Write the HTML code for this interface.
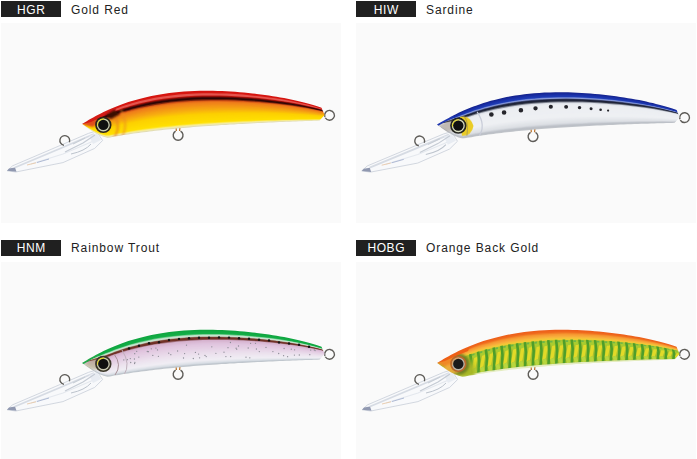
<!DOCTYPE html>
<html><head><meta charset="utf-8">
<style>
html,body{margin:0;padding:0;background:#fff;width:697px;height:459px;overflow:hidden;position:relative;font-family:"Liberation Sans",sans-serif;}
.lab{position:absolute;width:60px;height:16px;background:#202020;color:#fff;font-size:12px;line-height:16px;text-align:center;letter-spacing:0.6px;text-indent:0.6px;}
.nm{position:absolute;height:16px;color:#222;font-size:12px;line-height:16px;letter-spacing:0.9px;white-space:nowrap;}
.lab span,.nm span{position:relative;}
.img{position:absolute;display:block;}
</style></head><body>
<svg width="0" height="0" style="position:absolute">
<defs>
<filter id="blur05" filterUnits="userSpaceOnUse" x="0" y="0" width="340" height="200"><feGaussianBlur stdDeviation="0.4"/></filter>
<filter id="blur1" filterUnits="userSpaceOnUse" x="0" y="0" width="340" height="200"><feGaussianBlur stdDeviation="0.8"/></filter>
<filter id="blur2" filterUnits="userSpaceOnUse" x="0" y="0" width="340" height="200"><feGaussianBlur stdDeviation="2"/></filter>

</defs></svg>

<div class="lab" style="left:1px;top:1px"><span style="top:1px">HGR</span></div>
<div class="nm" style="left:71px;top:1px"><span style="top:1px">Gold Red</span></div>
<svg class="img" style="left:1px;top:23px" width="340" height="200" viewBox="0 0 340 200">
  <rect width="340" height="200" fill="#fafafa"/>
  <g transform="translate(0,0) rotate(0,81,101)">
  <path d="M95.3,108 L87.4,110.4 L54.2,124.6 L11.6,142.8 L6.1,147.8 L14.8,149 L62,139.6 L93.7,125.4 L101.6,117.5 Z" fill="#f8f9fb" stroke="#c8ced8" stroke-width="0.8"/>
  <path d="M14,144.5 L58,126 L93,111" stroke="#d6dbe3" stroke-width="1.8" fill="none"/>
  <path d="M30,141 L62,131 L95,117" stroke="#e4e8ee" stroke-width="1.2" fill="none"/>
  <path d="M36,139.5 L48,136" stroke="#a8b4d0" stroke-width="0.9" fill="none"/>
  <path d="M26,142 L35,139.8" stroke="#e8c8a8" stroke-width="0.9" fill="none"/>
  <path d="M6.1,147.8 L8,145.6 L14,144.6 L15.5,148.8 Z" fill="#9098b0"/>
  <path d="M88,113 L96,110 L100,117 L92,121 Z" fill="#e8ecf2"/>
  <path d="M64,129 L82,120 L94,112" stroke="#c4cad3" stroke-width="1.1" fill="none"/>
  <path d="M70,131 Q84,128 90,121" stroke="#bcc3cc" stroke-width="1" fill="none"/>
  <path d="M72,121 L84,115" stroke="#c8ced6" stroke-width="1.2" fill="none"/>
  <path d="M62.95,122.33 A4.9,4.9 0 1 1 68.40,119.18" fill="none" stroke="#5e5c58" stroke-width="1.4"/>
  <path d="M175,104 L175.4,108 M179,104 L178.6,108" stroke="#b87028" stroke-width="1.2"/>
  <path d="M179.55,108.06 A4.9,4.9 0 1 1 174.65,108.06" fill="none" stroke="#5e5c58" stroke-width="1.4"/>
  <path d="M323.90,93.98 A4.9,4.9 0 1 1 324.26,94.75" fill="none" stroke="#5e5c58" stroke-width="1.4"/>
  <clipPath id="c1"><path d="M81,101 L83.1,99.7 L85.3,98.4 L87.5,97.1 L89.8,95.8 L92.2,94.5 L94.7,93.1 L97.2,91.8 L99.8,90.5 L102.5,89.1 L105.3,87.8 L108.1,86.5 L111.1,85.2 L114.1,83.9 L117.3,82.7 L120.5,81.5 L123.9,80.3 L127.3,79.1 L130.9,78 L134.6,76.9 L138.3,75.9 L142.2,74.9 L146.2,73.9 L150.4,73 L154.7,72.2 L159,71.4 L163.6,70.7 L168.2,70.1 L173,69.5 L177.9,69 L183,68.6 L188.2,68.2 L193.6,68 L199.1,67.8 L203,67.8 L207.5,67.8 L212,67.8 L216.5,67.9 L221,68.1 L225.5,68.3 L229.9,68.5 L234.3,68.8 L238.7,69.2 L243,69.5 L247.3,70 L251.5,70.4 L255.7,70.9 L259.8,71.4 L263.9,72 L267.9,72.6 L271.8,73.2 L275.6,73.8 L279.3,74.5 L283,75.1 L286.6,75.8 L290,76.5 L293.4,77.3 L296.7,78 L299.8,78.8 L302.9,79.5 L305.8,80.3 L308.6,81 L311.2,81.8 L313.8,82.6 L316.2,83.3 L318.4,84.1 L320.5,84.8 L323.6,92 L323.4,88 L323.6,92 L323.6,92 L318.6,97.6 L315.9,97.7 L313,97.8 L310.2,97.9 L307.2,98 L304.3,98.1 L301.2,98.2 L298.1,98.3 L295,98.4 L291.8,98.6 L288.5,98.7 L285.2,98.8 L281.8,98.9 L278.4,99.1 L274.9,99.2 L271.4,99.4 L267.8,99.6 L264.2,99.7 L260.5,99.9 L256.7,100.1 L252.9,100.3 L249.1,100.5 L245.1,100.7 L241.2,100.9 L237.1,101.1 L233.1,101.4 L228.9,101.6 L224.8,101.9 L220.5,102.1 L216.2,102.4 L211.9,102.7 L207.5,103 L203,103.3 L199.4,103.5 L195.8,103.8 L192.3,104.1 L188.8,104.4 L185.4,104.7 L182,105 L178.7,105.3 L175.4,105.6 L172.2,105.9 L169.1,106.2 L165.9,106.5 L162.9,106.8 L159.9,107.2 L156.9,107.5 L154,107.8 L151.1,108.2 L148.3,108.5 L145.5,108.9 L142.8,109.2 L140.1,109.6 L137.5,109.9 L134.9,110.3 L132.3,110.6 L129.8,111 L127.3,111.4 L124.9,111.8 L122.5,112.1 L120.2,112.5 L117.9,112.9 L115.6,113.3 L113.4,113.6 L111.2,114 L109.1,114.4 L107,114.8 L106.2,114.7 L105.4,114.5 L104.5,114.2 L103.6,114 L102.7,113.7 L101.8,113.4 L101,113.1 L100.1,112.7 L99.2,112.4 L98.4,112 L97.6,111.6 L96.7,111.2 L95.9,110.8 L95.1,110.4 L94.3,109.9 L93.5,109.5 L92.7,109 L91.9,108.5 L91.1,108 L90.3,107.5 L89.6,107 L88.8,106.5 L88.1,106 L87.4,105.5 L86.6,105 L85.9,104.5 L85.2,104 L84.5,103.5 L83.8,103 L83.2,102.6 L82.5,102.1 L81.9,101.6 L81.2,101.2 L81,101 Z"/></clipPath>
  <g clip-path="url(#c1)"><g opacity="0.995">
<path d="M81,98 L84,96.2 L87,94.4 L90,92.7 L93,91 L96,89.4 L99,87.9 L102,86.4 L105,84.9 L108,83.6 L111,82.3 L114,81 L117,79.8 L120,78.7 L123,77.6 L126,76.6 L129,75.6 L130,75.3 L138,73 L146,71 L154,69.3 L162,68 L170,66.9 L178,66 L186,65.4 L194,65 L202,64.8 L210,64.8 L218,65 L226,65.3 L234,65.8 L242,66.4 L250,67.2 L258,68.2 L266,69.3 L274,70.5 L282,72 L290,73.5 L298,75.3 L306,77.3 L314,79.6 L318,80.9 L321.5,82.2 L322.8,83.2 L323.4,85 L323.6,89 L323.6,95 L323.4,98 L322.8,99.8 L321.5,100.2 L318,100.7 L314,100.8 L306,101 L298,101.3 L290,101.6 L282,101.9 L274,102.3 L266,102.6 L258,103 L250,103.4 L242,103.9 L234,104.3 L226,104.8 L218,105.3 L210,105.8 L202,106.4 L194,107 L186,107.6 L178,108.3 L170,109.1 L162,109.9 L154,110.8 L146,111.8 L138,112.8 L130,114 L129,114.1 L126,114.6 L123,115 L120,115.5 L117,116 L114,116.5 L111,117.1 L108,117.6 L105,117.4 L102,116.5 L99,115.3 L96,113.8 L93,112.2 L90,110.3 L87,108.3 L84,106.2 L81,104 Z" fill="#d51610"/>
<path d="M81,101 L84,99.3 L87,97.6 L90,96 L93,94.4 L96,92.9 L99,91.4 L102,89.9 L105,88.6 L108,87.2 L111,85.9 L114,84.7 L117,83.5 L120,82.4 L123,81.3 L126,80.3 L129,79.3 L130,79 L138,76.8 L146,74.8 L154,73.2 L162,71.8 L170,70.7 L178,69.8 L186,69.2 L194,68.8 L202,68.6 L210,68.6 L218,68.8 L226,69.1 L234,69.6 L242,70.2 L250,71 L258,71.9 L266,72.9 L274,74.1 L282,75.5 L290,77.1 L298,78.8 L306,80.7 L314,83 L318,84.3 L321.5,85.5 L322.8,86.4 L323.4,88.2 L323.6,92 L323.6,95 L323.4,98 L322.8,99.8 L321.5,100.2 L318,100.7 L314,100.8 L306,101 L298,101.3 L290,101.6 L282,101.9 L274,102.3 L266,102.6 L258,103 L250,103.4 L242,103.9 L234,104.3 L226,104.8 L218,105.3 L210,105.8 L202,106.4 L194,107 L186,107.6 L178,108.3 L170,109.1 L162,109.9 L154,110.8 L146,111.8 L138,112.8 L130,114 L129,114.1 L126,114.6 L123,115 L120,115.5 L117,116 L114,116.5 L111,117.1 L108,117.6 L105,117.4 L102,116.5 L99,115.3 L96,113.8 L93,112.2 L90,110.3 L87,108.3 L84,106.2 L81,104 Z" fill="#d61611"/>
<path d="M81,101 L84,99.4 L87,97.8 L90,96.2 L93,94.7 L96,93.3 L99,91.9 L102,90.5 L105,89.2 L108,87.9 L111,86.6 L114,85.4 L117,84.2 L120,83.1 L123,82.1 L126,81.1 L129,80.1 L130,79.8 L138,77.5 L146,75.6 L154,74 L162,72.6 L170,71.5 L178,70.7 L186,70.1 L194,69.7 L202,69.4 L210,69.4 L218,69.6 L226,69.9 L234,70.3 L242,70.9 L250,71.7 L258,72.5 L266,73.6 L274,74.7 L282,76.1 L290,77.6 L298,79.2 L306,81.1 L314,83.3 L318,84.6 L321.5,85.8 L322.8,86.7 L323.4,88.3 L323.6,92 L323.6,95 L323.4,98 L322.8,99.8 L321.5,100.2 L318,100.7 L314,100.8 L306,101 L298,101.3 L290,101.6 L282,101.9 L274,102.3 L266,102.6 L258,103 L250,103.4 L242,103.9 L234,104.3 L226,104.8 L218,105.3 L210,105.8 L202,106.4 L194,107 L186,107.6 L178,108.3 L170,109.1 L162,109.9 L154,110.8 L146,111.8 L138,112.8 L130,114 L129,114.1 L126,114.6 L123,115 L120,115.5 L117,116 L114,116.5 L111,117.1 L108,117.6 L105,117.4 L102,116.5 L99,115.3 L96,113.8 L93,112.2 L90,110.3 L87,108.3 L84,106.2 L81,104 Z" fill="#d71812"/>
<path d="M81,101 L84,99.5 L87,98 L90,96.5 L93,95.1 L96,93.7 L99,92.4 L102,91.1 L105,89.8 L108,88.5 L111,87.3 L114,86.1 L117,84.9 L120,83.8 L123,82.8 L126,81.8 L129,80.9 L130,80.6 L138,78.3 L146,76.4 L154,74.8 L162,73.5 L170,72.4 L178,71.5 L186,70.9 L194,70.5 L202,70.3 L210,70.2 L218,70.4 L226,70.6 L234,71.1 L242,71.6 L250,72.4 L258,73.2 L266,74.2 L274,75.3 L282,76.6 L290,78.1 L298,79.7 L306,81.6 L314,83.7 L318,84.9 L321.5,86 L322.8,86.9 L323.4,88.5 L323.6,92 L323.6,95 L323.4,98 L322.8,99.8 L321.5,100.2 L318,100.7 L314,100.8 L306,101 L298,101.3 L290,101.6 L282,101.9 L274,102.3 L266,102.6 L258,103 L250,103.4 L242,103.9 L234,104.3 L226,104.8 L218,105.3 L210,105.8 L202,106.4 L194,107 L186,107.6 L178,108.3 L170,109.1 L162,109.9 L154,110.8 L146,111.8 L138,112.8 L130,114 L129,114.1 L126,114.6 L123,115 L120,115.5 L117,116 L114,116.5 L111,117.1 L108,117.6 L105,117.4 L102,116.5 L99,115.3 L96,113.8 L93,112.2 L90,110.3 L87,108.3 L84,106.2 L81,104 Z" fill="#e4544d"/>
<path d="M81,101 L84,99.6 L87,98.2 L90,96.9 L93,95.6 L96,94.4 L99,93.1 L102,91.9 L105,90.7 L108,89.5 L111,88.3 L114,87.1 L117,86 L120,84.9 L123,83.9 L126,82.9 L129,82 L130,81.7 L138,79.5 L146,77.6 L154,76.1 L162,74.7 L170,73.7 L178,72.8 L186,72.2 L194,71.8 L202,71.5 L210,71.5 L218,71.6 L226,71.8 L234,72.2 L242,72.7 L250,73.4 L258,74.2 L266,75.2 L274,76.2 L282,77.5 L290,78.9 L298,80.4 L306,82.2 L314,84.2 L318,85.4 L321.5,86.5 L322.8,87.3 L323.4,88.7 L323.6,92 L323.6,95 L323.4,98 L322.8,99.8 L321.5,100.2 L318,100.7 L314,100.8 L306,101 L298,101.3 L290,101.6 L282,101.9 L274,102.3 L266,102.6 L258,103 L250,103.4 L242,103.9 L234,104.3 L226,104.8 L218,105.3 L210,105.8 L202,106.4 L194,107 L186,107.6 L178,108.3 L170,109.1 L162,109.9 L154,110.8 L146,111.8 L138,112.8 L130,114 L129,114.1 L126,114.6 L123,115 L120,115.5 L117,116 L114,116.5 L111,117.1 L108,117.6 L105,117.4 L102,116.5 L99,115.3 L96,113.8 L93,112.2 L90,110.3 L87,108.3 L84,106.2 L81,104 Z" fill="#e4554e"/>
<path d="M81,101 L84,99.7 L87,98.5 L90,97.3 L93,96.1 L96,94.9 L99,93.8 L102,92.6 L105,91.5 L108,90.4 L111,89.1 L114,88 L117,86.9 L120,85.8 L123,84.8 L126,83.9 L129,83 L130,82.7 L138,80.5 L146,78.7 L154,77.1 L162,75.8 L170,74.7 L178,73.9 L186,73.3 L194,72.8 L202,72.6 L210,72.5 L218,72.6 L226,72.8 L234,73.2 L242,73.7 L250,74.3 L258,75.1 L266,76 L274,77 L282,78.2 L290,79.5 L298,81 L306,82.7 L314,84.7 L318,85.8 L321.5,86.8 L322.8,87.6 L323.4,88.9 L323.6,92 L323.6,95 L323.4,98 L322.8,99.8 L321.5,100.2 L318,100.7 L314,100.8 L306,101 L298,101.3 L290,101.6 L282,101.9 L274,102.3 L266,102.6 L258,103 L250,103.4 L242,103.9 L234,104.3 L226,104.8 L218,105.3 L210,105.8 L202,106.4 L194,107 L186,107.6 L178,108.3 L170,109.1 L162,109.9 L154,110.8 L146,111.8 L138,112.8 L130,114 L129,114.1 L126,114.6 L123,115 L120,115.5 L117,116 L114,116.5 L111,117.1 L108,117.6 L105,117.4 L102,116.5 L99,115.3 L96,113.8 L93,112.2 L90,110.3 L87,108.3 L84,106.2 L81,104 Z" fill="#bc150e"/>
<path d="M81,101 L84,99.8 L87,98.7 L90,97.6 L93,96.5 L96,95.4 L99,94.3 L102,93.2 L105,92.2 L108,91.1 L111,89.9 L114,88.7 L117,87.6 L120,86.6 L123,85.6 L126,84.7 L129,83.8 L130,83.5 L138,81.4 L146,79.6 L154,78 L162,76.7 L170,75.7 L178,74.8 L186,74.2 L194,73.7 L202,73.5 L210,73.4 L218,73.5 L226,73.7 L234,74 L242,74.5 L250,75.1 L258,75.8 L266,76.7 L274,77.7 L282,78.8 L290,80.1 L298,81.5 L306,83.2 L314,85.1 L318,86.1 L321.5,87.1 L322.8,87.9 L323.4,89.1 L323.6,92 L323.6,95 L323.4,98 L322.8,99.8 L321.5,100.2 L318,100.7 L314,100.8 L306,101 L298,101.3 L290,101.6 L282,101.9 L274,102.3 L266,102.6 L258,103 L250,103.4 L242,103.9 L234,104.3 L226,104.8 L218,105.3 L210,105.8 L202,106.4 L194,107 L186,107.6 L178,108.3 L170,109.1 L162,109.9 L154,110.8 L146,111.8 L138,112.8 L130,114 L129,114.1 L126,114.6 L123,115 L120,115.5 L117,116 L114,116.5 L111,117.1 L108,117.6 L105,117.4 L102,116.5 L99,115.3 L96,113.8 L93,112.2 L90,110.3 L87,108.3 L84,106.2 L81,104 Z" fill="#680b07"/>
<path d="M81,101 L84,99.9 L87,98.9 L90,97.9 L93,96.9 L96,95.9 L99,94.9 L102,94 L105,93 L108,91.9 L111,90.7 L114,89.6 L117,88.5 L120,87.5 L123,86.6 L126,85.6 L129,84.8 L130,84.5 L138,82.4 L146,80.6 L154,79.1 L162,77.8 L170,76.7 L178,75.9 L186,75.3 L194,74.8 L202,74.5 L210,74.4 L218,74.5 L226,74.7 L234,75 L242,75.4 L250,76 L258,76.7 L266,77.5 L274,78.4 L282,79.5 L290,80.7 L298,82.1 L306,83.7 L314,85.5 L318,86.5 L321.5,87.5 L322.8,88.2 L323.4,89.3 L323.6,92 L323.6,95 L323.4,98 L322.8,99.8 L321.5,100.2 L318,100.7 L314,100.8 L306,101 L298,101.3 L290,101.6 L282,101.9 L274,102.3 L266,102.6 L258,103 L250,103.4 L242,103.9 L234,104.3 L226,104.8 L218,105.3 L210,105.8 L202,106.4 L194,107 L186,107.6 L178,108.3 L170,109.1 L162,109.9 L154,110.8 L146,111.8 L138,112.8 L130,114 L129,114.1 L126,114.6 L123,115 L120,115.5 L117,116 L114,116.5 L111,117.1 L108,117.6 L105,117.4 L102,116.5 L99,115.3 L96,113.8 L93,112.2 L90,110.3 L87,108.3 L84,106.2 L81,104 Z" fill="#2e0606"/>
<path d="M81,101 L84,100 L87,99.1 L90,98.2 L93,97.3 L96,96.4 L99,95.5 L102,94.6 L105,93.6 L108,92.6 L111,91.5 L114,90.4 L117,89.3 L120,88.3 L123,87.4 L126,86.4 L129,85.6 L130,85.3 L138,83.2 L146,81.5 L154,80 L162,78.7 L170,77.6 L178,76.8 L186,76.2 L194,75.7 L202,75.4 L210,75.3 L218,75.3 L226,75.5 L234,75.8 L242,76.2 L250,76.7 L258,77.4 L266,78.2 L274,79.1 L282,80.1 L290,81.3 L298,82.6 L306,84.1 L314,85.9 L318,86.9 L321.5,87.8 L322.8,88.5 L323.4,89.5 L323.6,92 L323.6,95 L323.4,98 L322.8,99.8 L321.5,100.2 L318,100.7 L314,100.8 L306,101 L298,101.3 L290,101.6 L282,101.9 L274,102.3 L266,102.6 L258,103 L250,103.4 L242,103.9 L234,104.3 L226,104.8 L218,105.3 L210,105.8 L202,106.4 L194,107 L186,107.6 L178,108.3 L170,109.1 L162,109.9 L154,110.8 L146,111.8 L138,112.8 L130,114 L129,114.1 L126,114.6 L123,115 L120,115.5 L117,116 L114,116.5 L111,117.1 L108,117.6 L105,117.4 L102,116.5 L99,115.3 L96,113.8 L93,112.2 L90,110.3 L87,108.3 L84,106.2 L81,104 Z" fill="#2c0606"/>
<path d="M81,101 L84,100.1 L87,99.3 L90,98.5 L93,97.7 L96,96.8 L99,96 L102,95.2 L105,94.3 L108,93.3 L111,92.2 L114,91.1 L117,90.1 L120,89.1 L123,88.1 L126,87.2 L129,86.4 L130,86.1 L138,84.1 L146,82.3 L154,80.8 L162,79.6 L170,78.6 L178,77.7 L186,77.1 L194,76.6 L202,76.3 L210,76.2 L218,76.2 L226,76.3 L234,76.6 L242,77 L250,77.5 L258,78.1 L266,78.9 L274,79.7 L282,80.7 L290,81.8 L298,83.1 L306,84.6 L314,86.3 L318,87.2 L321.5,88.1 L322.8,88.7 L323.4,89.7 L323.6,92 L323.6,95 L323.4,98 L322.8,99.8 L321.5,100.2 L318,100.7 L314,100.8 L306,101 L298,101.3 L290,101.6 L282,101.9 L274,102.3 L266,102.6 L258,103 L250,103.4 L242,103.9 L234,104.3 L226,104.8 L218,105.3 L210,105.8 L202,106.4 L194,107 L186,107.6 L178,108.3 L170,109.1 L162,109.9 L154,110.8 L146,111.8 L138,112.8 L130,114 L129,114.1 L126,114.6 L123,115 L120,115.5 L117,116 L114,116.5 L111,117.1 L108,117.6 L105,117.4 L102,116.5 L99,115.3 L96,113.8 L93,112.2 L90,110.3 L87,108.3 L84,106.2 L81,104 Z" fill="#79250d"/>
<path d="M81,101 L84,100.3 L87,99.5 L90,98.8 L93,98.1 L96,97.4 L99,96.7 L102,95.9 L105,95.1 L108,94.1 L111,93 L114,92 L117,91 L120,90 L123,89.1 L126,88.2 L129,87.4 L130,87.1 L138,85.1 L146,83.4 L154,81.9 L162,80.7 L170,79.6 L178,78.8 L186,78.2 L194,77.7 L202,77.4 L210,77.2 L218,77.2 L226,77.3 L234,77.6 L242,77.9 L250,78.4 L258,79 L266,79.7 L274,80.5 L282,81.4 L290,82.5 L298,83.7 L306,85.1 L314,86.7 L318,87.6 L321.5,88.4 L322.8,89.1 L323.4,89.9 L323.6,92 L323.6,95 L323.4,98 L322.8,99.8 L321.5,100.2 L318,100.7 L314,100.8 L306,101 L298,101.3 L290,101.6 L282,101.9 L274,102.3 L266,102.6 L258,103 L250,103.4 L242,103.9 L234,104.3 L226,104.8 L218,105.3 L210,105.8 L202,106.4 L194,107 L186,107.6 L178,108.3 L170,109.1 L162,109.9 L154,110.8 L146,111.8 L138,112.8 L130,114 L129,114.1 L126,114.6 L123,115 L120,115.5 L117,116 L114,116.5 L111,117.1 L108,117.6 L105,117.4 L102,116.5 L99,115.3 L96,113.8 L93,112.2 L90,110.3 L87,108.3 L84,106.2 L81,104 Z" fill="#d25216"/>
<path d="M81,101 L84,100.4 L87,99.7 L90,99.1 L93,98.5 L96,97.9 L99,97.2 L102,96.5 L105,95.7 L108,94.8 L111,93.8 L114,92.7 L117,91.7 L120,90.8 L123,89.9 L126,89 L129,88.2 L130,87.9 L138,86 L146,84.3 L154,82.8 L162,81.6 L170,80.5 L178,79.7 L186,79.1 L194,78.6 L202,78.3 L210,78.1 L218,78.1 L226,78.2 L234,78.4 L242,78.7 L250,79.2 L258,79.7 L266,80.4 L274,81.1 L282,82 L290,83.1 L298,84.2 L306,85.6 L314,87.1 L318,88 L321.5,88.7 L322.8,89.3 L323.4,90.1 L323.6,92 L323.6,95 L323.4,98 L322.8,99.8 L321.5,100.2 L318,100.7 L314,100.8 L306,101 L298,101.3 L290,101.6 L282,101.9 L274,102.3 L266,102.6 L258,103 L250,103.4 L242,103.9 L234,104.3 L226,104.8 L218,105.3 L210,105.8 L202,106.4 L194,107 L186,107.6 L178,108.3 L170,109.1 L162,109.9 L154,110.8 L146,111.8 L138,112.8 L130,114 L129,114.1 L126,114.6 L123,115 L120,115.5 L117,116 L114,116.5 L111,117.1 L108,117.6 L105,117.4 L102,116.5 L99,115.3 L96,113.8 L93,112.2 L90,110.3 L87,108.3 L84,106.2 L81,104 Z" fill="#e46c1a"/>
<path d="M81,101 L84,100.5 L87,99.9 L90,99.4 L93,98.9 L96,98.3 L99,97.7 L102,97.1 L105,96.4 L108,95.5 L111,94.5 L114,93.5 L117,92.5 L120,91.5 L123,90.7 L126,89.8 L129,89 L130,88.7 L138,86.8 L146,85.1 L154,83.7 L162,82.5 L170,81.5 L178,80.6 L186,80 L194,79.5 L202,79.2 L210,79 L218,78.9 L226,79 L234,79.2 L242,79.5 L250,79.9 L258,80.4 L266,81 L274,81.8 L282,82.6 L290,83.6 L298,84.7 L306,86 L314,87.5 L318,88.3 L321.5,89 L322.8,89.6 L323.4,90.2 L323.6,92 L323.6,95 L323.4,98 L322.8,99.8 L321.5,100.2 L318,100.7 L314,100.8 L306,101 L298,101.3 L290,101.6 L282,101.9 L274,102.3 L266,102.6 L258,103 L250,103.4 L242,103.9 L234,104.3 L226,104.8 L218,105.3 L210,105.8 L202,106.4 L194,107 L186,107.6 L178,108.3 L170,109.1 L162,109.9 L154,110.8 L146,111.8 L138,112.8 L130,114 L129,114.1 L126,114.6 L123,115 L120,115.5 L117,116 L114,116.5 L111,117.1 L108,117.6 L105,117.4 L102,116.5 L99,115.3 L96,113.8 L93,112.2 L90,110.3 L87,108.3 L84,106.2 L81,104 Z" fill="#ef7d1b"/>
<path d="M81,101 L84,100.6 L87,100.1 L90,99.7 L93,99.3 L96,98.8 L99,98.3 L102,97.7 L105,97.1 L108,96.3 L111,95.2 L114,94.2 L117,93.3 L120,92.3 L123,91.5 L126,90.6 L129,89.8 L130,89.6 L138,87.7 L146,86 L154,84.6 L162,83.4 L170,82.4 L178,81.6 L186,80.9 L194,80.4 L202,80.1 L210,79.9 L218,79.8 L226,79.9 L234,80 L242,80.3 L250,80.7 L258,81.2 L266,81.7 L274,82.4 L282,83.2 L290,84.2 L298,85.2 L306,86.4 L314,87.9 L318,88.7 L321.5,89.3 L322.8,89.9 L323.4,90.4 L323.6,92 L323.6,95 L323.4,98 L322.8,99.8 L321.5,100.2 L318,100.7 L314,100.8 L306,101 L298,101.3 L290,101.6 L282,101.9 L274,102.3 L266,102.6 L258,103 L250,103.4 L242,103.9 L234,104.3 L226,104.8 L218,105.3 L210,105.8 L202,106.4 L194,107 L186,107.6 L178,108.3 L170,109.1 L162,109.9 L154,110.8 L146,111.8 L138,112.8 L130,114 L129,114.1 L126,114.6 L123,115 L120,115.5 L117,116 L114,116.5 L111,117.1 L108,117.6 L105,117.4 L102,116.5 L99,115.3 L96,113.8 L93,112.2 L90,110.3 L87,108.3 L84,106.2 L81,104 Z" fill="#f0831a"/>
<path d="M81,101 L84,100.7 L87,100.3 L90,100 L93,99.7 L96,99.3 L99,98.8 L102,98.3 L105,97.7 L108,97 L111,95.9 L114,95 L117,94 L120,93.1 L123,92.3 L126,91.4 L129,90.7 L130,90.4 L138,88.5 L146,86.9 L154,85.5 L162,84.3 L170,83.3 L178,82.5 L186,81.8 L194,81.3 L202,81 L210,80.8 L218,80.7 L226,80.7 L234,80.9 L242,81.1 L250,81.5 L258,81.9 L266,82.4 L274,83.1 L282,83.9 L290,84.7 L298,85.7 L306,86.9 L314,88.3 L318,89 L321.5,89.6 L322.8,90.1 L323.4,90.6 L323.6,92 L323.6,95 L323.4,98 L322.8,99.8 L321.5,100.2 L318,100.7 L314,100.8 L306,101 L298,101.3 L290,101.6 L282,101.9 L274,102.3 L266,102.6 L258,103 L250,103.4 L242,103.9 L234,104.3 L226,104.8 L218,105.3 L210,105.8 L202,106.4 L194,107 L186,107.6 L178,108.3 L170,109.1 L162,109.9 L154,110.8 L146,111.8 L138,112.8 L130,114 L129,114.1 L126,114.6 L123,115 L120,115.5 L117,116 L114,116.5 L111,117.1 L108,117.6 L105,117.4 L102,116.5 L99,115.3 L96,113.8 L93,112.2 L90,110.3 L87,108.3 L84,106.2 L81,104 Z" fill="#f18919"/>
<path d="M81,101 L84,100.8 L87,100.5 L90,100.3 L93,100 L96,99.7 L99,99.4 L102,98.9 L105,98.4 L108,97.7 L111,96.7 L114,95.7 L117,94.8 L120,93.9 L123,93.1 L126,92.3 L129,91.5 L130,91.2 L138,89.4 L146,87.8 L154,86.4 L162,85.2 L170,84.2 L178,83.4 L186,82.8 L194,82.2 L202,81.9 L210,81.7 L218,81.6 L226,81.6 L234,81.7 L242,81.9 L250,82.2 L258,82.6 L266,83.1 L274,83.8 L282,84.5 L290,85.3 L298,86.3 L306,87.4 L314,88.6 L318,89.4 L321.5,89.9 L322.8,90.4 L323.4,90.8 L323.6,92 L323.6,95 L323.4,98 L322.8,99.8 L321.5,100.2 L318,100.7 L314,100.8 L306,101 L298,101.3 L290,101.6 L282,101.9 L274,102.3 L266,102.6 L258,103 L250,103.4 L242,103.9 L234,104.3 L226,104.8 L218,105.3 L210,105.8 L202,106.4 L194,107 L186,107.6 L178,108.3 L170,109.1 L162,109.9 L154,110.8 L146,111.8 L138,112.8 L130,114 L129,114.1 L126,114.6 L123,115 L120,115.5 L117,116 L114,116.5 L111,117.1 L108,117.6 L105,117.4 L102,116.5 L99,115.3 L96,113.8 L93,112.2 L90,110.3 L87,108.3 L84,106.2 L81,104 Z" fill="#f28f17"/>
<path d="M81,101 L84,100.9 L87,100.7 L90,100.6 L93,100.4 L96,100.2 L99,99.9 L102,99.5 L105,99.1 L108,98.4 L111,97.4 L114,96.5 L117,95.6 L120,94.7 L123,93.9 L126,93.1 L129,92.3 L130,92.1 L138,90.3 L146,88.7 L154,87.3 L162,86.1 L170,85.2 L178,84.3 L186,83.7 L194,83.2 L202,82.8 L210,82.6 L218,82.5 L226,82.4 L234,82.5 L242,82.7 L250,83 L258,83.4 L266,83.8 L274,84.4 L282,85.1 L290,85.9 L298,86.8 L306,87.8 L314,89 L318,89.7 L321.5,90.3 L322.8,90.7 L323.4,91 L323.6,92 L323.6,95 L323.4,98 L322.8,99.8 L321.5,100.2 L318,100.7 L314,100.8 L306,101 L298,101.3 L290,101.6 L282,101.9 L274,102.3 L266,102.6 L258,103 L250,103.4 L242,103.9 L234,104.3 L226,104.8 L218,105.3 L210,105.8 L202,106.4 L194,107 L186,107.6 L178,108.3 L170,109.1 L162,109.9 L154,110.8 L146,111.8 L138,112.8 L130,114 L129,114.1 L126,114.6 L123,115 L120,115.5 L117,116 L114,116.5 L111,117.1 L108,117.6 L105,117.4 L102,116.5 L99,115.3 L96,113.8 L93,112.2 L90,110.3 L87,108.3 L84,106.2 L81,104 Z" fill="#f39516"/>
<path d="M81,101 L84,101 L87,100.9 L90,100.9 L93,100.8 L96,100.7 L99,100.5 L102,100.2 L105,99.8 L108,99.1 L111,98.2 L114,97.2 L117,96.3 L120,95.5 L123,94.7 L126,93.9 L129,93.2 L130,92.9 L138,91.1 L146,89.6 L154,88.2 L162,87.1 L170,86.1 L178,85.3 L186,84.6 L194,84.1 L202,83.7 L210,83.5 L218,83.3 L226,83.3 L234,83.4 L242,83.5 L250,83.8 L258,84.1 L266,84.5 L274,85.1 L282,85.7 L290,86.4 L298,87.3 L306,88.3 L314,89.4 L318,90.1 L321.5,90.6 L322.8,90.9 L323.4,91.1 L323.6,92 L323.6,95 L323.4,98 L322.8,99.8 L321.5,100.2 L318,100.7 L314,100.8 L306,101 L298,101.3 L290,101.6 L282,101.9 L274,102.3 L266,102.6 L258,103 L250,103.4 L242,103.9 L234,104.3 L226,104.8 L218,105.3 L210,105.8 L202,106.4 L194,107 L186,107.6 L178,108.3 L170,109.1 L162,109.9 L154,110.8 L146,111.8 L138,112.8 L130,114 L129,114.1 L126,114.6 L123,115 L120,115.5 L117,116 L114,116.5 L111,117.1 L108,117.6 L105,117.4 L102,116.5 L99,115.3 L96,113.8 L93,112.2 L90,110.3 L87,108.3 L84,106.2 L81,104 Z" fill="#f49b15"/>
<path d="M81,101 L84,101.1 L87,101.1 L90,101.2 L93,101.2 L96,101.1 L99,101 L102,100.8 L105,100.5 L108,99.8 L111,98.9 L114,98 L117,97.1 L120,96.3 L123,95.5 L126,94.7 L129,94 L130,93.8 L138,92 L146,90.5 L154,89.1 L162,88 L170,87 L178,86.2 L186,85.5 L194,85 L202,84.6 L210,84.4 L218,84.2 L226,84.2 L234,84.2 L242,84.3 L250,84.5 L258,84.8 L266,85.2 L274,85.7 L282,86.3 L290,87 L298,87.8 L306,88.7 L314,89.8 L318,90.4 L321.5,90.9 L322.8,91.2 L323.4,91.3 L323.6,92 L323.6,95 L323.4,98 L322.8,99.8 L321.5,100.2 L318,100.7 L314,100.8 L306,101 L298,101.3 L290,101.6 L282,101.9 L274,102.3 L266,102.6 L258,103 L250,103.4 L242,103.9 L234,104.3 L226,104.8 L218,105.3 L210,105.8 L202,106.4 L194,107 L186,107.6 L178,108.3 L170,109.1 L162,109.9 L154,110.8 L146,111.8 L138,112.8 L130,114 L129,114.1 L126,114.6 L123,115 L120,115.5 L117,116 L114,116.5 L111,117.1 L108,117.6 L105,117.4 L102,116.5 L99,115.3 L96,113.8 L93,112.2 L90,110.3 L87,108.3 L84,106.2 L81,104 Z" fill="#f5a113"/>
<path d="M81,101 L84,101.2 L87,101.3 L90,101.5 L93,101.6 L96,101.6 L99,101.6 L102,101.4 L105,101.1 L108,100.6 L111,99.6 L114,98.7 L117,97.9 L120,97.1 L123,96.3 L126,95.5 L129,94.8 L130,94.6 L138,92.9 L146,91.4 L154,90 L162,88.9 L170,87.9 L178,87.1 L186,86.5 L194,85.9 L202,85.5 L210,85.3 L218,85.1 L226,85 L234,85 L242,85.1 L250,85.3 L258,85.6 L266,85.9 L274,86.4 L282,86.9 L290,87.6 L298,88.3 L306,89.2 L314,90.2 L318,90.8 L321.5,91.2 L322.8,91.5 L323.4,91.5 L323.6,92 L323.6,95 L323.4,98 L322.8,99.8 L321.5,100.2 L318,100.7 L314,100.8 L306,101 L298,101.3 L290,101.6 L282,101.9 L274,102.3 L266,102.6 L258,103 L250,103.4 L242,103.9 L234,104.3 L226,104.8 L218,105.3 L210,105.8 L202,106.4 L194,107 L186,107.6 L178,108.3 L170,109.1 L162,109.9 L154,110.8 L146,111.8 L138,112.8 L130,114 L129,114.1 L126,114.6 L123,115 L120,115.5 L117,116 L114,116.5 L111,117.1 L108,117.6 L105,117.4 L102,116.5 L99,115.3 L96,113.8 L93,112.2 L90,110.3 L87,108.3 L84,106.2 L81,104 Z" fill="#f6a712"/>
<path d="M81,101 L84,101.3 L87,101.5 L90,101.8 L93,102 L96,102.1 L99,102.1 L102,102 L105,101.8 L108,101.3 L111,100.4 L114,99.5 L117,98.7 L120,97.9 L123,97.1 L126,96.4 L129,95.7 L130,95.4 L138,93.7 L146,92.2 L154,90.9 L162,89.8 L170,88.9 L178,88.1 L186,87.4 L194,86.8 L202,86.4 L210,86.2 L218,86 L226,85.9 L234,85.9 L242,85.9 L250,86.1 L258,86.3 L266,86.6 L274,87 L282,87.5 L290,88.1 L298,88.8 L306,89.6 L314,90.6 L318,91.1 L321.5,91.5 L322.8,91.8 L323.4,91.7 L323.6,92 L323.6,95 L323.4,98 L322.8,99.8 L321.5,100.2 L318,100.7 L314,100.8 L306,101 L298,101.3 L290,101.6 L282,101.9 L274,102.3 L266,102.6 L258,103 L250,103.4 L242,103.9 L234,104.3 L226,104.8 L218,105.3 L210,105.8 L202,106.4 L194,107 L186,107.6 L178,108.3 L170,109.1 L162,109.9 L154,110.8 L146,111.8 L138,112.8 L130,114 L129,114.1 L126,114.6 L123,115 L120,115.5 L117,116 L114,116.5 L111,117.1 L108,117.6 L105,117.4 L102,116.5 L99,115.3 L96,113.8 L93,112.2 L90,110.3 L87,108.3 L84,106.2 L81,104 Z" fill="#f7ad11"/>
<path d="M81,101 L84,101.4 L87,101.7 L90,102.1 L93,102.4 L96,102.6 L99,102.6 L102,102.6 L105,102.5 L108,102 L111,101.1 L114,100.2 L117,99.4 L120,98.6 L123,97.9 L126,97.2 L129,96.5 L130,96.3 L138,94.6 L146,93.1 L154,91.9 L162,90.7 L170,89.8 L178,89 L186,88.3 L194,87.8 L202,87.3 L210,87.1 L218,86.8 L226,86.7 L234,86.7 L242,86.7 L250,86.9 L258,87.1 L266,87.3 L274,87.7 L282,88.1 L290,88.7 L298,89.3 L306,90.1 L314,91 L318,91.5 L321.5,91.8 L322.8,92 L323.4,91.8 L323.6,92 L323.6,95 L323.4,98 L322.8,99.8 L321.5,100.2 L318,100.7 L314,100.8 L306,101 L298,101.3 L290,101.6 L282,101.9 L274,102.3 L266,102.6 L258,103 L250,103.4 L242,103.9 L234,104.3 L226,104.8 L218,105.3 L210,105.8 L202,106.4 L194,107 L186,107.6 L178,108.3 L170,109.1 L162,109.9 L154,110.8 L146,111.8 L138,112.8 L130,114 L129,114.1 L126,114.6 L123,115 L120,115.5 L117,116 L114,116.5 L111,117.1 L108,117.6 L105,117.4 L102,116.5 L99,115.3 L96,113.8 L93,112.2 L90,110.3 L87,108.3 L84,106.2 L81,104 Z" fill="#f8b40e"/>
<path d="M81,101 L84,101.5 L87,102 L90,102.4 L93,102.8 L96,103.1 L99,103.2 L102,103.3 L105,103.2 L108,102.8 L111,101.9 L114,101.1 L117,100.3 L120,99.5 L123,98.8 L126,98.1 L129,97.4 L130,97.2 L138,95.5 L146,94.1 L154,92.8 L162,91.7 L170,90.8 L178,90 L186,89.3 L194,88.8 L202,88.3 L210,88 L218,87.8 L226,87.6 L234,87.6 L242,87.6 L250,87.7 L258,87.8 L266,88.1 L274,88.4 L282,88.8 L290,89.3 L298,89.9 L306,90.6 L314,91.4 L318,91.9 L321.5,92.1 L322.8,92.3 L323.4,92 L323.6,92 L323.6,95 L323.4,98 L322.8,99.8 L321.5,100.2 L318,100.7 L314,100.8 L306,101 L298,101.3 L290,101.6 L282,101.9 L274,102.3 L266,102.6 L258,103 L250,103.4 L242,103.9 L234,104.3 L226,104.8 L218,105.3 L210,105.8 L202,106.4 L194,107 L186,107.6 L178,108.3 L170,109.1 L162,109.9 L154,110.8 L146,111.8 L138,112.8 L130,114 L129,114.1 L126,114.6 L123,115 L120,115.5 L117,116 L114,116.5 L111,117.1 L108,117.6 L105,117.4 L102,116.5 L99,115.3 L96,113.8 L93,112.2 L90,110.3 L87,108.3 L84,106.2 L81,104 Z" fill="#fabc0a"/>
<path d="M81,101 L84,101.6 L87,102.2 L90,102.7 L93,103.2 L96,103.6 L99,103.8 L102,104 L105,103.9 L108,103.5 L111,102.7 L114,101.9 L117,101.1 L120,100.3 L123,99.6 L126,98.9 L129,98.3 L130,98.1 L138,96.5 L146,95.1 L154,93.8 L162,92.7 L170,91.8 L178,91 L186,90.3 L194,89.7 L202,89.3 L210,89 L218,88.7 L226,88.6 L234,88.5 L242,88.5 L250,88.5 L258,88.6 L266,88.8 L274,89.1 L282,89.5 L290,89.9 L298,90.4 L306,91 L314,91.8 L318,92.2 L321.5,92.4 L322.8,92.6 L323.4,92.2 L323.6,92 L323.6,95 L323.4,98 L322.8,99.8 L321.5,100.2 L318,100.7 L314,100.8 L306,101 L298,101.3 L290,101.6 L282,101.9 L274,102.3 L266,102.6 L258,103 L250,103.4 L242,103.9 L234,104.3 L226,104.8 L218,105.3 L210,105.8 L202,106.4 L194,107 L186,107.6 L178,108.3 L170,109.1 L162,109.9 L154,110.8 L146,111.8 L138,112.8 L130,114 L129,114.1 L126,114.6 L123,115 L120,115.5 L117,116 L114,116.5 L111,117.1 L108,117.6 L105,117.4 L102,116.5 L99,115.3 L96,113.8 L93,112.2 L90,110.3 L87,108.3 L84,106.2 L81,104 Z" fill="#fac406"/>
<path d="M81,101 L84,101.7 L87,102.4 L90,103 L93,103.6 L96,104.1 L99,104.4 L102,104.6 L105,104.7 L108,104.3 L111,103.5 L114,102.7 L117,101.9 L120,101.2 L123,100.5 L126,99.8 L129,99.2 L130,99 L138,97.4 L146,96 L154,94.8 L162,93.7 L170,92.8 L178,92 L186,91.3 L194,90.7 L202,90.3 L210,89.9 L218,89.7 L226,89.5 L234,89.4 L242,89.3 L250,89.3 L258,89.4 L266,89.6 L274,89.8 L282,90.1 L290,90.5 L298,91 L306,91.5 L314,92.2 L318,92.6 L321.5,92.8 L322.8,92.9 L323.4,92.4 L323.6,92 L323.6,95 L323.4,98 L322.8,99.8 L321.5,100.2 L318,100.7 L314,100.8 L306,101 L298,101.3 L290,101.6 L282,101.9 L274,102.3 L266,102.6 L258,103 L250,103.4 L242,103.9 L234,104.3 L226,104.8 L218,105.3 L210,105.8 L202,106.4 L194,107 L186,107.6 L178,108.3 L170,109.1 L162,109.9 L154,110.8 L146,111.8 L138,112.8 L130,114 L129,114.1 L126,114.6 L123,115 L120,115.5 L117,116 L114,116.5 L111,117.1 L108,117.6 L105,117.4 L102,116.5 L99,115.3 L96,113.8 L93,112.2 L90,110.3 L87,108.3 L84,106.2 L81,104 Z" fill="#fccc02"/>
<path d="M81,101 L84,101.8 L87,102.6 L90,103.4 L93,104 L96,104.6 L99,105 L102,105.3 L105,105.4 L108,105.1 L111,104.3 L114,103.5 L117,102.8 L120,102 L123,101.4 L126,100.7 L129,100.1 L130,99.9 L138,98.3 L146,97 L154,95.8 L162,94.7 L170,93.8 L178,93 L186,92.3 L194,91.7 L202,91.3 L210,90.9 L218,90.6 L226,90.4 L234,90.3 L242,90.2 L250,90.2 L258,90.2 L266,90.3 L274,90.5 L282,90.8 L290,91.1 L298,91.5 L306,92 L314,92.6 L318,93 L321.5,93.1 L322.8,93.2 L323.4,92.6 L323.6,92 L323.6,95 L323.4,98 L322.8,99.8 L321.5,100.2 L318,100.7 L314,100.8 L306,101 L298,101.3 L290,101.6 L282,101.9 L274,102.3 L266,102.6 L258,103 L250,103.4 L242,103.9 L234,104.3 L226,104.8 L218,105.3 L210,105.8 L202,106.4 L194,107 L186,107.6 L178,108.3 L170,109.1 L162,109.9 L154,110.8 L146,111.8 L138,112.8 L130,114 L129,114.1 L126,114.6 L123,115 L120,115.5 L117,116 L114,116.5 L111,117.1 L108,117.6 L105,117.4 L102,116.5 L99,115.3 L96,113.8 L93,112.2 L90,110.3 L87,108.3 L84,106.2 L81,104 Z" fill="#fcd100"/>
<path d="M81,101 L84,101.9 L87,102.8 L90,103.6 L93,104.4 L96,105 L99,105.5 L102,105.9 L105,106 L108,105.8 L111,105 L114,104.2 L117,103.5 L120,102.8 L123,102.1 L126,101.5 L129,100.8 L130,100.6 L138,99.1 L146,97.8 L154,96.6 L162,95.6 L170,94.7 L178,93.9 L186,93.2 L194,92.6 L202,92.1 L210,91.7 L218,91.4 L226,91.2 L234,91 L242,90.9 L250,90.9 L258,90.9 L266,91 L274,91.1 L282,91.4 L290,91.6 L298,92 L306,92.4 L314,93 L318,93.3 L321.5,93.4 L322.8,93.5 L323.4,92.8 L323.6,92 L323.6,95 L323.4,98 L322.8,99.8 L321.5,100.2 L318,100.7 L314,100.8 L306,101 L298,101.3 L290,101.6 L282,101.9 L274,102.3 L266,102.6 L258,103 L250,103.4 L242,103.9 L234,104.3 L226,104.8 L218,105.3 L210,105.8 L202,106.4 L194,107 L186,107.6 L178,108.3 L170,109.1 L162,109.9 L154,110.8 L146,111.8 L138,112.8 L130,114 L129,114.1 L126,114.6 L123,115 L120,115.5 L117,116 L114,116.5 L111,117.1 L108,117.6 L105,117.4 L102,116.5 L99,115.3 L96,113.8 L93,112.2 L90,110.3 L87,108.3 L84,106.2 L81,104 Z" fill="#fcd200"/>
<path d="M81,101 L84,102 L87,103 L90,103.9 L93,104.8 L96,105.5 L99,106 L102,106.4 L105,106.7 L108,106.4 L111,105.7 L114,104.9 L117,104.2 L120,103.5 L123,102.9 L126,102.2 L129,101.6 L130,101.4 L138,100 L146,98.6 L154,97.5 L162,96.4 L170,95.5 L178,94.7 L186,94 L194,93.5 L202,93 L210,92.6 L218,92.3 L226,92 L234,91.8 L242,91.7 L250,91.6 L258,91.6 L266,91.7 L274,91.8 L282,91.9 L290,92.2 L298,92.5 L306,92.9 L314,93.4 L318,93.7 L321.5,93.7 L322.8,93.7 L323.4,93 L323.6,92 L323.6,95 L323.4,98 L322.8,99.8 L321.5,100.2 L318,100.7 L314,100.8 L306,101 L298,101.3 L290,101.6 L282,101.9 L274,102.3 L266,102.6 L258,103 L250,103.4 L242,103.9 L234,104.3 L226,104.8 L218,105.3 L210,105.8 L202,106.4 L194,107 L186,107.6 L178,108.3 L170,109.1 L162,109.9 L154,110.8 L146,111.8 L138,112.8 L130,114 L129,114.1 L126,114.6 L123,115 L120,115.5 L117,116 L114,116.5 L111,117.1 L108,117.6 L105,117.4 L102,116.5 L99,115.3 L96,113.8 L93,112.2 L90,110.3 L87,108.3 L84,106.2 L81,104 Z" fill="#fdd400"/>
<path d="M81,101 L84,102.1 L87,103.2 L90,104.2 L93,105.1 L96,105.9 L99,106.5 L102,107 L105,107.3 L108,107.1 L111,106.3 L114,105.6 L117,104.9 L120,104.3 L123,103.6 L126,103 L129,102.4 L130,102.2 L138,100.8 L146,99.5 L154,98.3 L162,97.3 L170,96.4 L178,95.6 L186,94.9 L194,94.3 L202,93.8 L210,93.4 L218,93.1 L226,92.8 L234,92.6 L242,92.4 L250,92.3 L258,92.3 L266,92.3 L274,92.4 L282,92.5 L290,92.7 L298,93 L306,93.3 L314,93.7 L318,94 L321.5,94 L322.8,94 L323.4,93.1 L323.6,92 L323.6,95 L323.4,98 L322.8,99.8 L321.5,100.2 L318,100.7 L314,100.8 L306,101 L298,101.3 L290,101.6 L282,101.9 L274,102.3 L266,102.6 L258,103 L250,103.4 L242,103.9 L234,104.3 L226,104.8 L218,105.3 L210,105.8 L202,106.4 L194,107 L186,107.6 L178,108.3 L170,109.1 L162,109.9 L154,110.8 L146,111.8 L138,112.8 L130,114 L129,114.1 L126,114.6 L123,115 L120,115.5 L117,116 L114,116.5 L111,117.1 L108,117.6 L105,117.4 L102,116.5 L99,115.3 L96,113.8 L93,112.2 L90,110.3 L87,108.3 L84,106.2 L81,104 Z" fill="#fdd600"/>
<path d="M81,101 L84,102.2 L87,103.4 L90,104.5 L93,105.5 L96,106.3 L99,107.1 L102,107.6 L105,107.9 L108,107.8 L111,107 L114,106.3 L117,105.7 L120,105 L123,104.4 L126,103.8 L129,103.2 L130,103 L138,101.6 L146,100.3 L154,99.2 L162,98.2 L170,97.3 L178,96.5 L186,95.8 L194,95.2 L202,94.7 L210,94.3 L218,93.9 L226,93.6 L234,93.4 L242,93.2 L250,93.1 L258,93 L266,93 L274,93 L282,93.1 L290,93.2 L298,93.4 L306,93.7 L314,94.1 L318,94.3 L321.5,94.3 L322.8,94.2 L323.4,93.3 L323.6,92 L323.6,95 L323.4,98 L322.8,99.8 L321.5,100.2 L318,100.7 L314,100.8 L306,101 L298,101.3 L290,101.6 L282,101.9 L274,102.3 L266,102.6 L258,103 L250,103.4 L242,103.9 L234,104.3 L226,104.8 L218,105.3 L210,105.8 L202,106.4 L194,107 L186,107.6 L178,108.3 L170,109.1 L162,109.9 L154,110.8 L146,111.8 L138,112.8 L130,114 L129,114.1 L126,114.6 L123,115 L120,115.5 L117,116 L114,116.5 L111,117.1 L108,117.6 L105,117.4 L102,116.5 L99,115.3 L96,113.8 L93,112.2 L90,110.3 L87,108.3 L84,106.2 L81,104 Z" fill="#fdd700"/>
<path d="M81,101 L84,102.3 L87,103.6 L90,104.8 L93,105.8 L96,106.8 L99,107.6 L102,108.2 L105,108.6 L108,108.4 L111,107.7 L114,107 L117,106.4 L120,105.7 L123,105.1 L126,104.5 L129,104 L130,103.8 L138,102.4 L146,101.1 L154,100 L162,99 L170,98.1 L178,97.3 L186,96.7 L194,96 L202,95.5 L210,95.1 L218,94.7 L226,94.4 L234,94.2 L242,94 L250,93.8 L258,93.7 L266,93.6 L274,93.6 L282,93.7 L290,93.8 L298,93.9 L306,94.1 L314,94.5 L318,94.6 L321.5,94.5 L322.8,94.5 L323.4,93.5 L323.6,92 L323.6,95 L323.4,98 L322.8,99.8 L321.5,100.2 L318,100.7 L314,100.8 L306,101 L298,101.3 L290,101.6 L282,101.9 L274,102.3 L266,102.6 L258,103 L250,103.4 L242,103.9 L234,104.3 L226,104.8 L218,105.3 L210,105.8 L202,106.4 L194,107 L186,107.6 L178,108.3 L170,109.1 L162,109.9 L154,110.8 L146,111.8 L138,112.8 L130,114 L129,114.1 L126,114.6 L123,115 L120,115.5 L117,116 L114,116.5 L111,117.1 L108,117.6 L105,117.4 L102,116.5 L99,115.3 L96,113.8 L93,112.2 L90,110.3 L87,108.3 L84,106.2 L81,104 Z" fill="#fed900"/>
<path d="M81,101 L84,102.4 L87,103.7 L90,105 L93,106.2 L96,107.2 L99,108.1 L102,108.7 L105,109.2 L108,109.1 L111,108.4 L114,107.8 L117,107.1 L120,106.5 L123,105.9 L126,105.3 L129,104.8 L130,104.6 L138,103.2 L146,102 L154,100.9 L162,99.9 L170,99 L178,98.2 L186,97.5 L194,96.9 L202,96.4 L210,96 L218,95.6 L226,95.2 L234,94.9 L242,94.7 L250,94.5 L258,94.4 L266,94.3 L274,94.2 L282,94.2 L290,94.3 L298,94.4 L306,94.6 L314,94.8 L318,95 L321.5,94.8 L322.8,94.7 L323.4,93.6 L323.6,92 L323.6,95 L323.4,98 L322.8,99.8 L321.5,100.2 L318,100.7 L314,100.8 L306,101 L298,101.3 L290,101.6 L282,101.9 L274,102.3 L266,102.6 L258,103 L250,103.4 L242,103.9 L234,104.3 L226,104.8 L218,105.3 L210,105.8 L202,106.4 L194,107 L186,107.6 L178,108.3 L170,109.1 L162,109.9 L154,110.8 L146,111.8 L138,112.8 L130,114 L129,114.1 L126,114.6 L123,115 L120,115.5 L117,116 L114,116.5 L111,117.1 L108,117.6 L105,117.4 L102,116.5 L99,115.3 L96,113.8 L93,112.2 L90,110.3 L87,108.3 L84,106.2 L81,104 Z" fill="#feda00"/>
<path d="M81,101 L84,102.5 L87,103.9 L90,105.3 L93,106.6 L96,107.7 L99,108.6 L102,109.3 L105,109.8 L108,109.8 L111,109.1 L114,108.5 L117,107.8 L120,107.2 L123,106.6 L126,106.1 L129,105.5 L130,105.4 L138,104 L146,102.8 L154,101.7 L162,100.7 L170,99.9 L178,99.1 L186,98.4 L194,97.8 L202,97.2 L210,96.8 L218,96.4 L226,96 L234,95.7 L242,95.5 L250,95.2 L258,95.1 L266,94.9 L274,94.9 L282,94.8 L290,94.8 L298,94.9 L306,95 L314,95.2 L318,95.3 L321.5,95.1 L322.8,95 L323.4,93.8 L323.6,92 L323.6,95 L323.4,98 L322.8,99.8 L321.5,100.2 L318,100.7 L314,100.8 L306,101 L298,101.3 L290,101.6 L282,101.9 L274,102.3 L266,102.6 L258,103 L250,103.4 L242,103.9 L234,104.3 L226,104.8 L218,105.3 L210,105.8 L202,106.4 L194,107 L186,107.6 L178,108.3 L170,109.1 L162,109.9 L154,110.8 L146,111.8 L138,112.8 L130,114 L129,114.1 L126,114.6 L123,115 L120,115.5 L117,116 L114,116.5 L111,117.1 L108,117.6 L105,117.4 L102,116.5 L99,115.3 L96,113.8 L93,112.2 L90,110.3 L87,108.3 L84,106.2 L81,104 Z" fill="#fedc00"/>
<path d="M81,101 L84,102.6 L87,104.1 L90,105.6 L93,106.9 L96,108.1 L99,109.1 L102,109.9 L105,110.5 L108,110.5 L111,109.8 L114,109.2 L117,108.6 L120,108 L123,107.4 L126,106.8 L129,106.3 L130,106.1 L138,104.8 L146,103.7 L154,102.6 L162,101.6 L170,100.7 L178,100 L186,99.3 L194,98.6 L202,98.1 L210,97.6 L218,97.2 L226,96.8 L234,96.5 L242,96.2 L250,96 L258,95.8 L266,95.6 L274,95.5 L282,95.4 L290,95.4 L298,95.4 L306,95.4 L314,95.5 L318,95.6 L321.5,95.4 L322.8,95.2 L323.4,94 L323.6,92 L323.6,95 L323.4,98 L322.8,99.8 L321.5,100.2 L318,100.7 L314,100.8 L306,101 L298,101.3 L290,101.6 L282,101.9 L274,102.3 L266,102.6 L258,103 L250,103.4 L242,103.9 L234,104.3 L226,104.8 L218,105.3 L210,105.8 L202,106.4 L194,107 L186,107.6 L178,108.3 L170,109.1 L162,109.9 L154,110.8 L146,111.8 L138,112.8 L130,114 L129,114.1 L126,114.6 L123,115 L120,115.5 L117,116 L114,116.5 L111,117.1 L108,117.6 L105,117.4 L102,116.5 L99,115.3 L96,113.8 L93,112.2 L90,110.3 L87,108.3 L84,106.2 L81,104 Z" fill="#ffde00"/>
<path d="M81,101 L84,102.7 L87,104.3 L90,105.9 L93,107.3 L96,108.6 L99,109.6 L102,110.5 L105,111.1 L108,111.1 L111,110.5 L114,109.9 L117,109.3 L120,108.7 L123,108.1 L126,107.6 L129,107.1 L130,106.9 L138,105.6 L146,104.5 L154,103.4 L162,102.5 L170,101.6 L178,100.8 L186,100.1 L194,99.5 L202,98.9 L210,98.5 L218,98 L226,97.6 L234,97.3 L242,97 L250,96.7 L258,96.5 L266,96.3 L274,96.1 L282,96 L290,95.9 L298,95.8 L306,95.8 L314,95.9 L318,96 L321.5,95.7 L322.8,95.5 L323.4,94.1 L323.6,92 L323.6,95 L323.4,98 L322.8,99.8 L321.5,100.2 L318,100.7 L314,100.8 L306,101 L298,101.3 L290,101.6 L282,101.9 L274,102.3 L266,102.6 L258,103 L250,103.4 L242,103.9 L234,104.3 L226,104.8 L218,105.3 L210,105.8 L202,106.4 L194,107 L186,107.6 L178,108.3 L170,109.1 L162,109.9 L154,110.8 L146,111.8 L138,112.8 L130,114 L129,114.1 L126,114.6 L123,115 L120,115.5 L117,116 L114,116.5 L111,117.1 L108,117.6 L105,117.4 L102,116.5 L99,115.3 L96,113.8 L93,112.2 L90,110.3 L87,108.3 L84,106.2 L81,104 Z" fill="#ffdf00"/>
<path d="M81,101 L84,102.8 L87,104.5 L90,106.1 L93,107.7 L96,109 L99,110.1 L102,111.1 L105,111.7 L108,111.8 L111,111.2 L114,110.6 L117,110 L120,109.4 L123,108.9 L126,108.4 L129,107.9 L130,107.7 L138,106.5 L146,105.3 L154,104.3 L162,103.3 L170,102.5 L178,101.7 L186,101 L194,100.4 L202,99.8 L210,99.3 L218,98.9 L226,98.4 L234,98.1 L242,97.7 L250,97.4 L258,97.1 L266,96.9 L274,96.7 L282,96.5 L290,96.4 L298,96.3 L306,96.3 L314,96.3 L318,96.3 L321.5,96 L322.8,95.7 L323.4,94.3 L323.6,92 L323.6,95 L323.4,98 L322.8,99.8 L321.5,100.2 L318,100.7 L314,100.8 L306,101 L298,101.3 L290,101.6 L282,101.9 L274,102.3 L266,102.6 L258,103 L250,103.4 L242,103.9 L234,104.3 L226,104.8 L218,105.3 L210,105.8 L202,106.4 L194,107 L186,107.6 L178,108.3 L170,109.1 L162,109.9 L154,110.8 L146,111.8 L138,112.8 L130,114 L129,114.1 L126,114.6 L123,115 L120,115.5 L117,116 L114,116.5 L111,117.1 L108,117.6 L105,117.4 L102,116.5 L99,115.3 L96,113.8 L93,112.2 L90,110.3 L87,108.3 L84,106.2 L81,104 Z" fill="#fde42a"/>
<path d="M81,101 L84,102.9 L87,104.7 L90,106.4 L93,108 L96,109.5 L99,110.7 L102,111.7 L105,112.4 L108,112.5 L111,111.9 L114,111.3 L117,110.8 L120,110.2 L123,109.7 L126,109.2 L129,108.7 L130,108.5 L138,107.3 L146,106.2 L154,105.2 L162,104.2 L170,103.4 L178,102.6 L186,101.9 L194,101.3 L202,100.7 L210,100.2 L218,99.7 L226,99.3 L234,98.9 L242,98.5 L250,98.2 L258,97.9 L266,97.6 L274,97.4 L282,97.1 L290,97 L298,96.8 L306,96.7 L314,96.6 L318,96.6 L321.5,96.3 L322.8,96 L323.4,94.5 L323.6,92 L323.6,95 L323.4,98 L322.8,99.8 L321.5,100.2 L318,100.7 L314,100.8 L306,101 L298,101.3 L290,101.6 L282,101.9 L274,102.3 L266,102.6 L258,103 L250,103.4 L242,103.9 L234,104.3 L226,104.8 L218,105.3 L210,105.8 L202,106.4 L194,107 L186,107.6 L178,108.3 L170,109.1 L162,109.9 L154,110.8 L146,111.8 L138,112.8 L130,114 L129,114.1 L126,114.6 L123,115 L120,115.5 L117,116 L114,116.5 L111,117.1 L108,117.6 L105,117.4 L102,116.5 L99,115.3 L96,113.8 L93,112.2 L90,110.3 L87,108.3 L84,106.2 L81,104 Z" fill="#faec7e"/>
<path d="M81,101 L84,103 L87,104.9 L90,106.7 L93,108.4 L96,109.9 L99,111.2 L102,112.3 L105,113 L108,113.2 L111,112.6 L114,112.1 L117,111.5 L120,111 L123,110.5 L126,110 L129,109.5 L130,109.3 L138,108.2 L146,107.1 L154,106.1 L162,105.1 L170,104.3 L178,103.5 L186,102.8 L194,102.2 L202,101.6 L210,101.1 L218,100.6 L226,100.1 L234,99.7 L242,99.3 L250,98.9 L258,98.6 L266,98.3 L274,98 L282,97.7 L290,97.5 L298,97.3 L306,97.2 L314,97 L318,97 L321.5,96.6 L322.8,96.3 L323.4,94.7 L323.6,92 L323.6,95 L323.4,98 L322.8,99.8 L321.5,100.2 L318,100.7 L314,100.8 L306,101 L298,101.3 L290,101.6 L282,101.9 L274,102.3 L266,102.6 L258,103 L250,103.4 L242,103.9 L234,104.3 L226,104.8 L218,105.3 L210,105.8 L202,106.4 L194,107 L186,107.6 L178,108.3 L170,109.1 L162,109.9 L154,110.8 L146,111.8 L138,112.8 L130,114 L129,114.1 L126,114.6 L123,115 L120,115.5 L117,116 L114,116.5 L111,117.1 L108,117.6 L105,117.4 L102,116.5 L99,115.3 L96,113.8 L93,112.2 L90,110.3 L87,108.3 L84,106.2 L81,104 Z" fill="#f0e9ac"/>
<path d="M81,101 L84,103.1 L87,105.1 L90,107 L93,108.8 L96,110.4 L99,111.8 L102,112.9 L105,113.7 L108,113.9 L111,113.3 L114,112.8 L117,112.3 L120,111.8 L123,111.3 L126,110.8 L129,110.3 L130,110.2 L138,109 L146,107.9 L154,106.9 L162,106 L170,105.2 L178,104.4 L186,103.7 L194,103.1 L202,102.5 L210,101.9 L218,101.4 L226,101 L234,100.5 L242,100.1 L250,99.7 L258,99.3 L266,99 L274,98.6 L282,98.3 L290,98.1 L298,97.8 L306,97.6 L314,97.4 L318,97.3 L321.5,96.9 L322.8,96.5 L323.4,94.8 L323.6,92 L323.6,95 L323.4,98 L322.8,99.8 L321.5,100.2 L318,100.7 L314,100.8 L306,101 L298,101.3 L290,101.6 L282,101.9 L274,102.3 L266,102.6 L258,103 L250,103.4 L242,103.9 L234,104.3 L226,104.8 L218,105.3 L210,105.8 L202,106.4 L194,107 L186,107.6 L178,108.3 L170,109.1 L162,109.9 L154,110.8 L146,111.8 L138,112.8 L130,114 L129,114.1 L126,114.6 L123,115 L120,115.5 L117,116 L114,116.5 L111,117.1 L108,117.6 L105,117.4 L102,116.5 L99,115.3 L96,113.8 L93,112.2 L90,110.3 L87,108.3 L84,106.2 L81,104 Z" fill="#e0dbb4"/>
<path d="M112,90 Q121,103 113,115" stroke="#e8801c" stroke-width="2.4" fill="none" filter="url(#blur1)" opacity="0.7"/>
<path d="M120,87 Q128,101 121,114" stroke="#ec8e20" stroke-width="2.2" fill="none" filter="url(#blur1)" opacity="0.6"/>
<path d="M80,101 L92,95 L100,96 L92,104 Z" fill="#e0501a" filter="url(#blur1)"/>
<path d="M79,101.5 L100,89 L116,83.5 L114,88 L101,93.5 L90,99 Z" fill="#d41a14" filter="url(#blur05)"/>
<path d="M104,93 L113,87 L119,91 L110,96 Z" fill="#3a0806" filter="url(#blur1)"/>
  </g></g>
  
  <circle cx="102.3" cy="101.9" r="8.2" fill="#2c2418"/>
  <circle cx="102.3" cy="101.9" r="6.5" fill="#c8ccb0"/>
  <path d="M96.7,102.9 A5.7,5.7 0 0 1 103.3,96.3" stroke="#e0e030" stroke-width="1.2" fill="none"/>
  <circle cx="102.3" cy="101.9" r="5.2" fill="#101010"/>
  </g>
</svg>

<div class="lab" style="left:356px;top:1px"><span style="top:1px">HIW</span></div>
<div class="nm" style="left:426px;top:1px"><span style="top:1px">Sardine</span></div>
<svg class="img" style="left:356px;top:23px" width="340" height="200" viewBox="0 0 340 200">
  <rect width="340" height="200" fill="#fafafa"/>
  <g transform="translate(0,0.6) rotate(0.4,81,101)">
  <path d="M95.3,108 L87.4,110.4 L54.2,124.6 L11.6,142.8 L6.1,147.8 L14.8,149 L62,139.6 L93.7,125.4 L101.6,117.5 Z" fill="#f8f9fb" stroke="#c8ced8" stroke-width="0.8"/>
  <path d="M14,144.5 L58,126 L93,111" stroke="#d6dbe3" stroke-width="1.8" fill="none"/>
  <path d="M30,141 L62,131 L95,117" stroke="#e4e8ee" stroke-width="1.2" fill="none"/>
  <path d="M36,139.5 L48,136" stroke="#a8b4d0" stroke-width="0.9" fill="none"/>
  <path d="M26,142 L35,139.8" stroke="#e8c8a8" stroke-width="0.9" fill="none"/>
  <path d="M6.1,147.8 L8,145.6 L14,144.6 L15.5,148.8 Z" fill="#9098b0"/>
  <path d="M88,113 L96,110 L100,117 L92,121 Z" fill="#e8ecf2"/>
  <path d="M64,129 L82,120 L94,112" stroke="#c4cad3" stroke-width="1.1" fill="none"/>
  <path d="M70,131 Q84,128 90,121" stroke="#bcc3cc" stroke-width="1" fill="none"/>
  <path d="M72,121 L84,115" stroke="#c8ced6" stroke-width="1.2" fill="none"/>
  <path d="M62.95,122.33 A4.9,4.9 0 1 1 68.40,119.18" fill="none" stroke="#5e5c58" stroke-width="1.4"/>
  <path d="M175,104 L175.4,108 M179,104 L178.6,108" stroke="#b87028" stroke-width="1.2"/>
  <path d="M179.55,108.06 A4.9,4.9 0 1 1 174.65,108.06" fill="none" stroke="#5e5c58" stroke-width="1.4"/>
  <path d="M323.90,93.98 A4.9,4.9 0 1 1 324.26,94.75" fill="none" stroke="#5e5c58" stroke-width="1.4"/>
  <clipPath id="c2"><path d="M81,101 L83.1,99.7 L85.3,98.4 L87.5,97.1 L89.8,95.8 L92.2,94.5 L94.7,93.1 L97.2,91.8 L99.8,90.5 L102.5,89.1 L105.3,87.8 L108.1,86.5 L111.1,85.2 L114.1,83.9 L117.3,82.7 L120.5,81.5 L123.9,80.3 L127.3,79.1 L130.9,78 L134.6,76.9 L138.3,75.9 L142.2,74.9 L146.2,73.9 L150.4,73 L154.7,72.2 L159,71.4 L163.6,70.7 L168.2,70.1 L173,69.5 L177.9,69 L183,68.6 L188.2,68.2 L193.6,68 L199.1,67.8 L203,67.8 L207.5,67.8 L212,67.8 L216.5,67.9 L221,68.1 L225.5,68.3 L229.9,68.5 L234.3,68.8 L238.7,69.2 L243,69.5 L247.3,70 L251.5,70.4 L255.7,70.9 L259.8,71.4 L263.9,72 L267.9,72.6 L271.8,73.2 L275.6,73.8 L279.3,74.5 L283,75.1 L286.6,75.8 L290,76.5 L293.4,77.3 L296.7,78 L299.8,78.8 L302.9,79.5 L305.8,80.3 L308.6,81 L311.2,81.8 L313.8,82.6 L316.2,83.3 L318.4,84.1 L320.5,84.8 L323.6,92 L323.4,88 L323.6,92 L323.6,92 L318.6,97.6 L315.9,97.7 L313,97.8 L310.2,97.9 L307.2,98 L304.3,98.1 L301.2,98.2 L298.1,98.3 L295,98.4 L291.8,98.6 L288.5,98.7 L285.2,98.8 L281.8,98.9 L278.4,99.1 L274.9,99.2 L271.4,99.4 L267.8,99.6 L264.2,99.7 L260.5,99.9 L256.7,100.1 L252.9,100.3 L249.1,100.5 L245.1,100.7 L241.2,100.9 L237.1,101.1 L233.1,101.4 L228.9,101.6 L224.8,101.9 L220.5,102.1 L216.2,102.4 L211.9,102.7 L207.5,103 L203,103.3 L199.4,103.5 L195.8,103.8 L192.3,104.1 L188.8,104.4 L185.4,104.7 L182,105 L178.7,105.3 L175.4,105.6 L172.2,105.9 L169.1,106.2 L165.9,106.5 L162.9,106.8 L159.9,107.2 L156.9,107.5 L154,107.8 L151.1,108.2 L148.3,108.5 L145.5,108.9 L142.8,109.2 L140.1,109.6 L137.5,109.9 L134.9,110.3 L132.3,110.6 L129.8,111 L127.3,111.4 L124.9,111.8 L122.5,112.1 L120.2,112.5 L117.9,112.9 L115.6,113.3 L113.4,113.6 L111.2,114 L109.1,114.4 L107,114.8 L106.2,114.7 L105.4,114.5 L104.5,114.2 L103.6,114 L102.7,113.7 L101.8,113.4 L101,113.1 L100.1,112.7 L99.2,112.4 L98.4,112 L97.6,111.6 L96.7,111.2 L95.9,110.8 L95.1,110.4 L94.3,109.9 L93.5,109.5 L92.7,109 L91.9,108.5 L91.1,108 L90.3,107.5 L89.6,107 L88.8,106.5 L88.1,106 L87.4,105.5 L86.6,105 L85.9,104.5 L85.2,104 L84.5,103.5 L83.8,103 L83.2,102.6 L82.5,102.1 L81.9,101.6 L81.2,101.2 L81,101 Z"/></clipPath>
  <g clip-path="url(#c2)"><g opacity="0.995">
<path d="M81,98 L84,96.2 L87,94.4 L90,92.7 L93,91 L96,89.4 L99,87.9 L102,86.4 L105,84.9 L108,83.6 L111,82.3 L114,81 L117,79.8 L120,78.7 L123,77.6 L126,76.6 L129,75.6 L130,75.3 L138,73 L146,71 L154,69.3 L162,68 L170,66.9 L178,66 L186,65.4 L194,65 L202,64.8 L210,64.8 L218,65 L226,65.3 L234,65.8 L242,66.4 L250,67.2 L258,68.2 L266,69.3 L274,70.5 L282,72 L290,73.5 L298,75.3 L306,77.3 L314,79.6 L318,80.9 L321.5,82.2 L322.8,83.2 L323.4,85 L323.6,89 L323.6,95 L323.4,98 L322.8,99.8 L321.5,100.2 L318,100.7 L314,100.8 L306,101 L298,101.3 L290,101.6 L282,101.9 L274,102.3 L266,102.6 L258,103 L250,103.4 L242,103.9 L234,104.3 L226,104.8 L218,105.3 L210,105.8 L202,106.4 L194,107 L186,107.6 L178,108.3 L170,109.1 L162,109.9 L154,110.8 L146,111.8 L138,112.8 L130,114 L129,114.1 L126,114.6 L123,115 L120,115.5 L117,116 L114,116.5 L111,117.1 L108,117.6 L105,117.4 L102,116.5 L99,115.3 L96,113.8 L93,112.2 L90,110.3 L87,108.3 L84,106.2 L81,104 Z" fill="#15248f"/>
<path d="M81,101 L84,99.3 L87,97.6 L90,96 L93,94.4 L96,92.9 L99,91.4 L102,89.9 L105,88.6 L108,87.2 L111,85.9 L114,84.7 L117,83.5 L120,82.4 L123,81.3 L126,80.3 L129,79.3 L130,79 L138,76.8 L146,74.8 L154,73.2 L162,71.8 L170,70.7 L178,69.8 L186,69.2 L194,68.8 L202,68.6 L210,68.6 L218,68.8 L226,69.1 L234,69.6 L242,70.2 L250,71 L258,71.9 L266,72.9 L274,74.1 L282,75.5 L290,77.1 L298,78.8 L306,80.7 L314,83 L318,84.3 L321.5,85.5 L322.8,86.4 L323.4,88.2 L323.6,92 L323.6,95 L323.4,98 L322.8,99.8 L321.5,100.2 L318,100.7 L314,100.8 L306,101 L298,101.3 L290,101.6 L282,101.9 L274,102.3 L266,102.6 L258,103 L250,103.4 L242,103.9 L234,104.3 L226,104.8 L218,105.3 L210,105.8 L202,106.4 L194,107 L186,107.6 L178,108.3 L170,109.1 L162,109.9 L154,110.8 L146,111.8 L138,112.8 L130,114 L129,114.1 L126,114.6 L123,115 L120,115.5 L117,116 L114,116.5 L111,117.1 L108,117.6 L105,117.4 L102,116.5 L99,115.3 L96,113.8 L93,112.2 L90,110.3 L87,108.3 L84,106.2 L81,104 Z" fill="#172999"/>
<path d="M81,101 L84,99.4 L87,97.8 L90,96.2 L93,94.7 L96,93.3 L99,91.9 L102,90.5 L105,89.2 L108,87.9 L111,86.6 L114,85.4 L117,84.2 L120,83.1 L123,82.1 L126,81.1 L129,80.1 L130,79.8 L138,77.5 L146,75.6 L154,74 L162,72.6 L170,71.5 L178,70.7 L186,70.1 L194,69.7 L202,69.4 L210,69.4 L218,69.6 L226,69.9 L234,70.3 L242,70.9 L250,71.7 L258,72.5 L266,73.6 L274,74.7 L282,76.1 L290,77.6 L298,79.2 L306,81.1 L314,83.3 L318,84.6 L321.5,85.8 L322.8,86.7 L323.4,88.3 L323.6,92 L323.6,95 L323.4,98 L322.8,99.8 L321.5,100.2 L318,100.7 L314,100.8 L306,101 L298,101.3 L290,101.6 L282,101.9 L274,102.3 L266,102.6 L258,103 L250,103.4 L242,103.9 L234,104.3 L226,104.8 L218,105.3 L210,105.8 L202,106.4 L194,107 L186,107.6 L178,108.3 L170,109.1 L162,109.9 L154,110.8 L146,111.8 L138,112.8 L130,114 L129,114.1 L126,114.6 L123,115 L120,115.5 L117,116 L114,116.5 L111,117.1 L108,117.6 L105,117.4 L102,116.5 L99,115.3 L96,113.8 L93,112.2 L90,110.3 L87,108.3 L84,106.2 L81,104 Z" fill="#192ea3"/>
<path d="M81,101 L84,99.5 L87,98 L90,96.5 L93,95.1 L96,93.7 L99,92.4 L102,91.1 L105,89.8 L108,88.5 L111,87.3 L114,86.1 L117,84.9 L120,83.8 L123,82.8 L126,81.8 L129,80.9 L130,80.6 L138,78.3 L146,76.4 L154,74.8 L162,73.5 L170,72.4 L178,71.5 L186,70.9 L194,70.5 L202,70.3 L210,70.2 L218,70.4 L226,70.6 L234,71.1 L242,71.6 L250,72.4 L258,73.2 L266,74.2 L274,75.3 L282,76.6 L290,78.1 L298,79.7 L306,81.6 L314,83.7 L318,84.9 L321.5,86 L322.8,86.9 L323.4,88.5 L323.6,92 L323.6,95 L323.4,98 L322.8,99.8 L321.5,100.2 L318,100.7 L314,100.8 L306,101 L298,101.3 L290,101.6 L282,101.9 L274,102.3 L266,102.6 L258,103 L250,103.4 L242,103.9 L234,104.3 L226,104.8 L218,105.3 L210,105.8 L202,106.4 L194,107 L186,107.6 L178,108.3 L170,109.1 L162,109.9 L154,110.8 L146,111.8 L138,112.8 L130,114 L129,114.1 L126,114.6 L123,115 L120,115.5 L117,116 L114,116.5 L111,117.1 L108,117.6 L105,117.4 L102,116.5 L99,115.3 L96,113.8 L93,112.2 L90,110.3 L87,108.3 L84,106.2 L81,104 Z" fill="#1b33ab"/>
<path d="M81,101 L84,99.6 L87,98.2 L90,96.8 L93,95.4 L96,94.1 L99,92.9 L102,91.6 L105,90.4 L108,89.2 L111,87.9 L114,86.8 L117,85.6 L120,84.5 L123,83.5 L126,82.5 L129,81.6 L130,81.3 L138,79.1 L146,77.2 L154,75.6 L162,74.3 L170,73.2 L178,72.4 L186,71.8 L194,71.3 L202,71.1 L210,71.1 L218,71.2 L226,71.4 L234,71.8 L242,72.4 L250,73.1 L258,73.9 L266,74.8 L274,75.9 L282,77.2 L290,78.6 L298,80.2 L306,82 L314,84 L318,85.2 L321.5,86.3 L322.8,87.2 L323.4,88.7 L323.6,92 L323.6,95 L323.4,98 L322.8,99.8 L321.5,100.2 L318,100.7 L314,100.8 L306,101 L298,101.3 L290,101.6 L282,101.9 L274,102.3 L266,102.6 L258,103 L250,103.4 L242,103.9 L234,104.3 L226,104.8 L218,105.3 L210,105.8 L202,106.4 L194,107 L186,107.6 L178,108.3 L170,109.1 L162,109.9 L154,110.8 L146,111.8 L138,112.8 L130,114 L129,114.1 L126,114.6 L123,115 L120,115.5 L117,116 L114,116.5 L111,117.1 L108,117.6 L105,117.4 L102,116.5 L99,115.3 L96,113.8 L93,112.2 L90,110.3 L87,108.3 L84,106.2 L81,104 Z" fill="#1d38b0"/>
<path d="M81,101 L84,99.7 L87,98.3 L90,97.1 L93,95.8 L96,94.6 L99,93.4 L102,92.2 L105,91 L108,89.8 L111,88.6 L114,87.4 L117,86.3 L120,85.3 L123,84.3 L126,83.3 L129,82.4 L130,82.1 L138,79.9 L146,78 L154,76.5 L162,75.2 L170,74.1 L178,73.2 L186,72.6 L194,72.2 L202,71.9 L210,71.9 L218,72 L226,72.2 L234,72.6 L242,73.1 L250,73.8 L258,74.6 L266,75.5 L274,76.5 L282,77.8 L290,79.1 L298,80.6 L306,82.4 L314,84.4 L318,85.5 L321.5,86.6 L322.8,87.4 L323.4,88.8 L323.6,92 L323.6,95 L323.4,98 L322.8,99.8 L321.5,100.2 L318,100.7 L314,100.8 L306,101 L298,101.3 L290,101.6 L282,101.9 L274,102.3 L266,102.6 L258,103 L250,103.4 L242,103.9 L234,104.3 L226,104.8 L218,105.3 L210,105.8 L202,106.4 L194,107 L186,107.6 L178,108.3 L170,109.1 L162,109.9 L154,110.8 L146,111.8 L138,112.8 L130,114 L129,114.1 L126,114.6 L123,115 L120,115.5 L117,116 L114,116.5 L111,117.1 L108,117.6 L105,117.4 L102,116.5 L99,115.3 L96,113.8 L93,112.2 L90,110.3 L87,108.3 L84,106.2 L81,104 Z" fill="#1f3db5"/>
<path d="M81,101 L84,99.7 L87,98.5 L90,97.3 L93,96.2 L96,95 L99,93.9 L102,92.7 L105,91.6 L108,90.5 L111,89.3 L114,88.1 L117,87 L120,86 L123,85 L126,84 L129,83.1 L130,82.8 L138,80.7 L146,78.9 L154,77.3 L162,76 L170,74.9 L178,74.1 L186,73.5 L194,73 L202,72.8 L210,72.7 L218,72.8 L226,73 L234,73.4 L242,73.8 L250,74.5 L258,75.2 L266,76.1 L274,77.1 L282,78.3 L290,79.6 L298,81.1 L306,82.8 L314,84.8 L318,85.9 L321.5,86.9 L322.8,87.7 L323.4,89 L323.6,92 L323.6,95 L323.4,98 L322.8,99.8 L321.5,100.2 L318,100.7 L314,100.8 L306,101 L298,101.3 L290,101.6 L282,101.9 L274,102.3 L266,102.6 L258,103 L250,103.4 L242,103.9 L234,104.3 L226,104.8 L218,105.3 L210,105.8 L202,106.4 L194,107 L186,107.6 L178,108.3 L170,109.1 L162,109.9 L154,110.8 L146,111.8 L138,112.8 L130,114 L129,114.1 L126,114.6 L123,115 L120,115.5 L117,116 L114,116.5 L111,117.1 L108,117.6 L105,117.4 L102,116.5 L99,115.3 L96,113.8 L93,112.2 L90,110.3 L87,108.3 L84,106.2 L81,104 Z" fill="#647cd4"/>
<path d="M81,101 L84,99.8 L87,98.6 L90,97.5 L93,96.4 L96,95.3 L99,94.2 L102,93.1 L105,92 L108,90.9 L111,89.7 L114,88.6 L117,87.5 L120,86.5 L123,85.5 L126,84.5 L129,83.6 L130,83.3 L138,81.2 L146,79.4 L154,77.8 L162,76.5 L170,75.5 L178,74.6 L186,74 L194,73.6 L202,73.3 L210,73.2 L218,73.3 L226,73.5 L234,73.8 L242,74.3 L250,74.9 L258,75.7 L266,76.5 L274,77.5 L282,78.7 L290,80 L298,81.4 L306,83.1 L314,85 L318,86.1 L321.5,87.1 L322.8,87.8 L323.4,89.1 L323.6,92 L323.6,95 L323.4,98 L322.8,99.8 L321.5,100.2 L318,100.7 L314,100.8 L306,101 L298,101.3 L290,101.6 L282,101.9 L274,102.3 L266,102.6 L258,103 L250,103.4 L242,103.9 L234,104.3 L226,104.8 L218,105.3 L210,105.8 L202,106.4 L194,107 L186,107.6 L178,108.3 L170,109.1 L162,109.9 L154,110.8 L146,111.8 L138,112.8 L130,114 L129,114.1 L126,114.6 L123,115 L120,115.5 L117,116 L114,116.5 L111,117.1 L108,117.6 L105,117.4 L102,116.5 L99,115.3 L96,113.8 L93,112.2 L90,110.3 L87,108.3 L84,106.2 L81,104 Z" fill="#8c9cd8"/>
<path d="M81,101 L84,99.9 L87,98.8 L90,97.8 L93,96.8 L96,95.7 L99,94.7 L102,93.7 L105,92.7 L108,91.6 L111,90.4 L114,89.3 L117,88.2 L120,87.2 L123,86.3 L126,85.3 L129,84.4 L130,84.2 L138,82.1 L146,80.3 L154,78.7 L162,77.4 L170,76.4 L178,75.5 L186,74.9 L194,74.5 L202,74.2 L210,74.1 L218,74.1 L226,74.3 L234,74.7 L242,75.1 L250,75.7 L258,76.4 L266,77.2 L274,78.2 L282,79.3 L290,80.5 L298,81.9 L306,83.5 L314,85.4 L318,86.4 L321.5,87.4 L322.8,88.1 L323.4,89.3 L323.6,92 L323.6,95 L323.4,98 L322.8,99.8 L321.5,100.2 L318,100.7 L314,100.8 L306,101 L298,101.3 L290,101.6 L282,101.9 L274,102.3 L266,102.6 L258,103 L250,103.4 L242,103.9 L234,104.3 L226,104.8 L218,105.3 L210,105.8 L202,106.4 L194,107 L186,107.6 L178,108.3 L170,109.1 L162,109.9 L154,110.8 L146,111.8 L138,112.8 L130,114 L129,114.1 L126,114.6 L123,115 L120,115.5 L117,116 L114,116.5 L111,117.1 L108,117.6 L105,117.4 L102,116.5 L99,115.3 L96,113.8 L93,112.2 L90,110.3 L87,108.3 L84,106.2 L81,104 Z" fill="#444e7a"/>
<path d="M81,101 L84,100 L87,99 L90,98 L93,97.1 L96,96.1 L99,95.2 L102,94.2 L105,93.2 L108,92.2 L111,91 L114,89.9 L117,88.9 L120,87.8 L123,86.9 L126,86 L129,85.1 L130,84.8 L138,82.7 L146,81 L154,79.4 L162,78.2 L170,77.1 L178,76.3 L186,75.6 L194,75.2 L202,74.9 L210,74.8 L218,74.8 L226,75 L234,75.3 L242,75.7 L250,76.3 L258,77 L266,77.8 L274,78.7 L282,79.8 L290,81 L298,82.3 L306,83.9 L314,85.7 L318,86.7 L321.5,87.6 L322.8,88.3 L323.4,89.4 L323.6,92 L323.6,95 L323.4,98 L322.8,99.8 L321.5,100.2 L318,100.7 L314,100.8 L306,101 L298,101.3 L290,101.6 L282,101.9 L274,102.3 L266,102.6 L258,103 L250,103.4 L242,103.9 L234,104.3 L226,104.8 L218,105.3 L210,105.8 L202,106.4 L194,107 L186,107.6 L178,108.3 L170,109.1 L162,109.9 L154,110.8 L146,111.8 L138,112.8 L130,114 L129,114.1 L126,114.6 L123,115 L120,115.5 L117,116 L114,116.5 L111,117.1 L108,117.6 L105,117.4 L102,116.5 L99,115.3 L96,113.8 L93,112.2 L90,110.3 L87,108.3 L84,106.2 L81,104 Z" fill="#1c2137"/>
<path d="M81,101 L84,100.1 L87,99.2 L90,98.4 L93,97.5 L96,96.7 L99,95.8 L102,94.9 L105,94 L108,93 L111,91.9 L114,90.8 L117,89.8 L120,88.8 L123,87.8 L126,86.9 L129,86.1 L130,85.8 L138,83.8 L146,82 L154,80.5 L162,79.2 L170,78.2 L178,77.4 L186,76.7 L194,76.2 L202,76 L210,75.8 L218,75.9 L226,76 L234,76.3 L242,76.7 L250,77.2 L258,77.8 L266,78.6 L274,79.5 L282,80.5 L290,81.6 L298,82.9 L306,84.4 L314,86.1 L318,87.1 L321.5,88 L322.8,88.6 L323.4,89.6 L323.6,92 L323.6,95 L323.4,98 L322.8,99.8 L321.5,100.2 L318,100.7 L314,100.8 L306,101 L298,101.3 L290,101.6 L282,101.9 L274,102.3 L266,102.6 L258,103 L250,103.4 L242,103.9 L234,104.3 L226,104.8 L218,105.3 L210,105.8 L202,106.4 L194,107 L186,107.6 L178,108.3 L170,109.1 L162,109.9 L154,110.8 L146,111.8 L138,112.8 L130,114 L129,114.1 L126,114.6 L123,115 L120,115.5 L117,116 L114,116.5 L111,117.1 L108,117.6 L105,117.4 L102,116.5 L99,115.3 L96,113.8 L93,112.2 L90,110.3 L87,108.3 L84,106.2 L81,104 Z" fill="#262b3d"/>
<path d="M81,101 L84,100.2 L87,99.5 L90,98.7 L93,98 L96,97.2 L99,96.4 L102,95.6 L105,94.8 L108,93.9 L111,92.7 L114,91.7 L117,90.7 L120,89.7 L123,88.8 L126,87.9 L129,87 L130,86.8 L138,84.8 L146,83 L154,81.6 L162,80.3 L170,79.3 L178,78.4 L186,77.8 L194,77.3 L202,77 L210,76.9 L218,76.9 L226,77 L234,77.3 L242,77.6 L250,78.1 L258,78.7 L266,79.4 L274,80.2 L282,81.2 L290,82.3 L298,83.5 L306,84.9 L314,86.6 L318,87.5 L321.5,88.3 L322.8,89 L323.4,89.8 L323.6,92 L323.6,95 L323.4,98 L322.8,99.8 L321.5,100.2 L318,100.7 L314,100.8 L306,101 L298,101.3 L290,101.6 L282,101.9 L274,102.3 L266,102.6 L258,103 L250,103.4 L242,103.9 L234,104.3 L226,104.8 L218,105.3 L210,105.8 L202,106.4 L194,107 L186,107.6 L178,108.3 L170,109.1 L162,109.9 L154,110.8 L146,111.8 L138,112.8 L130,114 L129,114.1 L126,114.6 L123,115 L120,115.5 L117,116 L114,116.5 L111,117.1 L108,117.6 L105,117.4 L102,116.5 L99,115.3 L96,113.8 L93,112.2 L90,110.3 L87,108.3 L84,106.2 L81,104 Z" fill="#818692"/>
<path d="M81,101 L84,100.3 L87,99.7 L90,99.1 L93,98.4 L96,97.8 L99,97.1 L102,96.4 L105,95.6 L108,94.7 L111,93.6 L114,92.6 L117,91.6 L120,90.6 L123,89.7 L126,88.8 L129,88 L130,87.8 L138,85.8 L146,84.1 L154,82.6 L162,81.4 L170,80.4 L178,79.5 L186,78.9 L194,78.4 L202,78.1 L210,77.9 L218,77.9 L226,78 L234,78.2 L242,78.6 L250,79 L258,79.6 L266,80.2 L274,81 L282,81.9 L290,82.9 L298,84.1 L306,85.5 L314,87 L318,87.9 L321.5,88.7 L322.8,89.3 L323.4,90 L323.6,92 L323.6,95 L323.4,98 L322.8,99.8 L321.5,100.2 L318,100.7 L314,100.8 L306,101 L298,101.3 L290,101.6 L282,101.9 L274,102.3 L266,102.6 L258,103 L250,103.4 L242,103.9 L234,104.3 L226,104.8 L218,105.3 L210,105.8 L202,106.4 L194,107 L186,107.6 L178,108.3 L170,109.1 L162,109.9 L154,110.8 L146,111.8 L138,112.8 L130,114 L129,114.1 L126,114.6 L123,115 L120,115.5 L117,116 L114,116.5 L111,117.1 L108,117.6 L105,117.4 L102,116.5 L99,115.3 L96,113.8 L93,112.2 L90,110.3 L87,108.3 L84,106.2 L81,104 Z" fill="#dde0e8"/>
<path d="M81,101 L84,100.5 L87,99.9 L90,99.4 L93,98.9 L96,98.3 L99,97.7 L102,97.1 L105,96.4 L108,95.5 L111,94.5 L114,93.5 L117,92.5 L120,91.5 L123,90.7 L126,89.8 L129,89 L130,88.7 L138,86.8 L146,85.1 L154,83.7 L162,82.5 L170,81.5 L178,80.6 L186,80 L194,79.5 L202,79.2 L210,79 L218,78.9 L226,79 L234,79.2 L242,79.5 L250,79.9 L258,80.4 L266,81 L274,81.8 L282,82.6 L290,83.6 L298,84.7 L306,86 L314,87.5 L318,88.3 L321.5,89 L322.8,89.6 L323.4,90.2 L323.6,92 L323.6,95 L323.4,98 L322.8,99.8 L321.5,100.2 L318,100.7 L314,100.8 L306,101 L298,101.3 L290,101.6 L282,101.9 L274,102.3 L266,102.6 L258,103 L250,103.4 L242,103.9 L234,104.3 L226,104.8 L218,105.3 L210,105.8 L202,106.4 L194,107 L186,107.6 L178,108.3 L170,109.1 L162,109.9 L154,110.8 L146,111.8 L138,112.8 L130,114 L129,114.1 L126,114.6 L123,115 L120,115.5 L117,116 L114,116.5 L111,117.1 L108,117.6 L105,117.4 L102,116.5 L99,115.3 L96,113.8 L93,112.2 L90,110.3 L87,108.3 L84,106.2 L81,104 Z" fill="#e7eaee"/>
<path d="M81,101 L84,100.6 L87,100.2 L90,99.8 L93,99.3 L96,98.9 L99,98.4 L102,97.8 L105,97.2 L108,96.4 L111,95.3 L114,94.3 L117,93.4 L120,92.5 L123,91.6 L126,90.8 L129,90 L130,89.7 L138,87.8 L146,86.2 L154,84.8 L162,83.6 L170,82.5 L178,81.7 L186,81.1 L194,80.6 L202,80.2 L210,80 L218,80 L226,80 L234,80.2 L242,80.4 L250,80.8 L258,81.3 L266,81.9 L274,82.6 L282,83.3 L290,84.3 L298,85.3 L306,86.5 L314,87.9 L318,88.7 L321.5,89.4 L322.8,89.9 L323.4,90.5 L323.6,92 L323.6,95 L323.4,98 L322.8,99.8 L321.5,100.2 L318,100.7 L314,100.8 L306,101 L298,101.3 L290,101.6 L282,101.9 L274,102.3 L266,102.6 L258,103 L250,103.4 L242,103.9 L234,104.3 L226,104.8 L218,105.3 L210,105.8 L202,106.4 L194,107 L186,107.6 L178,108.3 L170,109.1 L162,109.9 L154,110.8 L146,111.8 L138,112.8 L130,114 L129,114.1 L126,114.6 L123,115 L120,115.5 L117,116 L114,116.5 L111,117.1 L108,117.6 L105,117.4 L102,116.5 L99,115.3 L96,113.8 L93,112.2 L90,110.3 L87,108.3 L84,106.2 L81,104 Z" fill="#eceef2"/>
<path d="M81,101 L84,100.7 L87,100.4 L90,100.1 L93,99.7 L96,99.3 L99,98.9 L102,98.4 L105,97.9 L108,97.1 L111,96.1 L114,95.1 L117,94.1 L120,93.2 L123,92.4 L126,91.6 L129,90.8 L130,90.5 L138,88.7 L146,87 L154,85.6 L162,84.4 L170,83.4 L178,82.6 L186,82 L194,81.5 L202,81.1 L210,80.9 L218,80.8 L226,80.9 L234,81 L242,81.2 L250,81.6 L258,82 L266,82.5 L274,83.2 L282,83.9 L290,84.8 L298,85.8 L306,87 L314,88.3 L318,89.1 L321.5,89.7 L322.8,90.2 L323.4,90.6 L323.6,92 L323.6,95 L323.4,98 L322.8,99.8 L321.5,100.2 L318,100.7 L314,100.8 L306,101 L298,101.3 L290,101.6 L282,101.9 L274,102.3 L266,102.6 L258,103 L250,103.4 L242,103.9 L234,104.3 L226,104.8 L218,105.3 L210,105.8 L202,106.4 L194,107 L186,107.6 L178,108.3 L170,109.1 L162,109.9 L154,110.8 L146,111.8 L138,112.8 L130,114 L129,114.1 L126,114.6 L123,115 L120,115.5 L117,116 L114,116.5 L111,117.1 L108,117.6 L105,117.4 L102,116.5 L99,115.3 L96,113.8 L93,112.2 L90,110.3 L87,108.3 L84,106.2 L81,104 Z" fill="#eceef2"/>
<path d="M81,101 L84,100.8 L87,100.6 L90,100.3 L93,100.1 L96,99.8 L99,99.4 L102,99 L105,98.5 L108,97.8 L111,96.8 L114,95.8 L117,94.9 L120,94 L123,93.2 L126,92.4 L129,91.6 L130,91.4 L138,89.5 L146,87.9 L154,86.5 L162,85.3 L170,84.4 L178,83.5 L186,82.9 L194,82.4 L202,82 L210,81.8 L218,81.7 L226,81.7 L234,81.8 L242,82 L250,82.3 L258,82.7 L266,83.2 L274,83.8 L282,84.5 L290,85.4 L298,86.3 L306,87.4 L314,88.7 L318,89.4 L321.5,90 L322.8,90.4 L323.4,90.8 L323.6,92 L323.6,95 L323.4,98 L322.8,99.8 L321.5,100.2 L318,100.7 L314,100.8 L306,101 L298,101.3 L290,101.6 L282,101.9 L274,102.3 L266,102.6 L258,103 L250,103.4 L242,103.9 L234,104.3 L226,104.8 L218,105.3 L210,105.8 L202,106.4 L194,107 L186,107.6 L178,108.3 L170,109.1 L162,109.9 L154,110.8 L146,111.8 L138,112.8 L130,114 L129,114.1 L126,114.6 L123,115 L120,115.5 L117,116 L114,116.5 L111,117.1 L108,117.6 L105,117.4 L102,116.5 L99,115.3 L96,113.8 L93,112.2 L90,110.3 L87,108.3 L84,106.2 L81,104 Z" fill="#eceef2"/>
<path d="M81,101 L84,100.9 L87,100.8 L90,100.6 L93,100.5 L96,100.3 L99,100 L102,99.6 L105,99.2 L108,98.5 L111,97.5 L114,96.6 L117,95.7 L120,94.8 L123,94 L126,93.2 L129,92.4 L130,92.2 L138,90.4 L146,88.8 L154,87.4 L162,86.2 L170,85.3 L178,84.4 L186,83.8 L194,83.3 L202,82.9 L210,82.7 L218,82.6 L226,82.5 L234,82.6 L242,82.8 L250,83.1 L258,83.5 L266,83.9 L274,84.5 L282,85.1 L290,85.9 L298,86.8 L306,87.9 L314,89.1 L318,89.8 L321.5,90.3 L322.8,90.7 L323.4,91 L323.6,92 L323.6,95 L323.4,98 L322.8,99.8 L321.5,100.2 L318,100.7 L314,100.8 L306,101 L298,101.3 L290,101.6 L282,101.9 L274,102.3 L266,102.6 L258,103 L250,103.4 L242,103.9 L234,104.3 L226,104.8 L218,105.3 L210,105.8 L202,106.4 L194,107 L186,107.6 L178,108.3 L170,109.1 L162,109.9 L154,110.8 L146,111.8 L138,112.8 L130,114 L129,114.1 L126,114.6 L123,115 L120,115.5 L117,116 L114,116.5 L111,117.1 L108,117.6 L105,117.4 L102,116.5 L99,115.3 L96,113.8 L93,112.2 L90,110.3 L87,108.3 L84,106.2 L81,104 Z" fill="#eceef2"/>
<path d="M81,101 L84,101 L87,101 L90,100.9 L93,100.8 L96,100.7 L99,100.5 L102,100.2 L105,99.8 L108,99.2 L111,98.2 L114,97.3 L117,96.4 L120,95.6 L123,94.7 L126,94 L129,93.2 L130,93 L138,91.2 L146,89.7 L154,88.3 L162,87.1 L170,86.2 L178,85.4 L186,84.7 L194,84.2 L202,83.8 L210,83.5 L218,83.4 L226,83.4 L234,83.4 L242,83.6 L250,83.8 L258,84.2 L266,84.6 L274,85.1 L282,85.7 L290,86.5 L298,87.3 L306,88.3 L314,89.4 L318,90.1 L321.5,90.6 L322.8,91 L323.4,91.2 L323.6,92 L323.6,95 L323.4,98 L322.8,99.8 L321.5,100.2 L318,100.7 L314,100.8 L306,101 L298,101.3 L290,101.6 L282,101.9 L274,102.3 L266,102.6 L258,103 L250,103.4 L242,103.9 L234,104.3 L226,104.8 L218,105.3 L210,105.8 L202,106.4 L194,107 L186,107.6 L178,108.3 L170,109.1 L162,109.9 L154,110.8 L146,111.8 L138,112.8 L130,114 L129,114.1 L126,114.6 L123,115 L120,115.5 L117,116 L114,116.5 L111,117.1 L108,117.6 L105,117.4 L102,116.5 L99,115.3 L96,113.8 L93,112.2 L90,110.3 L87,108.3 L84,106.2 L81,104 Z" fill="#edeff2"/>
<path d="M81,101 L84,101.1 L87,101.2 L90,101.2 L93,101.2 L96,101.2 L99,101 L102,100.8 L105,100.5 L108,99.9 L111,98.9 L114,98 L117,97.2 L120,96.3 L123,95.5 L126,94.8 L129,94 L130,93.8 L138,92.1 L146,90.5 L154,89.2 L162,88 L170,87.1 L178,86.3 L186,85.6 L194,85.1 L202,84.7 L210,84.4 L218,84.3 L226,84.2 L234,84.2 L242,84.4 L250,84.6 L258,84.9 L266,85.3 L274,85.8 L282,86.3 L290,87 L298,87.8 L306,88.7 L314,89.8 L318,90.5 L321.5,90.9 L322.8,91.2 L323.4,91.3 L323.6,92 L323.6,95 L323.4,98 L322.8,99.8 L321.5,100.2 L318,100.7 L314,100.8 L306,101 L298,101.3 L290,101.6 L282,101.9 L274,102.3 L266,102.6 L258,103 L250,103.4 L242,103.9 L234,104.3 L226,104.8 L218,105.3 L210,105.8 L202,106.4 L194,107 L186,107.6 L178,108.3 L170,109.1 L162,109.9 L154,110.8 L146,111.8 L138,112.8 L130,114 L129,114.1 L126,114.6 L123,115 L120,115.5 L117,116 L114,116.5 L111,117.1 L108,117.6 L105,117.4 L102,116.5 L99,115.3 L96,113.8 L93,112.2 L90,110.3 L87,108.3 L84,106.2 L81,104 Z" fill="#edeff2"/>
<path d="M81,101 L84,101.2 L87,101.4 L90,101.5 L93,101.6 L96,101.6 L99,101.6 L102,101.4 L105,101.2 L108,100.6 L111,99.7 L114,98.8 L117,97.9 L120,97.1 L123,96.3 L126,95.6 L129,94.9 L130,94.6 L138,92.9 L146,91.4 L154,90.1 L162,88.9 L170,88 L178,87.2 L186,86.5 L194,86 L202,85.6 L210,85.3 L218,85.1 L226,85 L234,85.1 L242,85.2 L250,85.3 L258,85.6 L266,86 L274,86.4 L282,86.9 L290,87.6 L298,88.3 L306,89.2 L314,90.2 L318,90.8 L321.5,91.2 L322.8,91.5 L323.4,91.5 L323.6,92 L323.6,95 L323.4,98 L322.8,99.8 L321.5,100.2 L318,100.7 L314,100.8 L306,101 L298,101.3 L290,101.6 L282,101.9 L274,102.3 L266,102.6 L258,103 L250,103.4 L242,103.9 L234,104.3 L226,104.8 L218,105.3 L210,105.8 L202,106.4 L194,107 L186,107.6 L178,108.3 L170,109.1 L162,109.9 L154,110.8 L146,111.8 L138,112.8 L130,114 L129,114.1 L126,114.6 L123,115 L120,115.5 L117,116 L114,116.5 L111,117.1 L108,117.6 L105,117.4 L102,116.5 L99,115.3 L96,113.8 L93,112.2 L90,110.3 L87,108.3 L84,106.2 L81,104 Z" fill="#edeff2"/>
<path d="M81,101 L84,101.3 L87,101.6 L90,101.8 L93,102 L96,102.1 L99,102.1 L102,102 L105,101.8 L108,101.3 L111,100.4 L114,99.5 L117,98.7 L120,97.9 L123,97.1 L126,96.4 L129,95.7 L130,95.4 L138,93.8 L146,92.3 L154,91 L162,89.8 L170,88.9 L178,88.1 L186,87.4 L194,86.9 L202,86.5 L210,86.2 L218,86 L226,85.9 L234,85.9 L242,85.9 L250,86.1 L258,86.3 L266,86.7 L274,87.1 L282,87.5 L290,88.1 L298,88.8 L306,89.6 L314,90.6 L318,91.1 L321.5,91.5 L322.8,91.8 L323.4,91.7 L323.6,92 L323.6,95 L323.4,98 L322.8,99.8 L321.5,100.2 L318,100.7 L314,100.8 L306,101 L298,101.3 L290,101.6 L282,101.9 L274,102.3 L266,102.6 L258,103 L250,103.4 L242,103.9 L234,104.3 L226,104.8 L218,105.3 L210,105.8 L202,106.4 L194,107 L186,107.6 L178,108.3 L170,109.1 L162,109.9 L154,110.8 L146,111.8 L138,112.8 L130,114 L129,114.1 L126,114.6 L123,115 L120,115.5 L117,116 L114,116.5 L111,117.1 L108,117.6 L105,117.4 L102,116.5 L99,115.3 L96,113.8 L93,112.2 L90,110.3 L87,108.3 L84,106.2 L81,104 Z" fill="#edeff3"/>
<path d="M81,101 L84,101.4 L87,101.7 L90,102.1 L93,102.4 L96,102.6 L99,102.6 L102,102.6 L105,102.5 L108,102 L111,101.1 L114,100.2 L117,99.4 L120,98.6 L123,97.9 L126,97.2 L129,96.5 L130,96.3 L138,94.6 L146,93.1 L154,91.9 L162,90.7 L170,89.8 L178,89 L186,88.3 L194,87.8 L202,87.3 L210,87.1 L218,86.8 L226,86.7 L234,86.7 L242,86.7 L250,86.9 L258,87.1 L266,87.3 L274,87.7 L282,88.1 L290,88.7 L298,89.3 L306,90.1 L314,91 L318,91.5 L321.5,91.8 L322.8,92 L323.4,91.8 L323.6,92 L323.6,95 L323.4,98 L322.8,99.8 L321.5,100.2 L318,100.7 L314,100.8 L306,101 L298,101.3 L290,101.6 L282,101.9 L274,102.3 L266,102.6 L258,103 L250,103.4 L242,103.9 L234,104.3 L226,104.8 L218,105.3 L210,105.8 L202,106.4 L194,107 L186,107.6 L178,108.3 L170,109.1 L162,109.9 L154,110.8 L146,111.8 L138,112.8 L130,114 L129,114.1 L126,114.6 L123,115 L120,115.5 L117,116 L114,116.5 L111,117.1 L108,117.6 L105,117.4 L102,116.5 L99,115.3 L96,113.8 L93,112.2 L90,110.3 L87,108.3 L84,106.2 L81,104 Z" fill="#edeff3"/>
<path d="M81,101 L84,101.5 L87,101.9 L90,102.4 L93,102.7 L96,103 L99,103.2 L102,103.2 L105,103.1 L108,102.7 L111,101.8 L114,101 L117,100.2 L120,99.4 L123,98.7 L126,98 L129,97.3 L130,97.1 L138,95.4 L146,94 L154,92.7 L162,91.6 L170,90.7 L178,89.9 L186,89.2 L194,88.7 L202,88.2 L210,87.9 L218,87.7 L226,87.6 L234,87.5 L242,87.5 L250,87.6 L258,87.8 L266,88 L274,88.3 L282,88.7 L290,89.2 L298,89.8 L306,90.5 L314,91.3 L318,91.8 L321.5,92.1 L322.8,92.3 L323.4,92 L323.6,92 L323.6,95 L323.4,98 L322.8,99.8 L321.5,100.2 L318,100.7 L314,100.8 L306,101 L298,101.3 L290,101.6 L282,101.9 L274,102.3 L266,102.6 L258,103 L250,103.4 L242,103.9 L234,104.3 L226,104.8 L218,105.3 L210,105.8 L202,106.4 L194,107 L186,107.6 L178,108.3 L170,109.1 L162,109.9 L154,110.8 L146,111.8 L138,112.8 L130,114 L129,114.1 L126,114.6 L123,115 L120,115.5 L117,116 L114,116.5 L111,117.1 L108,117.6 L105,117.4 L102,116.5 L99,115.3 L96,113.8 L93,112.2 L90,110.3 L87,108.3 L84,106.2 L81,104 Z" fill="#edeff3"/>
<path d="M81,101 L84,101.6 L87,102.1 L90,102.7 L93,103.1 L96,103.5 L99,103.7 L102,103.8 L105,103.8 L108,103.4 L111,102.5 L114,101.7 L117,100.9 L120,100.2 L123,99.5 L126,98.8 L129,98.1 L130,97.9 L138,96.3 L146,94.9 L154,93.6 L162,92.5 L170,91.6 L178,90.8 L186,90.1 L194,89.6 L202,89.1 L210,88.8 L218,88.6 L226,88.4 L234,88.3 L242,88.3 L250,88.4 L258,88.5 L266,88.7 L274,89 L282,89.3 L290,89.8 L298,90.3 L306,91 L314,91.7 L318,92.2 L321.5,92.4 L322.8,92.6 L323.4,92.2 L323.6,92 L323.6,95 L323.4,98 L322.8,99.8 L321.5,100.2 L318,100.7 L314,100.8 L306,101 L298,101.3 L290,101.6 L282,101.9 L274,102.3 L266,102.6 L258,103 L250,103.4 L242,103.9 L234,104.3 L226,104.8 L218,105.3 L210,105.8 L202,106.4 L194,107 L186,107.6 L178,108.3 L170,109.1 L162,109.9 L154,110.8 L146,111.8 L138,112.8 L130,114 L129,114.1 L126,114.6 L123,115 L120,115.5 L117,116 L114,116.5 L111,117.1 L108,117.6 L105,117.4 L102,116.5 L99,115.3 L96,113.8 L93,112.2 L90,110.3 L87,108.3 L84,106.2 L81,104 Z" fill="#eef0f3"/>
<path d="M81,101 L84,101.7 L87,102.3 L90,103 L93,103.5 L96,103.9 L99,104.3 L102,104.4 L105,104.5 L108,104.1 L111,103.3 L114,102.5 L117,101.7 L120,101 L123,100.3 L126,99.6 L129,98.9 L130,98.7 L138,97.1 L146,95.7 L154,94.5 L162,93.4 L170,92.5 L178,91.7 L186,91 L194,90.5 L202,90 L210,89.7 L218,89.4 L226,89.2 L234,89.1 L242,89.1 L250,89.1 L258,89.2 L266,89.4 L274,89.6 L282,89.9 L290,90.3 L298,90.8 L306,91.4 L314,92.1 L318,92.5 L321.5,92.7 L322.8,92.8 L323.4,92.4 L323.6,92 L323.6,95 L323.4,98 L322.8,99.8 L321.5,100.2 L318,100.7 L314,100.8 L306,101 L298,101.3 L290,101.6 L282,101.9 L274,102.3 L266,102.6 L258,103 L250,103.4 L242,103.9 L234,104.3 L226,104.8 L218,105.3 L210,105.8 L202,106.4 L194,107 L186,107.6 L178,108.3 L170,109.1 L162,109.9 L154,110.8 L146,111.8 L138,112.8 L130,114 L129,114.1 L126,114.6 L123,115 L120,115.5 L117,116 L114,116.5 L111,117.1 L108,117.6 L105,117.4 L102,116.5 L99,115.3 L96,113.8 L93,112.2 L90,110.3 L87,108.3 L84,106.2 L81,104 Z" fill="#eef0f3"/>
<path d="M81,101 L84,101.8 L87,102.5 L90,103.2 L93,103.9 L96,104.4 L99,104.8 L102,105 L105,105.1 L108,104.8 L111,104 L114,103.2 L117,102.5 L120,101.7 L123,101 L126,100.4 L129,99.7 L130,99.5 L138,98 L146,96.6 L154,95.4 L162,94.3 L170,93.4 L178,92.6 L186,91.9 L194,91.4 L202,90.9 L210,90.6 L218,90.3 L226,90.1 L234,89.9 L242,89.9 L250,89.9 L258,89.9 L266,90.1 L274,90.3 L282,90.5 L290,90.9 L298,91.3 L306,91.8 L314,92.5 L318,92.9 L321.5,93 L322.8,93.1 L323.4,92.5 L323.6,92 L323.6,95 L323.4,98 L322.8,99.8 L321.5,100.2 L318,100.7 L314,100.8 L306,101 L298,101.3 L290,101.6 L282,101.9 L274,102.3 L266,102.6 L258,103 L250,103.4 L242,103.9 L234,104.3 L226,104.8 L218,105.3 L210,105.8 L202,106.4 L194,107 L186,107.6 L178,108.3 L170,109.1 L162,109.9 L154,110.8 L146,111.8 L138,112.8 L130,114 L129,114.1 L126,114.6 L123,115 L120,115.5 L117,116 L114,116.5 L111,117.1 L108,117.6 L105,117.4 L102,116.5 L99,115.3 L96,113.8 L93,112.2 L90,110.3 L87,108.3 L84,106.2 L81,104 Z" fill="#eef0f3"/>
<path d="M81,101 L84,101.9 L87,102.7 L90,103.5 L93,104.3 L96,104.9 L99,105.3 L102,105.6 L105,105.8 L108,105.5 L111,104.7 L114,103.9 L117,103.2 L120,102.5 L123,101.8 L126,101.2 L129,100.6 L130,100.4 L138,98.8 L146,97.5 L154,96.3 L162,95.2 L170,94.3 L178,93.5 L186,92.8 L194,92.3 L202,91.8 L210,91.4 L218,91.1 L226,90.9 L234,90.8 L242,90.7 L250,90.6 L258,90.7 L266,90.8 L274,90.9 L282,91.1 L290,91.4 L298,91.8 L306,92.3 L314,92.9 L318,93.2 L321.5,93.3 L322.8,93.4 L323.4,92.7 L323.6,92 L323.6,95 L323.4,98 L322.8,99.8 L321.5,100.2 L318,100.7 L314,100.8 L306,101 L298,101.3 L290,101.6 L282,101.9 L274,102.3 L266,102.6 L258,103 L250,103.4 L242,103.9 L234,104.3 L226,104.8 L218,105.3 L210,105.8 L202,106.4 L194,107 L186,107.6 L178,108.3 L170,109.1 L162,109.9 L154,110.8 L146,111.8 L138,112.8 L130,114 L129,114.1 L126,114.6 L123,115 L120,115.5 L117,116 L114,116.5 L111,117.1 L108,117.6 L105,117.4 L102,116.5 L99,115.3 L96,113.8 L93,112.2 L90,110.3 L87,108.3 L84,106.2 L81,104 Z" fill="#eef0f3"/>
<path d="M81,101 L84,102 L87,102.9 L90,103.8 L93,104.6 L96,105.3 L99,105.9 L102,106.2 L105,106.4 L108,106.2 L111,105.4 L114,104.7 L117,104 L120,103.3 L123,102.6 L126,102 L129,101.4 L130,101.2 L138,99.7 L146,98.4 L154,97.2 L162,96.1 L170,95.2 L178,94.4 L186,93.8 L194,93.2 L202,92.7 L210,92.3 L218,92 L226,91.7 L234,91.6 L242,91.4 L250,91.4 L258,91.4 L266,91.4 L274,91.6 L282,91.7 L290,92 L298,92.3 L306,92.7 L314,93.2 L318,93.5 L321.5,93.6 L322.8,93.6 L323.4,92.9 L323.6,92 L323.6,95 L323.4,98 L322.8,99.8 L321.5,100.2 L318,100.7 L314,100.8 L306,101 L298,101.3 L290,101.6 L282,101.9 L274,102.3 L266,102.6 L258,103 L250,103.4 L242,103.9 L234,104.3 L226,104.8 L218,105.3 L210,105.8 L202,106.4 L194,107 L186,107.6 L178,108.3 L170,109.1 L162,109.9 L154,110.8 L146,111.8 L138,112.8 L130,114 L129,114.1 L126,114.6 L123,115 L120,115.5 L117,116 L114,116.5 L111,117.1 L108,117.6 L105,117.4 L102,116.5 L99,115.3 L96,113.8 L93,112.2 L90,110.3 L87,108.3 L84,106.2 L81,104 Z" fill="#edeff2"/>
<path d="M81,101 L84,102.1 L87,103.1 L90,104.1 L93,105 L96,105.8 L99,106.4 L102,106.9 L105,107.1 L108,106.9 L111,106.2 L114,105.4 L117,104.7 L120,104.1 L123,103.4 L126,102.8 L129,102.2 L130,102 L138,100.6 L146,99.3 L154,98.1 L162,97.1 L170,96.2 L178,95.4 L186,94.7 L194,94.1 L202,93.6 L210,93.2 L218,92.9 L226,92.6 L234,92.4 L242,92.3 L250,92.2 L258,92.1 L266,92.1 L274,92.2 L282,92.4 L290,92.6 L298,92.8 L306,93.2 L314,93.6 L318,93.9 L321.5,93.9 L322.8,93.9 L323.4,93.1 L323.6,92 L323.6,95 L323.4,98 L322.8,99.8 L321.5,100.2 L318,100.7 L314,100.8 L306,101 L298,101.3 L290,101.6 L282,101.9 L274,102.3 L266,102.6 L258,103 L250,103.4 L242,103.9 L234,104.3 L226,104.8 L218,105.3 L210,105.8 L202,106.4 L194,107 L186,107.6 L178,108.3 L170,109.1 L162,109.9 L154,110.8 L146,111.8 L138,112.8 L130,114 L129,114.1 L126,114.6 L123,115 L120,115.5 L117,116 L114,116.5 L111,117.1 L108,117.6 L105,117.4 L102,116.5 L99,115.3 L96,113.8 L93,112.2 L90,110.3 L87,108.3 L84,106.2 L81,104 Z" fill="#eaecf0"/>
<path d="M81,101 L84,102.2 L87,103.3 L90,104.4 L93,105.4 L96,106.3 L99,107 L102,107.5 L105,107.8 L108,107.6 L111,106.9 L114,106.2 L117,105.5 L120,104.9 L123,104.2 L126,103.6 L129,103 L130,102.9 L138,101.4 L146,100.1 L154,99 L162,98 L170,97.1 L178,96.3 L186,95.6 L194,95 L202,94.5 L210,94.1 L218,93.8 L226,93.5 L234,93.2 L242,93.1 L250,92.9 L258,92.9 L266,92.8 L274,92.9 L282,93 L290,93.1 L298,93.3 L306,93.6 L314,94 L318,94.2 L321.5,94.2 L322.8,94.2 L323.4,93.3 L323.6,92 L323.6,95 L323.4,98 L322.8,99.8 L321.5,100.2 L318,100.7 L314,100.8 L306,101 L298,101.3 L290,101.6 L282,101.9 L274,102.3 L266,102.6 L258,103 L250,103.4 L242,103.9 L234,104.3 L226,104.8 L218,105.3 L210,105.8 L202,106.4 L194,107 L186,107.6 L178,108.3 L170,109.1 L162,109.9 L154,110.8 L146,111.8 L138,112.8 L130,114 L129,114.1 L126,114.6 L123,115 L120,115.5 L117,116 L114,116.5 L111,117.1 L108,117.6 L105,117.4 L102,116.5 L99,115.3 L96,113.8 L93,112.2 L90,110.3 L87,108.3 L84,106.2 L81,104 Z" fill="#e8eaee"/>
<path d="M81,101 L84,102.3 L87,103.5 L90,104.7 L93,105.8 L96,106.7 L99,107.5 L102,108.1 L105,108.5 L108,108.4 L111,107.6 L114,107 L117,106.3 L120,105.7 L123,105 L126,104.4 L129,103.9 L130,103.7 L138,102.3 L146,101 L154,99.9 L162,98.9 L170,98 L178,97.2 L186,96.5 L194,95.9 L202,95.4 L210,95 L218,94.6 L226,94.3 L234,94.1 L242,93.9 L250,93.7 L258,93.6 L266,93.5 L274,93.5 L282,93.6 L290,93.7 L298,93.9 L306,94.1 L314,94.4 L318,94.6 L321.5,94.5 L322.8,94.4 L323.4,93.4 L323.6,92 L323.6,95 L323.4,98 L322.8,99.8 L321.5,100.2 L318,100.7 L314,100.8 L306,101 L298,101.3 L290,101.6 L282,101.9 L274,102.3 L266,102.6 L258,103 L250,103.4 L242,103.9 L234,104.3 L226,104.8 L218,105.3 L210,105.8 L202,106.4 L194,107 L186,107.6 L178,108.3 L170,109.1 L162,109.9 L154,110.8 L146,111.8 L138,112.8 L130,114 L129,114.1 L126,114.6 L123,115 L120,115.5 L117,116 L114,116.5 L111,117.1 L108,117.6 L105,117.4 L102,116.5 L99,115.3 L96,113.8 L93,112.2 L90,110.3 L87,108.3 L84,106.2 L81,104 Z" fill="#e5e8ec"/>
<path d="M81,101 L84,102.4 L87,103.7 L90,105 L93,106.2 L96,107.2 L99,108.1 L102,108.7 L105,109.2 L108,109.1 L111,108.4 L114,107.7 L117,107.1 L120,106.4 L123,105.8 L126,105.3 L129,104.7 L130,104.5 L138,103.2 L146,101.9 L154,100.8 L162,99.8 L170,99 L178,98.2 L186,97.5 L194,96.9 L202,96.3 L210,95.9 L218,95.5 L226,95.2 L234,94.9 L242,94.7 L250,94.5 L258,94.3 L266,94.3 L274,94.2 L282,94.2 L290,94.3 L298,94.4 L306,94.6 L314,94.8 L318,95 L321.5,94.8 L322.8,94.7 L323.4,93.6 L323.6,92 L323.6,95 L323.4,98 L322.8,99.8 L321.5,100.2 L318,100.7 L314,100.8 L306,101 L298,101.3 L290,101.6 L282,101.9 L274,102.3 L266,102.6 L258,103 L250,103.4 L242,103.9 L234,104.3 L226,104.8 L218,105.3 L210,105.8 L202,106.4 L194,107 L186,107.6 L178,108.3 L170,109.1 L162,109.9 L154,110.8 L146,111.8 L138,112.8 L130,114 L129,114.1 L126,114.6 L123,115 L120,115.5 L117,116 L114,116.5 L111,117.1 L108,117.6 L105,117.4 L102,116.5 L99,115.3 L96,113.8 L93,112.2 L90,110.3 L87,108.3 L84,106.2 L81,104 Z" fill="#e2e5e9"/>
<path d="M81,101 L84,102.5 L87,103.9 L90,105.3 L93,106.6 L96,107.7 L99,108.6 L102,109.3 L105,109.8 L108,109.8 L111,109.1 L114,108.5 L117,107.8 L120,107.2 L123,106.7 L126,106.1 L129,105.5 L130,105.4 L138,104 L146,102.8 L154,101.7 L162,100.8 L170,99.9 L178,99.1 L186,98.4 L194,97.8 L202,97.3 L210,96.8 L218,96.4 L226,96.1 L234,95.7 L242,95.5 L250,95.3 L258,95.1 L266,95 L274,94.9 L282,94.8 L290,94.8 L298,94.9 L306,95 L314,95.2 L318,95.3 L321.5,95.1 L322.8,95 L323.4,93.8 L323.6,92 L323.6,95 L323.4,98 L322.8,99.8 L321.5,100.2 L318,100.7 L314,100.8 L306,101 L298,101.3 L290,101.6 L282,101.9 L274,102.3 L266,102.6 L258,103 L250,103.4 L242,103.9 L234,104.3 L226,104.8 L218,105.3 L210,105.8 L202,106.4 L194,107 L186,107.6 L178,108.3 L170,109.1 L162,109.9 L154,110.8 L146,111.8 L138,112.8 L130,114 L129,114.1 L126,114.6 L123,115 L120,115.5 L117,116 L114,116.5 L111,117.1 L108,117.6 L105,117.4 L102,116.5 L99,115.3 L96,113.8 L93,112.2 L90,110.3 L87,108.3 L84,106.2 L81,104 Z" fill="#e0e3e7"/>
<path d="M81,101 L84,102.6 L87,104.1 L90,105.6 L93,107 L96,108.2 L99,109.2 L102,110 L105,110.5 L108,110.5 L111,109.9 L114,109.2 L117,108.6 L120,108 L123,107.5 L126,106.9 L129,106.4 L130,106.2 L138,104.9 L146,103.7 L154,102.7 L162,101.7 L170,100.8 L178,100 L186,99.3 L194,98.7 L202,98.2 L210,97.7 L218,97.3 L226,96.9 L234,96.6 L242,96.3 L250,96 L258,95.8 L266,95.7 L274,95.5 L282,95.4 L290,95.4 L298,95.4 L306,95.5 L314,95.6 L318,95.7 L321.5,95.4 L322.8,95.3 L323.4,94 L323.6,92 L323.6,95 L323.4,98 L322.8,99.8 L321.5,100.2 L318,100.7 L314,100.8 L306,101 L298,101.3 L290,101.6 L282,101.9 L274,102.3 L266,102.6 L258,103 L250,103.4 L242,103.9 L234,104.3 L226,104.8 L218,105.3 L210,105.8 L202,106.4 L194,107 L186,107.6 L178,108.3 L170,109.1 L162,109.9 L154,110.8 L146,111.8 L138,112.8 L130,114 L129,114.1 L126,114.6 L123,115 L120,115.5 L117,116 L114,116.5 L111,117.1 L108,117.6 L105,117.4 L102,116.5 L99,115.3 L96,113.8 L93,112.2 L90,110.3 L87,108.3 L84,106.2 L81,104 Z" fill="#dde0e5"/>
<path d="M81,101 L84,102.7 L87,104.3 L90,105.9 L93,107.4 L96,108.6 L99,109.7 L102,110.6 L105,111.2 L108,111.2 L111,110.6 L114,110 L117,109.4 L120,108.8 L123,108.3 L126,107.7 L129,107.2 L130,107.1 L138,105.8 L146,104.6 L154,103.6 L162,102.6 L170,101.8 L178,101 L186,100.3 L194,99.6 L202,99.1 L210,98.6 L218,98.2 L226,97.8 L234,97.4 L242,97.1 L250,96.8 L258,96.6 L266,96.4 L274,96.2 L282,96.1 L290,96 L298,95.9 L306,95.9 L314,96 L318,96 L321.5,95.7 L322.8,95.5 L323.4,94.2 L323.6,92 L323.6,95 L323.4,98 L322.8,99.8 L321.5,100.2 L318,100.7 L314,100.8 L306,101 L298,101.3 L290,101.6 L282,101.9 L274,102.3 L266,102.6 L258,103 L250,103.4 L242,103.9 L234,104.3 L226,104.8 L218,105.3 L210,105.8 L202,106.4 L194,107 L186,107.6 L178,108.3 L170,109.1 L162,109.9 L154,110.8 L146,111.8 L138,112.8 L130,114 L129,114.1 L126,114.6 L123,115 L120,115.5 L117,116 L114,116.5 L111,117.1 L108,117.6 L105,117.4 L102,116.5 L99,115.3 L96,113.8 L93,112.2 L90,110.3 L87,108.3 L84,106.2 L81,104 Z" fill="#d6d9df"/>
<path d="M81,101 L84,102.8 L87,104.5 L90,106.2 L93,107.7 L96,109.1 L99,110.2 L102,111.1 L105,111.8 L108,111.9 L111,111.3 L114,110.7 L117,110.1 L120,109.5 L123,109 L126,108.5 L129,108 L130,107.8 L138,106.6 L146,105.4 L154,104.4 L162,103.5 L170,102.6 L178,101.8 L186,101.1 L194,100.5 L202,99.9 L210,99.4 L218,99 L226,98.6 L234,98.2 L242,97.8 L250,97.5 L258,97.2 L266,97 L274,96.8 L282,96.6 L290,96.5 L298,96.4 L306,96.3 L314,96.3 L318,96.3 L321.5,96 L322.8,95.8 L323.4,94.3 L323.6,92 L323.6,95 L323.4,98 L322.8,99.8 L321.5,100.2 L318,100.7 L314,100.8 L306,101 L298,101.3 L290,101.6 L282,101.9 L274,102.3 L266,102.6 L258,103 L250,103.4 L242,103.9 L234,104.3 L226,104.8 L218,105.3 L210,105.8 L202,106.4 L194,107 L186,107.6 L178,108.3 L170,109.1 L162,109.9 L154,110.8 L146,111.8 L138,112.8 L130,114 L129,114.1 L126,114.6 L123,115 L120,115.5 L117,116 L114,116.5 L111,117.1 L108,117.6 L105,117.4 L102,116.5 L99,115.3 L96,113.8 L93,112.2 L90,110.3 L87,108.3 L84,106.2 L81,104 Z" fill="#caced4"/>
<path d="M81,101 L84,102.9 L87,104.7 L90,106.5 L93,108.1 L96,109.5 L99,110.7 L102,111.7 L105,112.4 L108,112.6 L111,112 L114,111.4 L117,110.8 L120,110.3 L123,109.7 L126,109.2 L129,108.7 L130,108.6 L138,107.4 L146,106.3 L154,105.2 L162,104.3 L170,103.4 L178,102.7 L186,102 L194,101.3 L202,100.8 L210,100.2 L218,99.8 L226,99.3 L234,98.9 L242,98.6 L250,98.2 L258,97.9 L266,97.6 L274,97.4 L282,97.2 L290,97 L298,96.9 L306,96.7 L314,96.7 L318,96.7 L321.5,96.3 L322.8,96 L323.4,94.5 L323.6,92 L323.6,95 L323.4,98 L322.8,99.8 L321.5,100.2 L318,100.7 L314,100.8 L306,101 L298,101.3 L290,101.6 L282,101.9 L274,102.3 L266,102.6 L258,103 L250,103.4 L242,103.9 L234,104.3 L226,104.8 L218,105.3 L210,105.8 L202,106.4 L194,107 L186,107.6 L178,108.3 L170,109.1 L162,109.9 L154,110.8 L146,111.8 L138,112.8 L130,114 L129,114.1 L126,114.6 L123,115 L120,115.5 L117,116 L114,116.5 L111,117.1 L108,117.6 L105,117.4 L102,116.5 L99,115.3 L96,113.8 L93,112.2 L90,110.3 L87,108.3 L84,106.2 L81,104 Z" fill="#bec2c9"/>
<path d="M81,101 L84,103 L87,104.9 L90,106.7 L93,108.4 L96,109.9 L99,111.2 L102,112.3 L105,113 L108,113.2 L111,112.6 L114,112.1 L117,111.5 L120,111 L123,110.5 L126,110 L129,109.5 L130,109.3 L138,108.2 L146,107.1 L154,106.1 L162,105.1 L170,104.3 L178,103.5 L186,102.8 L194,102.2 L202,101.6 L210,101.1 L218,100.6 L226,100.1 L234,99.7 L242,99.3 L250,98.9 L258,98.6 L266,98.3 L274,98 L282,97.7 L290,97.5 L298,97.3 L306,97.2 L314,97 L318,97 L321.5,96.6 L322.8,96.3 L323.4,94.7 L323.6,92 L323.6,95 L323.4,98 L322.8,99.8 L321.5,100.2 L318,100.7 L314,100.8 L306,101 L298,101.3 L290,101.6 L282,101.9 L274,102.3 L266,102.6 L258,103 L250,103.4 L242,103.9 L234,104.3 L226,104.8 L218,105.3 L210,105.8 L202,106.4 L194,107 L186,107.6 L178,108.3 L170,109.1 L162,109.9 L154,110.8 L146,111.8 L138,112.8 L130,114 L129,114.1 L126,114.6 L123,115 L120,115.5 L117,116 L114,116.5 L111,117.1 L108,117.6 L105,117.4 L102,116.5 L99,115.3 L96,113.8 L93,112.2 L90,110.3 L87,108.3 L84,106.2 L81,104 Z" fill="#bbbfc6"/>
<path d="M81,101 L84,103.1 L87,105.1 L90,107 L93,108.8 L96,110.4 L99,111.8 L102,112.9 L105,113.7 L108,113.9 L111,113.3 L114,112.8 L117,112.3 L120,111.8 L123,111.3 L126,110.8 L129,110.3 L130,110.2 L138,109 L146,107.9 L154,106.9 L162,106 L170,105.2 L178,104.4 L186,103.7 L194,103.1 L202,102.5 L210,101.9 L218,101.4 L226,101 L234,100.5 L242,100.1 L250,99.7 L258,99.3 L266,99 L274,98.6 L282,98.3 L290,98.1 L298,97.8 L306,97.6 L314,97.4 L318,97.3 L321.5,96.9 L322.8,96.5 L323.4,94.8 L323.6,92 L323.6,95 L323.4,98 L322.8,99.8 L321.5,100.2 L318,100.7 L314,100.8 L306,101 L298,101.3 L290,101.6 L282,101.9 L274,102.3 L266,102.6 L258,103 L250,103.4 L242,103.9 L234,104.3 L226,104.8 L218,105.3 L210,105.8 L202,106.4 L194,107 L186,107.6 L178,108.3 L170,109.1 L162,109.9 L154,110.8 L146,111.8 L138,112.8 L130,114 L129,114.1 L126,114.6 L123,115 L120,115.5 L117,116 L114,116.5 L111,117.1 L108,117.6 L105,117.4 L102,116.5 L99,115.3 L96,113.8 L93,112.2 L90,110.3 L87,108.3 L84,106.2 L81,104 Z" fill="#c1c5ca"/>
<path d="M104,93 Q114,91 117.5,102 Q116,112 106,112 Z" fill="#eacc28" filter="url(#blur05)"/>
<path d="M107,92 Q113,96 111,112" stroke="#8a8060" stroke-width="1" fill="none" opacity="0.5"/>
<path d="M121,88 Q131,102 122,114" stroke="#c8ccd8" stroke-width="1.2" fill="none"/>
<path d="M82,102 L96,95 L97,108 L89,107 Z" fill="#8a7a68" opacity="0.45" filter="url(#blur1)"/>
<path d="M80,101.5 L97,91.5" stroke="#2038b0" stroke-width="3.4" fill="none"/>
<ellipse cx="135.3" cy="90.5" rx="2.31" ry="2.21" fill="#26262c"/>
<ellipse cx="148" cy="88.5" rx="2.31" ry="2.21" fill="#26262c"/>
<ellipse cx="164.8" cy="86" rx="2.31" ry="2.21" fill="#26262c"/>
<ellipse cx="179.4" cy="84" rx="2.20" ry="2.10" fill="#26262c"/>
<ellipse cx="194.7" cy="82.3" rx="2.09" ry="1.99" fill="#26262c"/>
<ellipse cx="210" cy="82.3" rx="1.98" ry="1.89" fill="#26262c"/>
<ellipse cx="223.4" cy="83" rx="1.76" ry="1.68" fill="#26262c"/>
<ellipse cx="235" cy="84" rx="1.54" ry="1.47" fill="#26262c"/>
<ellipse cx="244.5" cy="85" rx="1.32" ry="1.26" fill="#26262c"/>
<ellipse cx="252" cy="85.8" rx="1.10" ry="1.05" fill="#26262c"/>
  </g></g>
  
  <circle cx="102.3" cy="101.9" r="8.2" fill="#24241e"/>
  <circle cx="102.3" cy="101.9" r="6.5" fill="#d8dcc0"/>
  <path d="M96.7,102.9 A5.7,5.7 0 0 1 103.3,96.3" stroke="#e8d820" stroke-width="1.2" fill="none"/>
  <circle cx="102.3" cy="101.9" r="5.2" fill="#101010"/>
  </g>
</svg>

<div class="lab" style="left:1px;top:240px"><span style="top:0px">HNM</span></div>
<div class="nm" style="left:71px;top:240px"><span style="top:0px">Rainbow Trout</span></div>
<svg class="img" style="left:1px;top:262px" width="340" height="200" viewBox="0 0 340 200">
  <rect width="340" height="200" fill="#fafafa"/>
  <g transform="translate(0,0) rotate(0,81,101)">
  <path d="M95.3,108 L87.4,110.4 L54.2,124.6 L11.6,142.8 L6.1,147.8 L14.8,149 L62,139.6 L93.7,125.4 L101.6,117.5 Z" fill="#f8f9fb" stroke="#c8ced8" stroke-width="0.8"/>
  <path d="M14,144.5 L58,126 L93,111" stroke="#d6dbe3" stroke-width="1.8" fill="none"/>
  <path d="M30,141 L62,131 L95,117" stroke="#e4e8ee" stroke-width="1.2" fill="none"/>
  <path d="M36,139.5 L48,136" stroke="#a8b4d0" stroke-width="0.9" fill="none"/>
  <path d="M26,142 L35,139.8" stroke="#e8c8a8" stroke-width="0.9" fill="none"/>
  <path d="M6.1,147.8 L8,145.6 L14,144.6 L15.5,148.8 Z" fill="#9098b0"/>
  <path d="M88,113 L96,110 L100,117 L92,121 Z" fill="#e8ecf2"/>
  <path d="M64,129 L82,120 L94,112" stroke="#c4cad3" stroke-width="1.1" fill="none"/>
  <path d="M70,131 Q84,128 90,121" stroke="#bcc3cc" stroke-width="1" fill="none"/>
  <path d="M72,121 L84,115" stroke="#c8ced6" stroke-width="1.2" fill="none"/>
  <path d="M62.95,122.33 A4.9,4.9 0 1 1 68.40,119.18" fill="none" stroke="#5e5c58" stroke-width="1.4"/>
  <path d="M175,104 L175.4,108 M179,104 L178.6,108" stroke="#b87028" stroke-width="1.2"/>
  <path d="M179.55,108.06 A4.9,4.9 0 1 1 174.65,108.06" fill="none" stroke="#5e5c58" stroke-width="1.4"/>
  <path d="M323.90,93.98 A4.9,4.9 0 1 1 324.26,94.75" fill="none" stroke="#5e5c58" stroke-width="1.4"/>
  <clipPath id="c3"><path d="M81,101 L83.1,99.7 L85.3,98.4 L87.5,97.1 L89.8,95.8 L92.2,94.5 L94.7,93.1 L97.2,91.8 L99.8,90.5 L102.5,89.1 L105.3,87.8 L108.1,86.5 L111.1,85.2 L114.1,83.9 L117.3,82.7 L120.5,81.5 L123.9,80.3 L127.3,79.1 L130.9,78 L134.6,76.9 L138.3,75.9 L142.2,74.9 L146.2,73.9 L150.4,73 L154.7,72.2 L159,71.4 L163.6,70.7 L168.2,70.1 L173,69.5 L177.9,69 L183,68.6 L188.2,68.2 L193.6,68 L199.1,67.8 L203,67.8 L207.5,67.8 L212,67.8 L216.5,67.9 L221,68.1 L225.5,68.3 L229.9,68.5 L234.3,68.8 L238.7,69.2 L243,69.5 L247.3,70 L251.5,70.4 L255.7,70.9 L259.8,71.4 L263.9,72 L267.9,72.6 L271.8,73.2 L275.6,73.8 L279.3,74.5 L283,75.1 L286.6,75.8 L290,76.5 L293.4,77.3 L296.7,78 L299.8,78.8 L302.9,79.5 L305.8,80.3 L308.6,81 L311.2,81.8 L313.8,82.6 L316.2,83.3 L318.4,84.1 L320.5,84.8 L323.6,92 L323.4,88 L323.6,92 L323.6,92 L318.6,97.6 L315.9,97.7 L313,97.8 L310.2,97.9 L307.2,98 L304.3,98.1 L301.2,98.2 L298.1,98.3 L295,98.4 L291.8,98.6 L288.5,98.7 L285.2,98.8 L281.8,98.9 L278.4,99.1 L274.9,99.2 L271.4,99.4 L267.8,99.6 L264.2,99.7 L260.5,99.9 L256.7,100.1 L252.9,100.3 L249.1,100.5 L245.1,100.7 L241.2,100.9 L237.1,101.1 L233.1,101.4 L228.9,101.6 L224.8,101.9 L220.5,102.1 L216.2,102.4 L211.9,102.7 L207.5,103 L203,103.3 L199.4,103.5 L195.8,103.8 L192.3,104.1 L188.8,104.4 L185.4,104.7 L182,105 L178.7,105.3 L175.4,105.6 L172.2,105.9 L169.1,106.2 L165.9,106.5 L162.9,106.8 L159.9,107.2 L156.9,107.5 L154,107.8 L151.1,108.2 L148.3,108.5 L145.5,108.9 L142.8,109.2 L140.1,109.6 L137.5,109.9 L134.9,110.3 L132.3,110.6 L129.8,111 L127.3,111.4 L124.9,111.8 L122.5,112.1 L120.2,112.5 L117.9,112.9 L115.6,113.3 L113.4,113.6 L111.2,114 L109.1,114.4 L107,114.8 L106.2,114.7 L105.4,114.5 L104.5,114.2 L103.6,114 L102.7,113.7 L101.8,113.4 L101,113.1 L100.1,112.7 L99.2,112.4 L98.4,112 L97.6,111.6 L96.7,111.2 L95.9,110.8 L95.1,110.4 L94.3,109.9 L93.5,109.5 L92.7,109 L91.9,108.5 L91.1,108 L90.3,107.5 L89.6,107 L88.8,106.5 L88.1,106 L87.4,105.5 L86.6,105 L85.9,104.5 L85.2,104 L84.5,103.5 L83.8,103 L83.2,102.6 L82.5,102.1 L81.9,101.6 L81.2,101.2 L81,101 Z"/></clipPath>
  <g clip-path="url(#c3)"><g opacity="0.995">
<path d="M81,98 L84,96.2 L87,94.4 L90,92.7 L93,91 L96,89.4 L99,87.9 L102,86.4 L105,84.9 L108,83.6 L111,82.3 L114,81 L117,79.8 L120,78.7 L123,77.6 L126,76.6 L129,75.6 L130,75.3 L138,73 L146,71 L154,69.3 L162,68 L170,66.9 L178,66 L186,65.4 L194,65 L202,64.8 L210,64.8 L218,65 L226,65.3 L234,65.8 L242,66.4 L250,67.2 L258,68.2 L266,69.3 L274,70.5 L282,72 L290,73.5 L298,75.3 L306,77.3 L314,79.6 L318,80.9 L321.5,82.2 L322.8,83.2 L323.4,85 L323.6,89 L323.6,95 L323.4,98 L322.8,99.8 L321.5,100.2 L318,100.7 L314,100.8 L306,101 L298,101.3 L290,101.6 L282,101.9 L274,102.3 L266,102.6 L258,103 L250,103.4 L242,103.9 L234,104.3 L226,104.8 L218,105.3 L210,105.8 L202,106.4 L194,107 L186,107.6 L178,108.3 L170,109.1 L162,109.9 L154,110.8 L146,111.8 L138,112.8 L130,114 L129,114.1 L126,114.6 L123,115 L120,115.5 L117,116 L114,116.5 L111,117.1 L108,117.6 L105,117.4 L102,116.5 L99,115.3 L96,113.8 L93,112.2 L90,110.3 L87,108.3 L84,106.2 L81,104 Z" fill="#10a541"/>
<path d="M81,101 L84,99.3 L87,97.6 L90,96 L93,94.4 L96,92.9 L99,91.4 L102,90 L105,88.6 L108,87.2 L111,85.9 L114,84.7 L117,83.5 L120,82.4 L123,81.3 L126,80.3 L129,79.4 L130,79.1 L138,76.8 L146,74.8 L154,73.2 L162,71.8 L170,70.7 L178,69.9 L186,69.2 L194,68.8 L202,68.6 L210,68.6 L218,68.8 L226,69.1 L234,69.6 L242,70.2 L250,71 L258,71.9 L266,72.9 L274,74.2 L282,75.5 L290,77.1 L298,78.8 L306,80.7 L314,83 L318,84.3 L321.5,85.5 L322.8,86.5 L323.4,88.2 L323.6,92 L323.6,95 L323.4,98 L322.8,99.8 L321.5,100.2 L318,100.7 L314,100.8 L306,101 L298,101.3 L290,101.6 L282,101.9 L274,102.3 L266,102.6 L258,103 L250,103.4 L242,103.9 L234,104.3 L226,104.8 L218,105.3 L210,105.8 L202,106.4 L194,107 L186,107.6 L178,108.3 L170,109.1 L162,109.9 L154,110.8 L146,111.8 L138,112.8 L130,114 L129,114.1 L126,114.6 L123,115 L120,115.5 L117,116 L114,116.5 L111,117.1 L108,117.6 L105,117.4 L102,116.5 L99,115.3 L96,113.8 L93,112.2 L90,110.3 L87,108.3 L84,106.2 L81,104 Z" fill="#11a842"/>
<path d="M81,101 L84,99.4 L87,97.8 L90,96.3 L93,94.8 L96,93.3 L99,91.9 L102,90.5 L105,89.2 L108,87.9 L111,86.6 L114,85.4 L117,84.3 L120,83.2 L123,82.1 L126,81.1 L129,80.1 L130,79.8 L138,77.6 L146,75.7 L154,74 L162,72.7 L170,71.6 L178,70.7 L186,70.1 L194,69.7 L202,69.5 L210,69.5 L218,69.6 L226,69.9 L234,70.4 L242,71 L250,71.7 L258,72.6 L266,73.6 L274,74.8 L282,76.1 L290,77.6 L298,79.3 L306,81.2 L314,83.4 L318,84.6 L321.5,85.8 L322.8,86.7 L323.4,88.3 L323.6,92 L323.6,95 L323.4,98 L322.8,99.8 L321.5,100.2 L318,100.7 L314,100.8 L306,101 L298,101.3 L290,101.6 L282,101.9 L274,102.3 L266,102.6 L258,103 L250,103.4 L242,103.9 L234,104.3 L226,104.8 L218,105.3 L210,105.8 L202,106.4 L194,107 L186,107.6 L178,108.3 L170,109.1 L162,109.9 L154,110.8 L146,111.8 L138,112.8 L130,114 L129,114.1 L126,114.6 L123,115 L120,115.5 L117,116 L114,116.5 L111,117.1 L108,117.6 L105,117.4 L102,116.5 L99,115.3 L96,113.8 L93,112.2 L90,110.3 L87,108.3 L84,106.2 L81,104 Z" fill="#12aa44"/>
<path d="M81,101 L84,99.5 L87,98 L90,96.5 L93,95.1 L96,93.7 L99,92.4 L102,91.1 L105,89.8 L108,88.6 L111,87.3 L114,86.1 L117,85 L120,83.9 L123,82.9 L126,81.9 L129,80.9 L130,80.6 L138,78.4 L146,76.5 L154,74.9 L162,73.5 L170,72.5 L178,71.6 L186,71 L194,70.6 L202,70.3 L210,70.3 L218,70.4 L226,70.7 L234,71.1 L242,71.7 L250,72.4 L258,73.3 L266,74.3 L274,75.4 L282,76.7 L290,78.1 L298,79.8 L306,81.6 L314,83.7 L318,84.9 L321.5,86.1 L322.8,87 L323.4,88.5 L323.6,92 L323.6,95 L323.4,98 L322.8,99.8 L321.5,100.2 L318,100.7 L314,100.8 L306,101 L298,101.3 L290,101.6 L282,101.9 L274,102.3 L266,102.6 L258,103 L250,103.4 L242,103.9 L234,104.3 L226,104.8 L218,105.3 L210,105.8 L202,106.4 L194,107 L186,107.6 L178,108.3 L170,109.1 L162,109.9 L154,110.8 L146,111.8 L138,112.8 L130,114 L129,114.1 L126,114.6 L123,115 L120,115.5 L117,116 L114,116.5 L111,117.1 L108,117.6 L105,117.4 L102,116.5 L99,115.3 L96,113.8 L93,112.2 L90,110.3 L87,108.3 L84,106.2 L81,104 Z" fill="#13ac46"/>
<path d="M81,101 L84,99.6 L87,98.2 L90,96.8 L93,95.5 L96,94.2 L99,92.9 L102,91.7 L105,90.5 L108,89.3 L111,88 L114,86.8 L117,85.7 L120,84.6 L123,83.6 L126,82.6 L129,81.7 L130,81.4 L138,79.2 L146,77.3 L154,75.7 L162,74.4 L170,73.3 L178,72.5 L186,71.9 L194,71.4 L202,71.2 L210,71.1 L218,71.3 L226,71.5 L234,71.9 L242,72.5 L250,73.1 L258,74 L266,74.9 L274,76 L282,77.3 L290,78.7 L298,80.2 L306,82 L314,84.1 L318,85.3 L321.5,86.3 L322.8,87.2 L323.4,88.7 L323.6,92 L323.6,95 L323.4,98 L322.8,99.8 L321.5,100.2 L318,100.7 L314,100.8 L306,101 L298,101.3 L290,101.6 L282,101.9 L274,102.3 L266,102.6 L258,103 L250,103.4 L242,103.9 L234,104.3 L226,104.8 L218,105.3 L210,105.8 L202,106.4 L194,107 L186,107.6 L178,108.3 L170,109.1 L162,109.9 L154,110.8 L146,111.8 L138,112.8 L130,114 L129,114.1 L126,114.6 L123,115 L120,115.5 L117,116 L114,116.5 L111,117.1 L108,117.6 L105,117.4 L102,116.5 L99,115.3 L96,113.8 L93,112.2 L90,110.3 L87,108.3 L84,106.2 L81,104 Z" fill="#14af47"/>
<path d="M81,101 L84,99.7 L87,98.4 L90,97.1 L93,95.9 L96,94.6 L99,93.4 L102,92.3 L105,91.1 L108,89.9 L111,88.7 L114,87.5 L117,86.4 L120,85.4 L123,84.4 L126,83.4 L129,82.5 L130,82.2 L138,80 L146,78.2 L154,76.6 L162,75.3 L170,74.2 L178,73.4 L186,72.7 L194,72.3 L202,72 L210,72 L218,72.1 L226,72.3 L234,72.7 L242,73.2 L250,73.9 L258,74.7 L266,75.6 L274,76.6 L282,77.8 L290,79.2 L298,80.7 L306,82.4 L314,84.4 L318,85.6 L321.5,86.6 L322.8,87.5 L323.4,88.8 L323.6,92 L323.6,95 L323.4,98 L322.8,99.8 L321.5,100.2 L318,100.7 L314,100.8 L306,101 L298,101.3 L290,101.6 L282,101.9 L274,102.3 L266,102.6 L258,103 L250,103.4 L242,103.9 L234,104.3 L226,104.8 L218,105.3 L210,105.8 L202,106.4 L194,107 L186,107.6 L178,108.3 L170,109.1 L162,109.9 L154,110.8 L146,111.8 L138,112.8 L130,114 L129,114.1 L126,114.6 L123,115 L120,115.5 L117,116 L114,116.5 L111,117.1 L108,117.6 L105,117.4 L102,116.5 L99,115.3 L96,113.8 L93,112.2 L90,110.3 L87,108.3 L84,106.2 L81,104 Z" fill="#66c886"/>
<path d="M81,101 L84,99.7 L87,98.5 L90,97.3 L93,96.2 L96,95 L99,93.9 L102,92.7 L105,91.6 L108,90.5 L111,89.3 L114,88.1 L117,87 L120,86 L123,85 L126,84 L129,83.1 L130,82.8 L138,80.7 L146,78.9 L154,77.3 L162,76 L170,74.9 L178,74.1 L186,73.5 L194,73 L202,72.8 L210,72.7 L218,72.8 L226,73 L234,73.4 L242,73.8 L250,74.5 L258,75.2 L266,76.1 L274,77.1 L282,78.3 L290,79.6 L298,81.1 L306,82.8 L314,84.8 L318,85.9 L321.5,86.9 L322.8,87.7 L323.4,89 L323.6,92 L323.6,95 L323.4,98 L322.8,99.8 L321.5,100.2 L318,100.7 L314,100.8 L306,101 L298,101.3 L290,101.6 L282,101.9 L274,102.3 L266,102.6 L258,103 L250,103.4 L242,103.9 L234,104.3 L226,104.8 L218,105.3 L210,105.8 L202,106.4 L194,107 L186,107.6 L178,108.3 L170,109.1 L162,109.9 L154,110.8 L146,111.8 L138,112.8 L130,114 L129,114.1 L126,114.6 L123,115 L120,115.5 L117,116 L114,116.5 L111,117.1 L108,117.6 L105,117.4 L102,116.5 L99,115.3 L96,113.8 L93,112.2 L90,110.3 L87,108.3 L84,106.2 L81,104 Z" fill="#bee2c9"/>
<path d="M81,101 L84,99.8 L87,98.7 L90,97.6 L93,96.5 L96,95.5 L99,94.4 L102,93.4 L105,92.3 L108,91.2 L111,90 L114,88.9 L117,87.8 L120,86.8 L123,85.8 L126,84.8 L129,84 L130,83.7 L138,81.6 L146,79.7 L154,78.2 L162,76.9 L170,75.8 L178,75 L186,74.4 L194,73.9 L202,73.6 L210,73.6 L218,73.6 L226,73.8 L234,74.2 L242,74.6 L250,75.2 L258,76 L266,76.8 L274,77.8 L282,78.9 L290,80.2 L298,81.6 L306,83.2 L314,85.1 L318,86.2 L321.5,87.2 L322.8,87.9 L323.4,89.2 L323.6,92 L323.6,95 L323.4,98 L322.8,99.8 L321.5,100.2 L318,100.7 L314,100.8 L306,101 L298,101.3 L290,101.6 L282,101.9 L274,102.3 L266,102.6 L258,103 L250,103.4 L242,103.9 L234,104.3 L226,104.8 L218,105.3 L210,105.8 L202,106.4 L194,107 L186,107.6 L178,108.3 L170,109.1 L162,109.9 L154,110.8 L146,111.8 L138,112.8 L130,114 L129,114.1 L126,114.6 L123,115 L120,115.5 L117,116 L114,116.5 L111,117.1 L108,117.6 L105,117.4 L102,116.5 L99,115.3 L96,113.8 L93,112.2 L90,110.3 L87,108.3 L84,106.2 L81,104 Z" fill="#cae6d3"/>
<path d="M81,101 L84,99.9 L87,98.9 L90,97.9 L93,96.9 L96,95.9 L99,94.9 L102,94 L105,93 L108,91.9 L111,90.7 L114,89.6 L117,88.5 L120,87.5 L123,86.6 L126,85.6 L129,84.8 L130,84.5 L138,82.4 L146,80.6 L154,79.1 L162,77.8 L170,76.7 L178,75.9 L186,75.3 L194,74.8 L202,74.5 L210,74.4 L218,74.5 L226,74.7 L234,75 L242,75.4 L250,76 L258,76.7 L266,77.5 L274,78.4 L282,79.5 L290,80.7 L298,82.1 L306,83.7 L314,85.5 L318,86.5 L321.5,87.5 L322.8,88.2 L323.4,89.3 L323.6,92 L323.6,95 L323.4,98 L322.8,99.8 L321.5,100.2 L318,100.7 L314,100.8 L306,101 L298,101.3 L290,101.6 L282,101.9 L274,102.3 L266,102.6 L258,103 L250,103.4 L242,103.9 L234,104.3 L226,104.8 L218,105.3 L210,105.8 L202,106.4 L194,107 L186,107.6 L178,108.3 L170,109.1 L162,109.9 L154,110.8 L146,111.8 L138,112.8 L130,114 L129,114.1 L126,114.6 L123,115 L120,115.5 L117,116 L114,116.5 L111,117.1 L108,117.6 L105,117.4 L102,116.5 L99,115.3 L96,113.8 L93,112.2 L90,110.3 L87,108.3 L84,106.2 L81,104 Z" fill="#a59182"/>
<path d="M81,101 L84,100 L87,99 L90,98.1 L93,97.1 L96,96.2 L99,95.3 L102,94.3 L105,93.4 L108,92.3 L111,91.2 L114,90.1 L117,89 L120,88 L123,87 L126,86.1 L129,85.3 L130,85 L138,82.9 L146,81.1 L154,79.6 L162,78.3 L170,77.3 L178,76.4 L186,75.8 L194,75.3 L202,75.1 L210,75 L218,75 L226,75.2 L234,75.5 L242,75.9 L250,76.4 L258,77.1 L266,77.9 L274,78.8 L282,79.9 L290,81.1 L298,82.4 L306,84 L314,85.7 L318,86.7 L321.5,87.7 L322.8,88.4 L323.4,89.4 L323.6,92 L323.6,95 L323.4,98 L322.8,99.8 L321.5,100.2 L318,100.7 L314,100.8 L306,101 L298,101.3 L290,101.6 L282,101.9 L274,102.3 L266,102.6 L258,103 L250,103.4 L242,103.9 L234,104.3 L226,104.8 L218,105.3 L210,105.8 L202,106.4 L194,107 L186,107.6 L178,108.3 L170,109.1 L162,109.9 L154,110.8 L146,111.8 L138,112.8 L130,114 L129,114.1 L126,114.6 L123,115 L120,115.5 L117,116 L114,116.5 L111,117.1 L108,117.6 L105,117.4 L102,116.5 L99,115.3 L96,113.8 L93,112.2 L90,110.3 L87,108.3 L84,106.2 L81,104 Z" fill="#77382b"/>
<path d="M81,101 L84,100.1 L87,99.2 L90,98.3 L93,97.5 L96,96.6 L99,95.7 L102,94.8 L105,93.9 L108,92.9 L111,91.8 L114,90.7 L117,89.7 L120,88.7 L123,87.7 L126,86.8 L129,86 L130,85.7 L138,83.6 L146,81.9 L154,80.4 L162,79.1 L170,78.1 L178,77.2 L186,76.6 L194,76.1 L202,75.8 L210,75.7 L218,75.7 L226,75.9 L234,76.2 L242,76.6 L250,77.1 L258,77.7 L266,78.5 L274,79.4 L282,80.4 L290,81.5 L298,82.9 L306,84.3 L314,86.1 L318,87 L321.5,87.9 L322.8,88.6 L323.4,89.6 L323.6,92 L323.6,95 L323.4,98 L322.8,99.8 L321.5,100.2 L318,100.7 L314,100.8 L306,101 L298,101.3 L290,101.6 L282,101.9 L274,102.3 L266,102.6 L258,103 L250,103.4 L242,103.9 L234,104.3 L226,104.8 L218,105.3 L210,105.8 L202,106.4 L194,107 L186,107.6 L178,108.3 L170,109.1 L162,109.9 L154,110.8 L146,111.8 L138,112.8 L130,114 L129,114.1 L126,114.6 L123,115 L120,115.5 L117,116 L114,116.5 L111,117.1 L108,117.6 L105,117.4 L102,116.5 L99,115.3 L96,113.8 L93,112.2 L90,110.3 L87,108.3 L84,106.2 L81,104 Z" fill="#723328"/>
<path d="M81,101 L84,100.2 L87,99.4 L90,98.6 L93,97.8 L96,97 L99,96.2 L102,95.4 L105,94.5 L108,93.5 L111,92.4 L114,91.3 L117,90.3 L120,89.3 L123,88.4 L126,87.5 L129,86.7 L130,86.4 L138,84.4 L146,82.6 L154,81.1 L162,79.9 L170,78.9 L178,78 L186,77.4 L194,76.9 L202,76.6 L210,76.5 L218,76.5 L226,76.6 L234,76.9 L242,77.3 L250,77.7 L258,78.4 L266,79.1 L274,79.9 L282,80.9 L290,82 L298,83.3 L306,84.7 L314,86.4 L318,87.3 L321.5,88.2 L322.8,88.8 L323.4,89.7 L323.6,92 L323.6,95 L323.4,98 L322.8,99.8 L321.5,100.2 L318,100.7 L314,100.8 L306,101 L298,101.3 L290,101.6 L282,101.9 L274,102.3 L266,102.6 L258,103 L250,103.4 L242,103.9 L234,104.3 L226,104.8 L218,105.3 L210,105.8 L202,106.4 L194,107 L186,107.6 L178,108.3 L170,109.1 L162,109.9 L154,110.8 L146,111.8 L138,112.8 L130,114 L129,114.1 L126,114.6 L123,115 L120,115.5 L117,116 L114,116.5 L111,117.1 L108,117.6 L105,117.4 L102,116.5 L99,115.3 L96,113.8 L93,112.2 L90,110.3 L87,108.3 L84,106.2 L81,104 Z" fill="#6d2e25"/>
<path d="M81,101 L84,100.3 L87,99.5 L90,98.8 L93,98.1 L96,97.4 L99,96.7 L102,95.9 L105,95.1 L108,94.1 L111,93 L114,92 L117,91 L120,90 L123,89.1 L126,88.2 L129,87.4 L130,87.1 L138,85.1 L146,83.4 L154,81.9 L162,80.7 L170,79.6 L178,78.8 L186,78.2 L194,77.7 L202,77.4 L210,77.2 L218,77.2 L226,77.3 L234,77.6 L242,77.9 L250,78.4 L258,79 L266,79.7 L274,80.5 L282,81.4 L290,82.5 L298,83.7 L306,85.1 L314,86.7 L318,87.6 L321.5,88.4 L322.8,89.1 L323.4,89.9 L323.6,92 L323.6,95 L323.4,98 L322.8,99.8 L321.5,100.2 L318,100.7 L314,100.8 L306,101 L298,101.3 L290,101.6 L282,101.9 L274,102.3 L266,102.6 L258,103 L250,103.4 L242,103.9 L234,104.3 L226,104.8 L218,105.3 L210,105.8 L202,106.4 L194,107 L186,107.6 L178,108.3 L170,109.1 L162,109.9 L154,110.8 L146,111.8 L138,112.8 L130,114 L129,114.1 L126,114.6 L123,115 L120,115.5 L117,116 L114,116.5 L111,117.1 L108,117.6 L105,117.4 L102,116.5 L99,115.3 L96,113.8 L93,112.2 L90,110.3 L87,108.3 L84,106.2 L81,104 Z" fill="#9f6e78"/>
<path d="M81,101 L84,100.3 L87,99.7 L90,99.1 L93,98.4 L96,97.8 L99,97.1 L102,96.4 L105,95.6 L108,94.7 L111,93.6 L114,92.6 L117,91.6 L120,90.6 L123,89.7 L126,88.8 L129,88 L130,87.8 L138,85.8 L146,84.1 L154,82.6 L162,81.4 L170,80.4 L178,79.5 L186,78.9 L194,78.4 L202,78.1 L210,77.9 L218,77.9 L226,78 L234,78.2 L242,78.6 L250,79 L258,79.6 L266,80.2 L274,81 L282,81.9 L290,82.9 L298,84.1 L306,85.5 L314,87 L318,87.9 L321.5,88.7 L322.8,89.3 L323.4,90 L323.6,92 L323.6,95 L323.4,98 L322.8,99.8 L321.5,100.2 L318,100.7 L314,100.8 L306,101 L298,101.3 L290,101.6 L282,101.9 L274,102.3 L266,102.6 L258,103 L250,103.4 L242,103.9 L234,104.3 L226,104.8 L218,105.3 L210,105.8 L202,106.4 L194,107 L186,107.6 L178,108.3 L170,109.1 L162,109.9 L154,110.8 L146,111.8 L138,112.8 L130,114 L129,114.1 L126,114.6 L123,115 L120,115.5 L117,116 L114,116.5 L111,117.1 L108,117.6 L105,117.4 L102,116.5 L99,115.3 L96,113.8 L93,112.2 L90,110.3 L87,108.3 L84,106.2 L81,104 Z" fill="#d6b2ce"/>
<path d="M81,101 L84,100.5 L87,99.9 L90,99.4 L93,98.8 L96,98.3 L99,97.7 L102,97 L105,96.3 L108,95.5 L111,94.4 L114,93.4 L117,92.4 L120,91.5 L123,90.6 L126,89.7 L129,88.9 L130,88.7 L138,86.7 L146,85 L154,83.6 L162,82.4 L170,81.4 L178,80.5 L186,79.9 L194,79.4 L202,79.1 L210,78.9 L218,78.9 L226,78.9 L234,79.1 L242,79.4 L250,79.8 L258,80.4 L266,81 L274,81.7 L282,82.6 L290,83.5 L298,84.7 L306,85.9 L314,87.4 L318,88.3 L321.5,89 L322.8,89.6 L323.4,90.2 L323.6,92 L323.6,95 L323.4,98 L322.8,99.8 L321.5,100.2 L318,100.7 L314,100.8 L306,101 L298,101.3 L290,101.6 L282,101.9 L274,102.3 L266,102.6 L258,103 L250,103.4 L242,103.9 L234,104.3 L226,104.8 L218,105.3 L210,105.8 L202,106.4 L194,107 L186,107.6 L178,108.3 L170,109.1 L162,109.9 L154,110.8 L146,111.8 L138,112.8 L130,114 L129,114.1 L126,114.6 L123,115 L120,115.5 L117,116 L114,116.5 L111,117.1 L108,117.6 L105,117.4 L102,116.5 L99,115.3 L96,113.8 L93,112.2 L90,110.3 L87,108.3 L84,106.2 L81,104 Z" fill="#d8b8d3"/>
<path d="M81,101 L84,100.6 L87,100.1 L90,99.7 L93,99.3 L96,98.8 L99,98.3 L102,97.7 L105,97.1 L108,96.2 L111,95.2 L114,94.2 L117,93.2 L120,92.3 L123,91.4 L126,90.6 L129,89.8 L130,89.6 L138,87.7 L146,86 L154,84.6 L162,83.4 L170,82.4 L178,81.5 L186,80.9 L194,80.4 L202,80.1 L210,79.9 L218,79.8 L226,79.9 L234,80 L242,80.3 L250,80.7 L258,81.1 L266,81.7 L274,82.4 L282,83.2 L290,84.2 L298,85.2 L306,86.4 L314,87.9 L318,88.7 L321.5,89.3 L322.8,89.9 L323.4,90.4 L323.6,92 L323.6,95 L323.4,98 L322.8,99.8 L321.5,100.2 L318,100.7 L314,100.8 L306,101 L298,101.3 L290,101.6 L282,101.9 L274,102.3 L266,102.6 L258,103 L250,103.4 L242,103.9 L234,104.3 L226,104.8 L218,105.3 L210,105.8 L202,106.4 L194,107 L186,107.6 L178,108.3 L170,109.1 L162,109.9 L154,110.8 L146,111.8 L138,112.8 L130,114 L129,114.1 L126,114.6 L123,115 L120,115.5 L117,116 L114,116.5 L111,117.1 L108,117.6 L105,117.4 L102,116.5 L99,115.3 L96,113.8 L93,112.2 L90,110.3 L87,108.3 L84,106.2 L81,104 Z" fill="#dcbcd7"/>
<path d="M81,101 L84,100.7 L87,100.4 L90,100 L93,99.7 L96,99.3 L99,98.8 L102,98.4 L105,97.8 L108,97 L111,96 L114,95 L117,94.1 L120,93.2 L123,92.3 L126,91.5 L129,90.7 L130,90.5 L138,88.6 L146,87 L154,85.6 L162,84.4 L170,83.4 L178,82.5 L186,81.9 L194,81.4 L202,81 L210,80.8 L218,80.7 L226,80.8 L234,80.9 L242,81.2 L250,81.5 L258,81.9 L266,82.5 L274,83.1 L282,83.9 L290,84.8 L298,85.8 L306,86.9 L314,88.3 L318,89 L321.5,89.7 L322.8,90.1 L323.4,90.6 L323.6,92 L323.6,95 L323.4,98 L322.8,99.8 L321.5,100.2 L318,100.7 L314,100.8 L306,101 L298,101.3 L290,101.6 L282,101.9 L274,102.3 L266,102.6 L258,103 L250,103.4 L242,103.9 L234,104.3 L226,104.8 L218,105.3 L210,105.8 L202,106.4 L194,107 L186,107.6 L178,108.3 L170,109.1 L162,109.9 L154,110.8 L146,111.8 L138,112.8 L130,114 L129,114.1 L126,114.6 L123,115 L120,115.5 L117,116 L114,116.5 L111,117.1 L108,117.6 L105,117.4 L102,116.5 L99,115.3 L96,113.8 L93,112.2 L90,110.3 L87,108.3 L84,106.2 L81,104 Z" fill="#dec2dc"/>
<path d="M81,101 L84,100.8 L87,100.6 L90,100.3 L93,100.1 L96,99.8 L99,99.4 L102,99 L105,98.5 L108,97.8 L111,96.8 L114,95.8 L117,94.9 L120,94 L123,93.2 L126,92.4 L129,91.6 L130,91.4 L138,89.5 L146,87.9 L154,86.5 L162,85.3 L170,84.4 L178,83.5 L186,82.9 L194,82.4 L202,82 L210,81.8 L218,81.7 L226,81.7 L234,81.8 L242,82 L250,82.3 L258,82.7 L266,83.2 L274,83.8 L282,84.5 L290,85.4 L298,86.3 L306,87.4 L314,88.7 L318,89.4 L321.5,90 L322.8,90.4 L323.4,90.8 L323.6,92 L323.6,95 L323.4,98 L322.8,99.8 L321.5,100.2 L318,100.7 L314,100.8 L306,101 L298,101.3 L290,101.6 L282,101.9 L274,102.3 L266,102.6 L258,103 L250,103.4 L242,103.9 L234,104.3 L226,104.8 L218,105.3 L210,105.8 L202,106.4 L194,107 L186,107.6 L178,108.3 L170,109.1 L162,109.9 L154,110.8 L146,111.8 L138,112.8 L130,114 L129,114.1 L126,114.6 L123,115 L120,115.5 L117,116 L114,116.5 L111,117.1 L108,117.6 L105,117.4 L102,116.5 L99,115.3 L96,113.8 L93,112.2 L90,110.3 L87,108.3 L84,106.2 L81,104 Z" fill="#e0c5df"/>
<path d="M81,101 L84,100.9 L87,100.8 L90,100.6 L93,100.5 L96,100.3 L99,100 L102,99.6 L105,99.2 L108,98.5 L111,97.5 L114,96.6 L117,95.7 L120,94.8 L123,94 L126,93.2 L129,92.4 L130,92.2 L138,90.4 L146,88.8 L154,87.4 L162,86.2 L170,85.3 L178,84.4 L186,83.8 L194,83.3 L202,82.9 L210,82.7 L218,82.6 L226,82.5 L234,82.6 L242,82.8 L250,83.1 L258,83.5 L266,83.9 L274,84.5 L282,85.1 L290,85.9 L298,86.8 L306,87.9 L314,89.1 L318,89.8 L321.5,90.3 L322.8,90.7 L323.4,91 L323.6,92 L323.6,95 L323.4,98 L322.8,99.8 L321.5,100.2 L318,100.7 L314,100.8 L306,101 L298,101.3 L290,101.6 L282,101.9 L274,102.3 L266,102.6 L258,103 L250,103.4 L242,103.9 L234,104.3 L226,104.8 L218,105.3 L210,105.8 L202,106.4 L194,107 L186,107.6 L178,108.3 L170,109.1 L162,109.9 L154,110.8 L146,111.8 L138,112.8 L130,114 L129,114.1 L126,114.6 L123,115 L120,115.5 L117,116 L114,116.5 L111,117.1 L108,117.6 L105,117.4 L102,116.5 L99,115.3 L96,113.8 L93,112.2 L90,110.3 L87,108.3 L84,106.2 L81,104 Z" fill="#e2c8e0"/>
<path d="M81,101 L84,101 L87,101 L90,100.9 L93,100.8 L96,100.7 L99,100.5 L102,100.2 L105,99.8 L108,99.2 L111,98.2 L114,97.3 L117,96.4 L120,95.6 L123,94.7 L126,94 L129,93.2 L130,93 L138,91.2 L146,89.7 L154,88.3 L162,87.1 L170,86.2 L178,85.4 L186,84.7 L194,84.2 L202,83.8 L210,83.5 L218,83.4 L226,83.4 L234,83.4 L242,83.6 L250,83.8 L258,84.2 L266,84.6 L274,85.1 L282,85.7 L290,86.5 L298,87.3 L306,88.3 L314,89.4 L318,90.1 L321.5,90.6 L322.8,91 L323.4,91.2 L323.6,92 L323.6,95 L323.4,98 L322.8,99.8 L321.5,100.2 L318,100.7 L314,100.8 L306,101 L298,101.3 L290,101.6 L282,101.9 L274,102.3 L266,102.6 L258,103 L250,103.4 L242,103.9 L234,104.3 L226,104.8 L218,105.3 L210,105.8 L202,106.4 L194,107 L186,107.6 L178,108.3 L170,109.1 L162,109.9 L154,110.8 L146,111.8 L138,112.8 L130,114 L129,114.1 L126,114.6 L123,115 L120,115.5 L117,116 L114,116.5 L111,117.1 L108,117.6 L105,117.4 L102,116.5 L99,115.3 L96,113.8 L93,112.2 L90,110.3 L87,108.3 L84,106.2 L81,104 Z" fill="#e2cae1"/>
<path d="M81,101 L84,101.1 L87,101.2 L90,101.2 L93,101.2 L96,101.2 L99,101 L102,100.8 L105,100.5 L108,99.9 L111,98.9 L114,98 L117,97.2 L120,96.3 L123,95.5 L126,94.8 L129,94 L130,93.8 L138,92.1 L146,90.5 L154,89.2 L162,88 L170,87.1 L178,86.3 L186,85.6 L194,85.1 L202,84.7 L210,84.4 L218,84.3 L226,84.2 L234,84.2 L242,84.4 L250,84.6 L258,84.9 L266,85.3 L274,85.8 L282,86.3 L290,87 L298,87.8 L306,88.7 L314,89.8 L318,90.5 L321.5,90.9 L322.8,91.2 L323.4,91.3 L323.6,92 L323.6,95 L323.4,98 L322.8,99.8 L321.5,100.2 L318,100.7 L314,100.8 L306,101 L298,101.3 L290,101.6 L282,101.9 L274,102.3 L266,102.6 L258,103 L250,103.4 L242,103.9 L234,104.3 L226,104.8 L218,105.3 L210,105.8 L202,106.4 L194,107 L186,107.6 L178,108.3 L170,109.1 L162,109.9 L154,110.8 L146,111.8 L138,112.8 L130,114 L129,114.1 L126,114.6 L123,115 L120,115.5 L117,116 L114,116.5 L111,117.1 L108,117.6 L105,117.4 L102,116.5 L99,115.3 L96,113.8 L93,112.2 L90,110.3 L87,108.3 L84,106.2 L81,104 Z" fill="#e4cde3"/>
<path d="M81,101 L84,101.2 L87,101.4 L90,101.5 L93,101.6 L96,101.6 L99,101.6 L102,101.4 L105,101.2 L108,100.6 L111,99.7 L114,98.8 L117,97.9 L120,97.1 L123,96.3 L126,95.6 L129,94.9 L130,94.6 L138,92.9 L146,91.4 L154,90.1 L162,88.9 L170,88 L178,87.2 L186,86.5 L194,86 L202,85.6 L210,85.3 L218,85.1 L226,85 L234,85.1 L242,85.2 L250,85.3 L258,85.6 L266,86 L274,86.4 L282,86.9 L290,87.6 L298,88.3 L306,89.2 L314,90.2 L318,90.8 L321.5,91.2 L322.8,91.5 L323.4,91.5 L323.6,92 L323.6,95 L323.4,98 L322.8,99.8 L321.5,100.2 L318,100.7 L314,100.8 L306,101 L298,101.3 L290,101.6 L282,101.9 L274,102.3 L266,102.6 L258,103 L250,103.4 L242,103.9 L234,104.3 L226,104.8 L218,105.3 L210,105.8 L202,106.4 L194,107 L186,107.6 L178,108.3 L170,109.1 L162,109.9 L154,110.8 L146,111.8 L138,112.8 L130,114 L129,114.1 L126,114.6 L123,115 L120,115.5 L117,116 L114,116.5 L111,117.1 L108,117.6 L105,117.4 L102,116.5 L99,115.3 L96,113.8 L93,112.2 L90,110.3 L87,108.3 L84,106.2 L81,104 Z" fill="#e4cfe4"/>
<path d="M81,101 L84,101.3 L87,101.6 L90,101.8 L93,102 L96,102.1 L99,102.1 L102,102 L105,101.8 L108,101.3 L111,100.4 L114,99.5 L117,98.7 L120,97.9 L123,97.1 L126,96.4 L129,95.7 L130,95.4 L138,93.8 L146,92.3 L154,91 L162,89.8 L170,88.9 L178,88.1 L186,87.4 L194,86.9 L202,86.5 L210,86.2 L218,86 L226,85.9 L234,85.9 L242,85.9 L250,86.1 L258,86.3 L266,86.7 L274,87.1 L282,87.5 L290,88.1 L298,88.8 L306,89.6 L314,90.6 L318,91.1 L321.5,91.5 L322.8,91.8 L323.4,91.7 L323.6,92 L323.6,95 L323.4,98 L322.8,99.8 L321.5,100.2 L318,100.7 L314,100.8 L306,101 L298,101.3 L290,101.6 L282,101.9 L274,102.3 L266,102.6 L258,103 L250,103.4 L242,103.9 L234,104.3 L226,104.8 L218,105.3 L210,105.8 L202,106.4 L194,107 L186,107.6 L178,108.3 L170,109.1 L162,109.9 L154,110.8 L146,111.8 L138,112.8 L130,114 L129,114.1 L126,114.6 L123,115 L120,115.5 L117,116 L114,116.5 L111,117.1 L108,117.6 L105,117.4 L102,116.5 L99,115.3 L96,113.8 L93,112.2 L90,110.3 L87,108.3 L84,106.2 L81,104 Z" fill="#e6d2e5"/>
<path d="M81,101 L84,101.4 L87,101.7 L90,102.1 L93,102.4 L96,102.6 L99,102.6 L102,102.6 L105,102.5 L108,102 L111,101.1 L114,100.2 L117,99.4 L120,98.6 L123,97.9 L126,97.2 L129,96.5 L130,96.3 L138,94.6 L146,93.1 L154,91.9 L162,90.7 L170,89.8 L178,89 L186,88.3 L194,87.8 L202,87.3 L210,87.1 L218,86.8 L226,86.7 L234,86.7 L242,86.7 L250,86.9 L258,87.1 L266,87.3 L274,87.7 L282,88.1 L290,88.7 L298,89.3 L306,90.1 L314,91 L318,91.5 L321.5,91.8 L322.8,92 L323.4,91.8 L323.6,92 L323.6,95 L323.4,98 L322.8,99.8 L321.5,100.2 L318,100.7 L314,100.8 L306,101 L298,101.3 L290,101.6 L282,101.9 L274,102.3 L266,102.6 L258,103 L250,103.4 L242,103.9 L234,104.3 L226,104.8 L218,105.3 L210,105.8 L202,106.4 L194,107 L186,107.6 L178,108.3 L170,109.1 L162,109.9 L154,110.8 L146,111.8 L138,112.8 L130,114 L129,114.1 L126,114.6 L123,115 L120,115.5 L117,116 L114,116.5 L111,117.1 L108,117.6 L105,117.4 L102,116.5 L99,115.3 L96,113.8 L93,112.2 L90,110.3 L87,108.3 L84,106.2 L81,104 Z" fill="#e6d4e7"/>
<path d="M81,101 L84,101.5 L87,101.9 L90,102.4 L93,102.7 L96,103 L99,103.2 L102,103.2 L105,103.1 L108,102.7 L111,101.8 L114,101 L117,100.2 L120,99.4 L123,98.7 L126,98 L129,97.3 L130,97.1 L138,95.4 L146,94 L154,92.7 L162,91.6 L170,90.7 L178,89.9 L186,89.2 L194,88.7 L202,88.2 L210,87.9 L218,87.7 L226,87.6 L234,87.5 L242,87.5 L250,87.6 L258,87.8 L266,88 L274,88.3 L282,88.7 L290,89.2 L298,89.8 L306,90.5 L314,91.3 L318,91.8 L321.5,92.1 L322.8,92.3 L323.4,92 L323.6,92 L323.6,95 L323.4,98 L322.8,99.8 L321.5,100.2 L318,100.7 L314,100.8 L306,101 L298,101.3 L290,101.6 L282,101.9 L274,102.3 L266,102.6 L258,103 L250,103.4 L242,103.9 L234,104.3 L226,104.8 L218,105.3 L210,105.8 L202,106.4 L194,107 L186,107.6 L178,108.3 L170,109.1 L162,109.9 L154,110.8 L146,111.8 L138,112.8 L130,114 L129,114.1 L126,114.6 L123,115 L120,115.5 L117,116 L114,116.5 L111,117.1 L108,117.6 L105,117.4 L102,116.5 L99,115.3 L96,113.8 L93,112.2 L90,110.3 L87,108.3 L84,106.2 L81,104 Z" fill="#e8d7e8"/>
<path d="M81,101 L84,101.6 L87,102.1 L90,102.7 L93,103.1 L96,103.5 L99,103.7 L102,103.8 L105,103.8 L108,103.4 L111,102.5 L114,101.7 L117,100.9 L120,100.2 L123,99.5 L126,98.8 L129,98.1 L130,97.9 L138,96.3 L146,94.9 L154,93.6 L162,92.5 L170,91.6 L178,90.8 L186,90.1 L194,89.6 L202,89.1 L210,88.8 L218,88.6 L226,88.4 L234,88.3 L242,88.3 L250,88.4 L258,88.5 L266,88.7 L274,89 L282,89.3 L290,89.8 L298,90.3 L306,91 L314,91.7 L318,92.2 L321.5,92.4 L322.8,92.6 L323.4,92.2 L323.6,92 L323.6,95 L323.4,98 L322.8,99.8 L321.5,100.2 L318,100.7 L314,100.8 L306,101 L298,101.3 L290,101.6 L282,101.9 L274,102.3 L266,102.6 L258,103 L250,103.4 L242,103.9 L234,104.3 L226,104.8 L218,105.3 L210,105.8 L202,106.4 L194,107 L186,107.6 L178,108.3 L170,109.1 L162,109.9 L154,110.8 L146,111.8 L138,112.8 L130,114 L129,114.1 L126,114.6 L123,115 L120,115.5 L117,116 L114,116.5 L111,117.1 L108,117.6 L105,117.4 L102,116.5 L99,115.3 L96,113.8 L93,112.2 L90,110.3 L87,108.3 L84,106.2 L81,104 Z" fill="#e8d9e9"/>
<path d="M81,101 L84,101.7 L87,102.3 L90,103 L93,103.5 L96,103.9 L99,104.3 L102,104.4 L105,104.5 L108,104.1 L111,103.3 L114,102.5 L117,101.7 L120,101 L123,100.3 L126,99.6 L129,98.9 L130,98.7 L138,97.1 L146,95.7 L154,94.5 L162,93.4 L170,92.5 L178,91.7 L186,91 L194,90.5 L202,90 L210,89.7 L218,89.4 L226,89.2 L234,89.1 L242,89.1 L250,89.1 L258,89.2 L266,89.4 L274,89.6 L282,89.9 L290,90.3 L298,90.8 L306,91.4 L314,92.1 L318,92.5 L321.5,92.7 L322.8,92.8 L323.4,92.4 L323.6,92 L323.6,95 L323.4,98 L322.8,99.8 L321.5,100.2 L318,100.7 L314,100.8 L306,101 L298,101.3 L290,101.6 L282,101.9 L274,102.3 L266,102.6 L258,103 L250,103.4 L242,103.9 L234,104.3 L226,104.8 L218,105.3 L210,105.8 L202,106.4 L194,107 L186,107.6 L178,108.3 L170,109.1 L162,109.9 L154,110.8 L146,111.8 L138,112.8 L130,114 L129,114.1 L126,114.6 L123,115 L120,115.5 L117,116 L114,116.5 L111,117.1 L108,117.6 L105,117.4 L102,116.5 L99,115.3 L96,113.8 L93,112.2 L90,110.3 L87,108.3 L84,106.2 L81,104 Z" fill="#eadceb"/>
<path d="M81,101 L84,101.8 L87,102.5 L90,103.2 L93,103.9 L96,104.4 L99,104.8 L102,105 L105,105.1 L108,104.8 L111,104 L114,103.2 L117,102.5 L120,101.7 L123,101 L126,100.4 L129,99.7 L130,99.5 L138,98 L146,96.6 L154,95.4 L162,94.3 L170,93.4 L178,92.6 L186,91.9 L194,91.4 L202,90.9 L210,90.6 L218,90.3 L226,90.1 L234,89.9 L242,89.9 L250,89.9 L258,89.9 L266,90.1 L274,90.3 L282,90.5 L290,90.9 L298,91.3 L306,91.8 L314,92.5 L318,92.9 L321.5,93 L322.8,93.1 L323.4,92.5 L323.6,92 L323.6,95 L323.4,98 L322.8,99.8 L321.5,100.2 L318,100.7 L314,100.8 L306,101 L298,101.3 L290,101.6 L282,101.9 L274,102.3 L266,102.6 L258,103 L250,103.4 L242,103.9 L234,104.3 L226,104.8 L218,105.3 L210,105.8 L202,106.4 L194,107 L186,107.6 L178,108.3 L170,109.1 L162,109.9 L154,110.8 L146,111.8 L138,112.8 L130,114 L129,114.1 L126,114.6 L123,115 L120,115.5 L117,116 L114,116.5 L111,117.1 L108,117.6 L105,117.4 L102,116.5 L99,115.3 L96,113.8 L93,112.2 L90,110.3 L87,108.3 L84,106.2 L81,104 Z" fill="#eadeec"/>
<path d="M81,101 L84,101.9 L87,102.7 L90,103.5 L93,104.3 L96,104.9 L99,105.3 L102,105.6 L105,105.8 L108,105.5 L111,104.7 L114,103.9 L117,103.2 L120,102.5 L123,101.8 L126,101.2 L129,100.6 L130,100.4 L138,98.8 L146,97.5 L154,96.3 L162,95.2 L170,94.3 L178,93.5 L186,92.8 L194,92.3 L202,91.8 L210,91.4 L218,91.1 L226,90.9 L234,90.8 L242,90.7 L250,90.6 L258,90.7 L266,90.8 L274,90.9 L282,91.1 L290,91.4 L298,91.8 L306,92.3 L314,92.9 L318,93.2 L321.5,93.3 L322.8,93.4 L323.4,92.7 L323.6,92 L323.6,95 L323.4,98 L322.8,99.8 L321.5,100.2 L318,100.7 L314,100.8 L306,101 L298,101.3 L290,101.6 L282,101.9 L274,102.3 L266,102.6 L258,103 L250,103.4 L242,103.9 L234,104.3 L226,104.8 L218,105.3 L210,105.8 L202,106.4 L194,107 L186,107.6 L178,108.3 L170,109.1 L162,109.9 L154,110.8 L146,111.8 L138,112.8 L130,114 L129,114.1 L126,114.6 L123,115 L120,115.5 L117,116 L114,116.5 L111,117.1 L108,117.6 L105,117.4 L102,116.5 L99,115.3 L96,113.8 L93,112.2 L90,110.3 L87,108.3 L84,106.2 L81,104 Z" fill="#ece1ed"/>
<path d="M81,101 L84,102 L87,102.9 L90,103.8 L93,104.6 L96,105.3 L99,105.9 L102,106.2 L105,106.4 L108,106.2 L111,105.4 L114,104.7 L117,104 L120,103.3 L123,102.6 L126,102 L129,101.4 L130,101.2 L138,99.7 L146,98.4 L154,97.2 L162,96.1 L170,95.2 L178,94.4 L186,93.8 L194,93.2 L202,92.7 L210,92.3 L218,92 L226,91.7 L234,91.6 L242,91.4 L250,91.4 L258,91.4 L266,91.4 L274,91.6 L282,91.7 L290,92 L298,92.3 L306,92.7 L314,93.2 L318,93.5 L321.5,93.6 L322.8,93.6 L323.4,92.9 L323.6,92 L323.6,95 L323.4,98 L322.8,99.8 L321.5,100.2 L318,100.7 L314,100.8 L306,101 L298,101.3 L290,101.6 L282,101.9 L274,102.3 L266,102.6 L258,103 L250,103.4 L242,103.9 L234,104.3 L226,104.8 L218,105.3 L210,105.8 L202,106.4 L194,107 L186,107.6 L178,108.3 L170,109.1 L162,109.9 L154,110.8 L146,111.8 L138,112.8 L130,114 L129,114.1 L126,114.6 L123,115 L120,115.5 L117,116 L114,116.5 L111,117.1 L108,117.6 L105,117.4 L102,116.5 L99,115.3 L96,113.8 L93,112.2 L90,110.3 L87,108.3 L84,106.2 L81,104 Z" fill="#ece3ee"/>
<path d="M81,101 L84,102.1 L87,103.1 L90,104.1 L93,105 L96,105.8 L99,106.4 L102,106.9 L105,107.1 L108,106.9 L111,106.2 L114,105.5 L117,104.8 L120,104.1 L123,103.4 L126,102.8 L129,102.2 L130,102 L138,100.6 L146,99.3 L154,98.1 L162,97.1 L170,96.2 L178,95.4 L186,94.7 L194,94.1 L202,93.6 L210,93.2 L218,92.9 L226,92.6 L234,92.4 L242,92.3 L250,92.2 L258,92.1 L266,92.2 L274,92.2 L282,92.4 L290,92.6 L298,92.9 L306,93.2 L314,93.6 L318,93.9 L321.5,93.9 L322.8,93.9 L323.4,93.1 L323.6,92 L323.6,95 L323.4,98 L322.8,99.8 L321.5,100.2 L318,100.7 L314,100.8 L306,101 L298,101.3 L290,101.6 L282,101.9 L274,102.3 L266,102.6 L258,103 L250,103.4 L242,103.9 L234,104.3 L226,104.8 L218,105.3 L210,105.8 L202,106.4 L194,107 L186,107.6 L178,108.3 L170,109.1 L162,109.9 L154,110.8 L146,111.8 L138,112.8 L130,114 L129,114.1 L126,114.6 L123,115 L120,115.5 L117,116 L114,116.5 L111,117.1 L108,117.6 L105,117.4 L102,116.5 L99,115.3 L96,113.8 L93,112.2 L90,110.3 L87,108.3 L84,106.2 L81,104 Z" fill="#ede5f0"/>
<path d="M81,101 L84,102.2 L87,103.3 L90,104.4 L93,105.4 L96,106.3 L99,107 L102,107.5 L105,107.9 L108,107.7 L111,107 L114,106.3 L117,105.6 L120,104.9 L123,104.3 L126,103.7 L129,103.1 L130,102.9 L138,101.5 L146,100.2 L154,99.1 L162,98.1 L170,97.2 L178,96.4 L186,95.7 L194,95.1 L202,94.6 L210,94.2 L218,93.8 L226,93.5 L234,93.3 L242,93.1 L250,93 L258,92.9 L266,92.9 L274,92.9 L282,93 L290,93.2 L298,93.4 L306,93.7 L314,94 L318,94.3 L321.5,94.2 L322.8,94.2 L323.4,93.3 L323.6,92 L323.6,95 L323.4,98 L322.8,99.8 L321.5,100.2 L318,100.7 L314,100.8 L306,101 L298,101.3 L290,101.6 L282,101.9 L274,102.3 L266,102.6 L258,103 L250,103.4 L242,103.9 L234,104.3 L226,104.8 L218,105.3 L210,105.8 L202,106.4 L194,107 L186,107.6 L178,108.3 L170,109.1 L162,109.9 L154,110.8 L146,111.8 L138,112.8 L130,114 L129,114.1 L126,114.6 L123,115 L120,115.5 L117,116 L114,116.5 L111,117.1 L108,117.6 L105,117.4 L102,116.5 L99,115.3 L96,113.8 L93,112.2 L90,110.3 L87,108.3 L84,106.2 L81,104 Z" fill="#eee7f0"/>
<path d="M81,101 L84,102.3 L87,103.6 L90,104.8 L93,105.8 L96,106.8 L99,107.6 L102,108.2 L105,108.6 L108,108.4 L111,107.7 L114,107 L117,106.4 L120,105.7 L123,105.1 L126,104.5 L129,104 L130,103.8 L138,102.4 L146,101.1 L154,100 L162,99 L170,98.1 L178,97.3 L186,96.7 L194,96 L202,95.5 L210,95.1 L218,94.7 L226,94.4 L234,94.2 L242,94 L250,93.8 L258,93.7 L266,93.6 L274,93.6 L282,93.7 L290,93.8 L298,93.9 L306,94.1 L314,94.5 L318,94.6 L321.5,94.5 L322.8,94.5 L323.4,93.5 L323.6,92 L323.6,95 L323.4,98 L322.8,99.8 L321.5,100.2 L318,100.7 L314,100.8 L306,101 L298,101.3 L290,101.6 L282,101.9 L274,102.3 L266,102.6 L258,103 L250,103.4 L242,103.9 L234,104.3 L226,104.8 L218,105.3 L210,105.8 L202,106.4 L194,107 L186,107.6 L178,108.3 L170,109.1 L162,109.9 L154,110.8 L146,111.8 L138,112.8 L130,114 L129,114.1 L126,114.6 L123,115 L120,115.5 L117,116 L114,116.5 L111,117.1 L108,117.6 L105,117.4 L102,116.5 L99,115.3 L96,113.8 L93,112.2 L90,110.3 L87,108.3 L84,106.2 L81,104 Z" fill="#eee9f2"/>
<path d="M81,101 L84,102.4 L87,103.8 L90,105.1 L93,106.2 L96,107.3 L99,108.1 L102,108.8 L105,109.3 L108,109.2 L111,108.5 L114,107.8 L117,107.2 L120,106.6 L123,106 L126,105.4 L129,104.8 L130,104.7 L138,103.3 L146,102.1 L154,101 L162,100 L170,99.1 L178,98.3 L186,97.6 L194,97 L202,96.5 L210,96 L218,95.7 L226,95.3 L234,95 L242,94.8 L250,94.6 L258,94.5 L266,94.4 L274,94.3 L282,94.3 L290,94.4 L298,94.5 L306,94.6 L314,94.9 L318,95 L321.5,94.9 L322.8,94.8 L323.4,93.6 L323.6,92 L323.6,95 L323.4,98 L322.8,99.8 L321.5,100.2 L318,100.7 L314,100.8 L306,101 L298,101.3 L290,101.6 L282,101.9 L274,102.3 L266,102.6 L258,103 L250,103.4 L242,103.9 L234,104.3 L226,104.8 L218,105.3 L210,105.8 L202,106.4 L194,107 L186,107.6 L178,108.3 L170,109.1 L162,109.9 L154,110.8 L146,111.8 L138,112.8 L130,114 L129,114.1 L126,114.6 L123,115 L120,115.5 L117,116 L114,116.5 L111,117.1 L108,117.6 L105,117.4 L102,116.5 L99,115.3 L96,113.8 L93,112.2 L90,110.3 L87,108.3 L84,106.2 L81,104 Z" fill="#efebf2"/>
<path d="M81,101 L84,102.5 L87,104 L90,105.4 L93,106.7 L96,107.8 L99,108.7 L102,109.5 L105,110 L108,109.9 L111,109.3 L114,108.6 L117,108 L120,107.4 L123,106.8 L126,106.2 L129,105.7 L130,105.5 L138,104.2 L146,103 L154,101.9 L162,100.9 L170,100.1 L178,99.3 L186,98.6 L194,98 L202,97.4 L210,97 L218,96.6 L226,96.2 L234,95.9 L242,95.6 L250,95.4 L258,95.2 L266,95.1 L274,95 L282,94.9 L290,94.9 L298,95 L306,95.1 L314,95.3 L318,95.4 L321.5,95.2 L322.8,95 L323.4,93.8 L323.6,92 L323.6,95 L323.4,98 L322.8,99.8 L321.5,100.2 L318,100.7 L314,100.8 L306,101 L298,101.3 L290,101.6 L282,101.9 L274,102.3 L266,102.6 L258,103 L250,103.4 L242,103.9 L234,104.3 L226,104.8 L218,105.3 L210,105.8 L202,106.4 L194,107 L186,107.6 L178,108.3 L170,109.1 L162,109.9 L154,110.8 L146,111.8 L138,112.8 L130,114 L129,114.1 L126,114.6 L123,115 L120,115.5 L117,116 L114,116.5 L111,117.1 L108,117.6 L105,117.4 L102,116.5 L99,115.3 L96,113.8 L93,112.2 L90,110.3 L87,108.3 L84,106.2 L81,104 Z" fill="#f0edf4"/>
<path d="M81,101 L84,102.6 L87,104.2 L90,105.7 L93,107.1 L96,108.3 L99,109.3 L102,110.1 L105,110.7 L108,110.7 L111,110 L114,109.4 L117,108.8 L120,108.2 L123,107.6 L126,107.1 L129,106.6 L130,106.4 L138,105.1 L146,103.9 L154,102.9 L162,101.9 L170,101 L178,100.3 L186,99.5 L194,98.9 L202,98.4 L210,97.9 L218,97.5 L226,97.1 L234,96.8 L242,96.5 L250,96.2 L258,96 L266,95.8 L274,95.7 L282,95.6 L290,95.5 L298,95.5 L306,95.6 L314,95.7 L318,95.7 L321.5,95.5 L322.8,95.3 L323.4,94 L323.6,92 L323.6,95 L323.4,98 L322.8,99.8 L321.5,100.2 L318,100.7 L314,100.8 L306,101 L298,101.3 L290,101.6 L282,101.9 L274,102.3 L266,102.6 L258,103 L250,103.4 L242,103.9 L234,104.3 L226,104.8 L218,105.3 L210,105.8 L202,106.4 L194,107 L186,107.6 L178,108.3 L170,109.1 L162,109.9 L154,110.8 L146,111.8 L138,112.8 L130,114 L129,114.1 L126,114.6 L123,115 L120,115.5 L117,116 L114,116.5 L111,117.1 L108,117.6 L105,117.4 L102,116.5 L99,115.3 L96,113.8 L93,112.2 L90,110.3 L87,108.3 L84,106.2 L81,104 Z" fill="#ecebf1"/>
<path d="M81,101 L84,102.7 L87,104.4 L90,106 L93,107.5 L96,108.8 L99,109.9 L102,110.7 L105,111.4 L108,111.4 L111,110.8 L114,110.2 L117,109.6 L120,109 L123,108.5 L126,108 L129,107.4 L130,107.3 L138,106 L146,104.9 L154,103.8 L162,102.9 L170,102 L178,101.2 L186,100.5 L194,99.9 L202,99.3 L210,98.8 L218,98.4 L226,98 L234,97.6 L242,97.3 L250,97 L258,96.8 L266,96.5 L274,96.4 L282,96.2 L290,96.1 L298,96.1 L306,96 L314,96.1 L318,96.1 L321.5,95.8 L322.8,95.6 L323.4,94.2 L323.6,92 L323.6,95 L323.4,98 L322.8,99.8 L321.5,100.2 L318,100.7 L314,100.8 L306,101 L298,101.3 L290,101.6 L282,101.9 L274,102.3 L266,102.6 L258,103 L250,103.4 L242,103.9 L234,104.3 L226,104.8 L218,105.3 L210,105.8 L202,106.4 L194,107 L186,107.6 L178,108.3 L170,109.1 L162,109.9 L154,110.8 L146,111.8 L138,112.8 L130,114 L129,114.1 L126,114.6 L123,115 L120,115.5 L117,116 L114,116.5 L111,117.1 L108,117.6 L105,117.4 L102,116.5 L99,115.3 L96,113.8 L93,112.2 L90,110.3 L87,108.3 L84,106.2 L81,104 Z" fill="#e4e6ec"/>
<path d="M81,101 L84,102.8 L87,104.6 L90,106.3 L93,107.9 L96,109.2 L99,110.4 L102,111.4 L105,112.1 L108,112.2 L111,111.6 L114,111 L117,110.4 L120,109.9 L123,109.3 L126,108.8 L129,108.3 L130,108.1 L138,106.9 L146,105.8 L154,104.8 L162,103.8 L170,103 L178,102.2 L186,101.5 L194,100.8 L202,100.3 L210,99.8 L218,99.3 L226,98.9 L234,98.5 L242,98.1 L250,97.8 L258,97.5 L266,97.3 L274,97.1 L282,96.9 L290,96.7 L298,96.6 L306,96.5 L314,96.5 L318,96.5 L321.5,96.1 L322.8,95.9 L323.4,94.4 L323.6,92 L323.6,95 L323.4,98 L322.8,99.8 L321.5,100.2 L318,100.7 L314,100.8 L306,101 L298,101.3 L290,101.6 L282,101.9 L274,102.3 L266,102.6 L258,103 L250,103.4 L242,103.9 L234,104.3 L226,104.8 L218,105.3 L210,105.8 L202,106.4 L194,107 L186,107.6 L178,108.3 L170,109.1 L162,109.9 L154,110.8 L146,111.8 L138,112.8 L130,114 L129,114.1 L126,114.6 L123,115 L120,115.5 L117,116 L114,116.5 L111,117.1 L108,117.6 L105,117.4 L102,116.5 L99,115.3 L96,113.8 L93,112.2 L90,110.3 L87,108.3 L84,106.2 L81,104 Z" fill="#dce0e7"/>
<path d="M81,101 L84,102.9 L87,104.8 L90,106.6 L93,108.3 L96,109.7 L99,111 L102,112 L105,112.8 L108,112.9 L111,112.3 L114,111.8 L117,111.2 L120,110.7 L123,110.2 L126,109.7 L129,109.2 L130,109 L138,107.8 L146,106.7 L154,105.7 L162,104.8 L170,103.9 L178,103.2 L186,102.4 L194,101.8 L202,101.2 L210,100.7 L218,100.2 L226,99.8 L234,99.4 L242,99 L250,98.6 L258,98.3 L266,98 L274,97.7 L282,97.5 L290,97.3 L298,97.1 L306,97 L314,96.9 L318,96.8 L321.5,96.5 L322.8,96.2 L323.4,94.6 L323.6,92 L323.6,95 L323.4,98 L322.8,99.8 L321.5,100.2 L318,100.7 L314,100.8 L306,101 L298,101.3 L290,101.6 L282,101.9 L274,102.3 L266,102.6 L258,103 L250,103.4 L242,103.9 L234,104.3 L226,104.8 L218,105.3 L210,105.8 L202,106.4 L194,107 L186,107.6 L178,108.3 L170,109.1 L162,109.9 L154,110.8 L146,111.8 L138,112.8 L130,114 L129,114.1 L126,114.6 L123,115 L120,115.5 L117,116 L114,116.5 L111,117.1 L108,117.6 L105,117.4 L102,116.5 L99,115.3 L96,113.8 L93,112.2 L90,110.3 L87,108.3 L84,106.2 L81,104 Z" fill="#d0d6dd"/>
<path d="M81,101 L84,103 L87,105 L90,106.8 L93,108.6 L96,110.1 L99,111.4 L102,112.5 L105,113.3 L108,113.5 L111,112.9 L114,112.4 L117,111.8 L120,111.3 L123,110.8 L126,110.3 L129,109.8 L130,109.7 L138,108.5 L146,107.4 L154,106.4 L162,105.5 L170,104.7 L178,103.9 L186,103.2 L194,102.5 L202,101.9 L210,101.4 L218,100.9 L226,100.5 L234,100 L242,99.6 L250,99.2 L258,98.9 L266,98.6 L274,98.3 L282,98 L290,97.7 L298,97.5 L306,97.3 L314,97.2 L318,97.1 L321.5,96.7 L322.8,96.4 L323.4,94.7 L323.6,92 L323.6,95 L323.4,98 L322.8,99.8 L321.5,100.2 L318,100.7 L314,100.8 L306,101 L298,101.3 L290,101.6 L282,101.9 L274,102.3 L266,102.6 L258,103 L250,103.4 L242,103.9 L234,104.3 L226,104.8 L218,105.3 L210,105.8 L202,106.4 L194,107 L186,107.6 L178,108.3 L170,109.1 L162,109.9 L154,110.8 L146,111.8 L138,112.8 L130,114 L129,114.1 L126,114.6 L123,115 L120,115.5 L117,116 L114,116.5 L111,117.1 L108,117.6 L105,117.4 L102,116.5 L99,115.3 L96,113.8 L93,112.2 L90,110.3 L87,108.3 L84,106.2 L81,104 Z" fill="#c0c7cf"/>
<path d="M81,101 L84,103.1 L87,105.1 L90,107.1 L93,108.9 L96,110.5 L99,111.9 L102,113 L105,113.8 L108,114.1 L111,113.5 L114,112.9 L117,112.4 L120,111.9 L123,111.4 L126,110.9 L129,110.5 L130,110.3 L138,109.2 L146,108.1 L154,107.1 L162,106.2 L170,105.4 L178,104.6 L186,103.9 L194,103.2 L202,102.6 L210,102.1 L218,101.6 L226,101.1 L234,100.7 L242,100.2 L250,99.8 L258,99.5 L266,99.1 L274,98.8 L282,98.5 L290,98.2 L298,97.9 L306,97.7 L314,97.5 L318,97.4 L321.5,96.9 L322.8,96.6 L323.4,94.9 L323.6,92 L323.6,95 L323.4,98 L322.8,99.8 L321.5,100.2 L318,100.7 L314,100.8 L306,101 L298,101.3 L290,101.6 L282,101.9 L274,102.3 L266,102.6 L258,103 L250,103.4 L242,103.9 L234,104.3 L226,104.8 L218,105.3 L210,105.8 L202,106.4 L194,107 L186,107.6 L178,108.3 L170,109.1 L162,109.9 L154,110.8 L146,111.8 L138,112.8 L130,114 L129,114.1 L126,114.6 L123,115 L120,115.5 L117,116 L114,116.5 L111,117.1 L108,117.6 L105,117.4 L102,116.5 L99,115.3 L96,113.8 L93,112.2 L90,110.3 L87,108.3 L84,106.2 L81,104 Z" fill="#c0c6cc"/>
<path d="M113,92 Q121.5,103 114,113" stroke="#a89098" stroke-width="1" fill="none"/>
<path d="M121,88 Q130,102 123,113" stroke="#c0b0bc" stroke-width="1" fill="none"/>
<path d="M82,102 L96,95 L97,108 L89,107 Z" fill="#a09868" opacity="0.5" filter="url(#blur1)"/>
<path d="M80,101.5 L97,91.5" stroke="#20a848" stroke-width="3.4" fill="none"/>
<circle cx="185.5" cy="83.2" r="0.65" fill="#8a8a94"/>
<circle cx="249.6" cy="81.3" r="0.65" fill="#8a8a94"/>
<circle cx="227" cy="85.7" r="0.65" fill="#8a8a94"/>
<circle cx="133.4" cy="97" r="0.65" fill="#8a8a94"/>
<circle cx="129.3" cy="96.6" r="0.65" fill="#8a8a94"/>
<circle cx="135.7" cy="89.3" r="0.65" fill="#8a8a94"/>
<circle cx="205.2" cy="94.6" r="0.65" fill="#8a8a94"/>
<circle cx="146.3" cy="89.5" r="0.65" fill="#8a8a94"/>
<circle cx="245" cy="95.2" r="0.65" fill="#8a8a94"/>
<circle cx="235.1" cy="86.2" r="0.65" fill="#8a8a94"/>
<circle cx="313.3" cy="87.9" r="0.65" fill="#8a8a94"/>
<circle cx="290.3" cy="87.2" r="0.65" fill="#8a8a94"/>
<circle cx="150.3" cy="86.8" r="0.65" fill="#8a8a94"/>
<circle cx="182.5" cy="96" r="0.65" fill="#8a8a94"/>
<circle cx="157.4" cy="94.3" r="0.65" fill="#8a8a94"/>
<circle cx="247.2" cy="86" r="0.65" fill="#8a8a94"/>
<circle cx="229.4" cy="80.5" r="0.65" fill="#8a8a94"/>
<circle cx="133.7" cy="91.7" r="0.65" fill="#8a8a94"/>
<circle cx="255.4" cy="87" r="0.65" fill="#8a8a94"/>
<circle cx="183.6" cy="91.6" r="0.65" fill="#8a8a94"/>
<circle cx="210.8" cy="84.8" r="0.65" fill="#8a8a94"/>
<circle cx="277.7" cy="91.5" r="0.65" fill="#8a8a94"/>
<circle cx="169.8" cy="92.7" r="0.65" fill="#8a8a94"/>
<circle cx="224.9" cy="94.6" r="0.65" fill="#8a8a94"/>
<circle cx="265" cy="85.4" r="0.65" fill="#8a8a94"/>
<circle cx="314.1" cy="88.6" r="0.65" fill="#8a8a94"/>
<circle cx="204" cy="93.4" r="0.65" fill="#8a8a94"/>
<circle cx="151.8" cy="93.4" r="0.65" fill="#8a8a94"/>
<circle cx="129.7" cy="100.5" r="0.65" fill="#8a8a94"/>
<circle cx="271.9" cy="89.6" r="0.65" fill="#8a8a94"/>
<circle cx="293.6" cy="87.8" r="0.65" fill="#8a8a94"/>
<circle cx="258.3" cy="89.6" r="0.65" fill="#8a8a94"/>
<circle cx="235.7" cy="87.2" r="0.65" fill="#8a8a94"/>
<circle cx="286.6" cy="94.7" r="0.65" fill="#8a8a94"/>
<circle cx="214.9" cy="91.3" r="0.65" fill="#8a8a94"/>
<circle cx="133.9" cy="100.3" r="0.65" fill="#8a8a94"/>
<circle cx="248.8" cy="95.8" r="0.65" fill="#8a8a94"/>
<circle cx="283.1" cy="86.5" r="0.65" fill="#8a8a94"/>
<circle cx="197.6" cy="92.1" r="0.65" fill="#8a8a94"/>
<circle cx="126.4" cy="97.7" r="0.65" fill="#8a8a94"/>
<circle cx="154.9" cy="86.1" r="0.65" fill="#8a8a94"/>
<circle cx="133.6" cy="101.5" r="0.65" fill="#8a8a94"/>
<circle cx="147.4" cy="89.7" r="0.65" fill="#8a8a94"/>
<circle cx="198.6" cy="95.8" r="0.65" fill="#8a8a94"/>
<circle cx="137.8" cy="95.1" r="0.65" fill="#8a8a94"/>
<circle cx="229.7" cy="94.6" r="0.65" fill="#8a8a94"/>
<circle cx="282.6" cy="93.7" r="0.65" fill="#8a8a94"/>
<circle cx="176.6" cy="89" r="0.65" fill="#8a8a94"/>
<circle cx="192.3" cy="96.5" r="0.65" fill="#8a8a94"/>
<circle cx="309.7" cy="88.1" r="0.65" fill="#8a8a94"/>
<circle cx="156.5" cy="87.9" r="0.65" fill="#8a8a94"/>
<circle cx="167.7" cy="91.2" r="0.65" fill="#8a8a94"/>
<circle cx="237.5" cy="84" r="0.65" fill="#8a8a94"/>
<circle cx="122.8" cy="97.9" r="0.65" fill="#8a8a94"/>
<circle cx="194.4" cy="90.4" r="0.65" fill="#8a8a94"/>
<circle cx="308.8" cy="92.7" r="0.65" fill="#8a8a94"/>
<circle cx="223" cy="90.2" r="0.65" fill="#8a8a94"/>
<circle cx="254.5" cy="81.3" r="0.65" fill="#8a8a94"/>
<circle cx="298.3" cy="93" r="0.65" fill="#8a8a94"/>
<circle cx="293.4" cy="93.1" r="0.65" fill="#8a8a94"/>
<circle cx="128" cy="86.4" r="1.2" fill="#141414"/>
<circle cx="138" cy="83.8" r="1.2" fill="#141414"/>
<circle cx="148" cy="81.2" r="1.2" fill="#141414"/>
<circle cx="158" cy="80.2" r="1.2" fill="#141414"/>
<circle cx="168" cy="78" r="1.2" fill="#141414"/>
<circle cx="178" cy="76.9" r="1.2" fill="#141414"/>
<circle cx="188" cy="76.3" r="1.2" fill="#141414"/>
<circle cx="198" cy="75.8" r="1.2" fill="#141414"/>
<circle cx="208" cy="75.8" r="1.2" fill="#141414"/>
<circle cx="218" cy="75.4" r="1.2" fill="#141414"/>
<circle cx="228" cy="75.6" r="1.2" fill="#141414"/>
<circle cx="238" cy="76.2" r="1.2" fill="#141414"/>
<circle cx="248" cy="76.7" r="1.2" fill="#141414"/>
<circle cx="258" cy="77.8" r="1.2" fill="#141414"/>
<circle cx="268" cy="78.4" r="1.2" fill="#141414"/>
<circle cx="278" cy="80.4" r="1.2" fill="#141414"/>
<circle cx="288" cy="81.5" r="1.2" fill="#141414"/>
<circle cx="298" cy="82.7" r="1.2" fill="#141414"/>
<circle cx="308" cy="84.7" r="1.2" fill="#141414"/>
  </g></g>
  
  <circle cx="102.3" cy="101.9" r="8.2" fill="#3a3628"/>
  <circle cx="102.3" cy="101.9" r="6.5" fill="#c8c8b0"/>
  <path d="M96.7,102.9 A5.7,5.7 0 0 1 103.3,96.3" stroke="#e8d820" stroke-width="1.2" fill="none"/>
  <circle cx="102.3" cy="101.9" r="5.2" fill="#101010"/>
  </g>
</svg>

<div class="lab" style="left:356px;top:240px"><span style="top:0px">HOBG</span></div>
<div class="nm" style="left:426px;top:240px"><span style="top:0px">Orange Back Gold</span></div>
<svg class="img" style="left:356px;top:262px" width="340" height="200" viewBox="0 0 340 200">
  <rect width="340" height="200" fill="#fafafa"/>
  <g transform="translate(0,0) rotate(0,81,101)">
  <path d="M95.3,108 L87.4,110.4 L54.2,124.6 L11.6,142.8 L6.1,147.8 L14.8,149 L62,139.6 L93.7,125.4 L101.6,117.5 Z" fill="#f8f9fb" stroke="#c8ced8" stroke-width="0.8"/>
  <path d="M14,144.5 L58,126 L93,111" stroke="#d6dbe3" stroke-width="1.8" fill="none"/>
  <path d="M30,141 L62,131 L95,117" stroke="#e4e8ee" stroke-width="1.2" fill="none"/>
  <path d="M36,139.5 L48,136" stroke="#a8b4d0" stroke-width="0.9" fill="none"/>
  <path d="M26,142 L35,139.8" stroke="#e8c8a8" stroke-width="0.9" fill="none"/>
  <path d="M6.1,147.8 L8,145.6 L14,144.6 L15.5,148.8 Z" fill="#9098b0"/>
  <path d="M88,113 L96,110 L100,117 L92,121 Z" fill="#e8ecf2"/>
  <path d="M64,129 L82,120 L94,112" stroke="#c4cad3" stroke-width="1.1" fill="none"/>
  <path d="M70,131 Q84,128 90,121" stroke="#bcc3cc" stroke-width="1" fill="none"/>
  <path d="M72,121 L84,115" stroke="#c8ced6" stroke-width="1.2" fill="none"/>
  <path d="M62.95,122.33 A4.9,4.9 0 1 1 68.40,119.18" fill="none" stroke="#5e5c58" stroke-width="1.4"/>
  <path d="M175,104 L175.4,108 M179,104 L178.6,108" stroke="#b87028" stroke-width="1.2"/>
  <path d="M179.55,108.06 A4.9,4.9 0 1 1 174.65,108.06" fill="none" stroke="#5e5c58" stroke-width="1.4"/>
  <path d="M323.90,93.98 A4.9,4.9 0 1 1 324.26,94.75" fill="none" stroke="#5e5c58" stroke-width="1.4"/>
  <clipPath id="c4"><path d="M81,101 L83.1,99.7 L85.3,98.4 L87.5,97.1 L89.8,95.8 L92.2,94.5 L94.7,93.1 L97.2,91.8 L99.8,90.5 L102.5,89.1 L105.3,87.8 L108.1,86.5 L111.1,85.2 L114.1,83.9 L117.3,82.7 L120.5,81.5 L123.9,80.3 L127.3,79.1 L130.9,78 L134.6,76.9 L138.3,75.9 L142.2,74.9 L146.2,73.9 L150.4,73 L154.7,72.2 L159,71.4 L163.6,70.7 L168.2,70.1 L173,69.5 L177.9,69 L183,68.6 L188.2,68.2 L193.6,68 L199.1,67.8 L203,67.8 L207.5,67.8 L212,67.8 L216.5,67.9 L221,68.1 L225.5,68.3 L229.9,68.5 L234.3,68.8 L238.7,69.2 L243,69.5 L247.3,70 L251.5,70.4 L255.7,70.9 L259.8,71.4 L263.9,72 L267.9,72.6 L271.8,73.2 L275.6,73.8 L279.3,74.5 L283,75.1 L286.6,75.8 L290,76.5 L293.4,77.3 L296.7,78 L299.8,78.8 L302.9,79.5 L305.8,80.3 L308.6,81 L311.2,81.8 L313.8,82.6 L316.2,83.3 L318.4,84.1 L320.5,84.8 L323.6,92 L323.4,88 L323.6,92 L323.6,92 L318.6,97.6 L315.9,97.7 L313,97.8 L310.2,97.9 L307.2,98 L304.3,98.1 L301.2,98.2 L298.1,98.3 L295,98.4 L291.8,98.6 L288.5,98.7 L285.2,98.8 L281.8,98.9 L278.4,99.1 L274.9,99.2 L271.4,99.4 L267.8,99.6 L264.2,99.7 L260.5,99.9 L256.7,100.1 L252.9,100.3 L249.1,100.5 L245.1,100.7 L241.2,100.9 L237.1,101.1 L233.1,101.4 L228.9,101.6 L224.8,101.9 L220.5,102.1 L216.2,102.4 L211.9,102.7 L207.5,103 L203,103.3 L199.4,103.5 L195.8,103.8 L192.3,104.1 L188.8,104.4 L185.4,104.7 L182,105 L178.7,105.3 L175.4,105.6 L172.2,105.9 L169.1,106.2 L165.9,106.5 L162.9,106.8 L159.9,107.2 L156.9,107.5 L154,107.8 L151.1,108.2 L148.3,108.5 L145.5,108.9 L142.8,109.2 L140.1,109.6 L137.5,109.9 L134.9,110.3 L132.3,110.6 L129.8,111 L127.3,111.4 L124.9,111.8 L122.5,112.1 L120.2,112.5 L117.9,112.9 L115.6,113.3 L113.4,113.6 L111.2,114 L109.1,114.4 L107,114.8 L106.2,114.7 L105.4,114.5 L104.5,114.2 L103.6,114 L102.7,113.7 L101.8,113.4 L101,113.1 L100.1,112.7 L99.2,112.4 L98.4,112 L97.6,111.6 L96.7,111.2 L95.9,110.8 L95.1,110.4 L94.3,109.9 L93.5,109.5 L92.7,109 L91.9,108.5 L91.1,108 L90.3,107.5 L89.6,107 L88.8,106.5 L88.1,106 L87.4,105.5 L86.6,105 L85.9,104.5 L85.2,104 L84.5,103.5 L83.8,103 L83.2,102.6 L82.5,102.1 L81.9,101.6 L81.2,101.2 L81,101 Z"/></clipPath>
  <g clip-path="url(#c4)"><g opacity="0.995">
<path d="M81,98 L84,96.2 L87,94.4 L90,92.7 L93,91 L96,89.4 L99,87.9 L102,86.4 L105,84.9 L108,83.6 L111,82.3 L114,81 L117,79.8 L120,78.7 L123,77.6 L126,76.6 L129,75.6 L130,75.3 L138,73 L146,71 L154,69.3 L162,68 L170,66.9 L178,66 L186,65.4 L194,65 L202,64.8 L210,64.8 L218,65 L226,65.3 L234,65.8 L242,66.4 L250,67.2 L258,68.2 L266,69.3 L274,70.5 L282,72 L290,73.5 L298,75.3 L306,77.3 L314,79.6 L318,80.9 L321.5,82.2 L322.8,83.2 L323.4,85 L323.6,89 L323.6,95 L323.4,98 L322.8,99.8 L321.5,100.2 L318,100.7 L314,100.8 L306,101 L298,101.3 L290,101.6 L282,101.9 L274,102.3 L266,102.6 L258,103 L250,103.4 L242,103.9 L234,104.3 L226,104.8 L218,105.3 L210,105.8 L202,106.4 L194,107 L186,107.6 L178,108.3 L170,109.1 L162,109.9 L154,110.8 L146,111.8 L138,112.8 L130,114 L129,114.1 L126,114.6 L123,115 L120,115.5 L117,116 L114,116.5 L111,117.1 L108,117.6 L105,117.4 L102,116.5 L99,115.3 L96,113.8 L93,112.2 L90,110.3 L87,108.3 L84,106.2 L81,104 Z" fill="#ed601b"/>
<path d="M81,101 L84,99.3 L87,97.6 L90,96 L93,94.4 L96,92.9 L99,91.4 L102,90 L105,88.6 L108,87.3 L111,86 L114,84.8 L117,83.6 L120,82.5 L123,81.4 L126,80.4 L129,79.5 L130,79.1 L138,76.9 L146,74.9 L154,73.3 L162,71.9 L170,70.8 L178,70 L186,69.3 L194,68.9 L202,68.7 L210,68.7 L218,68.9 L226,69.2 L234,69.7 L242,70.3 L250,71.1 L258,72 L266,73 L274,74.2 L282,75.6 L290,77.1 L298,78.8 L306,80.8 L314,83 L318,84.3 L321.5,85.5 L322.8,86.5 L323.4,88.2 L323.6,92 L323.6,95 L323.4,98 L322.8,99.8 L321.5,100.2 L318,100.7 L314,100.8 L306,101 L298,101.3 L290,101.6 L282,101.9 L274,102.3 L266,102.6 L258,103 L250,103.4 L242,103.9 L234,104.3 L226,104.8 L218,105.3 L210,105.8 L202,106.4 L194,107 L186,107.6 L178,108.3 L170,109.1 L162,109.9 L154,110.8 L146,111.8 L138,112.8 L130,114 L129,114.1 L126,114.6 L123,115 L120,115.5 L117,116 L114,116.5 L111,117.1 L108,117.6 L105,117.4 L102,116.5 L99,115.3 L96,113.8 L93,112.2 L90,110.3 L87,108.3 L84,106.2 L81,104 Z" fill="#ee651c"/>
<path d="M81,101 L84,99.4 L87,97.8 L90,96.3 L93,94.8 L96,93.4 L99,92 L102,90.7 L105,89.4 L108,88.1 L111,86.8 L114,85.6 L117,84.4 L120,83.3 L123,82.3 L126,81.3 L129,80.3 L130,80 L138,77.8 L146,75.8 L154,74.2 L162,72.9 L170,71.8 L178,70.9 L186,70.3 L194,69.9 L202,69.7 L210,69.6 L218,69.8 L226,70.1 L234,70.5 L242,71.1 L250,71.9 L258,72.7 L266,73.8 L274,74.9 L282,76.2 L290,77.7 L298,79.4 L306,81.3 L314,83.4 L318,84.7 L321.5,85.8 L322.8,86.8 L323.4,88.4 L323.6,92 L323.6,95 L323.4,98 L322.8,99.8 L321.5,100.2 L318,100.7 L314,100.8 L306,101 L298,101.3 L290,101.6 L282,101.9 L274,102.3 L266,102.6 L258,103 L250,103.4 L242,103.9 L234,104.3 L226,104.8 L218,105.3 L210,105.8 L202,106.4 L194,107 L186,107.6 L178,108.3 L170,109.1 L162,109.9 L154,110.8 L146,111.8 L138,112.8 L130,114 L129,114.1 L126,114.6 L123,115 L120,115.5 L117,116 L114,116.5 L111,117.1 L108,117.6 L105,117.4 L102,116.5 L99,115.3 L96,113.8 L93,112.2 L90,110.3 L87,108.3 L84,106.2 L81,104 Z" fill="#ef6a1d"/>
<path d="M81,101 L84,99.5 L87,98.1 L90,96.6 L93,95.2 L96,93.9 L99,92.6 L102,91.3 L105,90.1 L108,88.8 L111,87.6 L114,86.4 L117,85.2 L120,84.1 L123,83.1 L126,82.1 L129,81.2 L130,80.9 L138,78.7 L146,76.8 L154,75.2 L162,73.8 L170,72.8 L178,71.9 L186,71.3 L194,70.9 L202,70.6 L210,70.6 L218,70.7 L226,71 L234,71.4 L242,72 L250,72.7 L258,73.5 L266,74.5 L274,75.6 L282,76.9 L290,78.3 L298,79.9 L306,81.7 L314,83.8 L318,85 L321.5,86.2 L322.8,87 L323.4,88.6 L323.6,92 L323.6,95 L323.4,98 L322.8,99.8 L321.5,100.2 L318,100.7 L314,100.8 L306,101 L298,101.3 L290,101.6 L282,101.9 L274,102.3 L266,102.6 L258,103 L250,103.4 L242,103.9 L234,104.3 L226,104.8 L218,105.3 L210,105.8 L202,106.4 L194,107 L186,107.6 L178,108.3 L170,109.1 L162,109.9 L154,110.8 L146,111.8 L138,112.8 L130,114 L129,114.1 L126,114.6 L123,115 L120,115.5 L117,116 L114,116.5 L111,117.1 L108,117.6 L105,117.4 L102,116.5 L99,115.3 L96,113.8 L93,112.2 L90,110.3 L87,108.3 L84,106.2 L81,104 Z" fill="#f27f26"/>
<path d="M81,101 L84,99.6 L87,98.3 L90,97 L93,95.7 L96,94.4 L99,93.2 L102,92 L105,90.8 L108,89.7 L111,88.4 L114,87.3 L117,86.1 L120,85.1 L123,84 L126,83.1 L129,82.2 L130,81.9 L138,79.7 L146,77.8 L154,76.2 L162,74.9 L170,73.8 L178,73 L186,72.4 L194,71.9 L202,71.7 L210,71.6 L218,71.7 L226,72 L234,72.4 L242,72.9 L250,73.6 L258,74.4 L266,75.3 L274,76.4 L282,77.6 L290,79 L298,80.5 L306,82.3 L314,84.3 L318,85.4 L321.5,86.5 L322.8,87.4 L323.4,88.8 L323.6,92 L323.6,95 L323.4,98 L322.8,99.8 L321.5,100.2 L318,100.7 L314,100.8 L306,101 L298,101.3 L290,101.6 L282,101.9 L274,102.3 L266,102.6 L258,103 L250,103.4 L242,103.9 L234,104.3 L226,104.8 L218,105.3 L210,105.8 L202,106.4 L194,107 L186,107.6 L178,108.3 L170,109.1 L162,109.9 L154,110.8 L146,111.8 L138,112.8 L130,114 L129,114.1 L126,114.6 L123,115 L120,115.5 L117,116 L114,116.5 L111,117.1 L108,117.6 L105,117.4 L102,116.5 L99,115.3 L96,113.8 L93,112.2 L90,110.3 L87,108.3 L84,106.2 L81,104 Z" fill="#f69630"/>
<path d="M81,101 L84,99.7 L87,98.5 L90,97.3 L93,96.1 L96,94.9 L99,93.8 L102,92.7 L105,91.6 L108,90.4 L111,89.2 L114,88 L117,86.9 L120,85.9 L123,84.9 L126,83.9 L129,83 L130,82.7 L138,80.6 L146,78.7 L154,77.2 L162,75.9 L170,74.8 L178,74 L186,73.3 L194,72.9 L202,72.6 L210,72.6 L218,72.7 L226,72.9 L234,73.2 L242,73.7 L250,74.4 L258,75.1 L266,76 L274,77.1 L282,78.2 L290,79.6 L298,81 L306,82.7 L314,84.7 L318,85.8 L321.5,86.8 L322.8,87.6 L323.4,89 L323.6,92 L323.6,95 L323.4,98 L322.8,99.8 L321.5,100.2 L318,100.7 L314,100.8 L306,101 L298,101.3 L290,101.6 L282,101.9 L274,102.3 L266,102.6 L258,103 L250,103.4 L242,103.9 L234,104.3 L226,104.8 L218,105.3 L210,105.8 L202,106.4 L194,107 L186,107.6 L178,108.3 L170,109.1 L162,109.9 L154,110.8 L146,111.8 L138,112.8 L130,114 L129,114.1 L126,114.6 L123,115 L120,115.5 L117,116 L114,116.5 L111,117.1 L108,117.6 L105,117.4 L102,116.5 L99,115.3 L96,113.8 L93,112.2 L90,110.3 L87,108.3 L84,106.2 L81,104 Z" fill="#f69f35"/>
<path d="M81,101 L84,99.8 L87,98.7 L90,97.6 L93,96.5 L96,95.4 L99,94.4 L102,93.3 L105,92.3 L108,91.2 L111,90 L114,88.8 L117,87.7 L120,86.7 L123,85.7 L126,84.8 L129,83.9 L130,83.6 L138,81.5 L146,79.7 L154,78.1 L162,76.8 L170,75.8 L178,74.9 L186,74.3 L194,73.9 L202,73.6 L210,73.5 L218,73.6 L226,73.8 L234,74.1 L242,74.6 L250,75.2 L258,75.9 L266,76.8 L274,77.7 L282,78.9 L290,80.1 L298,81.6 L306,83.2 L314,85.1 L318,86.2 L321.5,87.2 L322.8,87.9 L323.4,89.1 L323.6,92 L323.6,95 L323.4,98 L322.8,99.8 L321.5,100.2 L318,100.7 L314,100.8 L306,101 L298,101.3 L290,101.6 L282,101.9 L274,102.3 L266,102.6 L258,103 L250,103.4 L242,103.9 L234,104.3 L226,104.8 L218,105.3 L210,105.8 L202,106.4 L194,107 L186,107.6 L178,108.3 L170,109.1 L162,109.9 L154,110.8 L146,111.8 L138,112.8 L130,114 L129,114.1 L126,114.6 L123,115 L120,115.5 L117,116 L114,116.5 L111,117.1 L108,117.6 L105,117.4 L102,116.5 L99,115.3 L96,113.8 L93,112.2 L90,110.3 L87,108.3 L84,106.2 L81,104 Z" fill="#f8a83a"/>
<path d="M81,101 L84,99.9 L87,98.9 L90,97.9 L93,96.9 L96,95.9 L99,94.9 L102,94 L105,93 L108,91.9 L111,90.7 L114,89.6 L117,88.5 L120,87.5 L123,86.6 L126,85.6 L129,84.8 L130,84.5 L138,82.4 L146,80.6 L154,79.1 L162,77.8 L170,76.7 L178,75.9 L186,75.3 L194,74.8 L202,74.5 L210,74.4 L218,74.5 L226,74.7 L234,75 L242,75.4 L250,76 L258,76.7 L266,77.5 L274,78.4 L282,79.5 L290,80.7 L298,82.1 L306,83.7 L314,85.5 L318,86.5 L321.5,87.5 L322.8,88.2 L323.4,89.3 L323.6,92 L323.6,95 L323.4,98 L322.8,99.8 L321.5,100.2 L318,100.7 L314,100.8 L306,101 L298,101.3 L290,101.6 L282,101.9 L274,102.3 L266,102.6 L258,103 L250,103.4 L242,103.9 L234,104.3 L226,104.8 L218,105.3 L210,105.8 L202,106.4 L194,107 L186,107.6 L178,108.3 L170,109.1 L162,109.9 L154,110.8 L146,111.8 L138,112.8 L130,114 L129,114.1 L126,114.6 L123,115 L120,115.5 L117,116 L114,116.5 L111,117.1 L108,117.6 L105,117.4 L102,116.5 L99,115.3 L96,113.8 L93,112.2 L90,110.3 L87,108.3 L84,106.2 L81,104 Z" fill="#f8b23c"/>
<path d="M81,101 L84,100 L87,99.1 L90,98.2 L93,97.3 L96,96.4 L99,95.5 L102,94.6 L105,93.6 L108,92.6 L111,91.5 L114,90.4 L117,89.3 L120,88.3 L123,87.4 L126,86.4 L129,85.6 L130,85.3 L138,83.2 L146,81.5 L154,80 L162,78.7 L170,77.6 L178,76.8 L186,76.2 L194,75.7 L202,75.4 L210,75.3 L218,75.3 L226,75.5 L234,75.8 L242,76.2 L250,76.7 L258,77.4 L266,78.2 L274,79.1 L282,80.1 L290,81.3 L298,82.6 L306,84.1 L314,85.9 L318,86.9 L321.5,87.8 L322.8,88.5 L323.4,89.5 L323.6,92 L323.6,95 L323.4,98 L322.8,99.8 L321.5,100.2 L318,100.7 L314,100.8 L306,101 L298,101.3 L290,101.6 L282,101.9 L274,102.3 L266,102.6 L258,103 L250,103.4 L242,103.9 L234,104.3 L226,104.8 L218,105.3 L210,105.8 L202,106.4 L194,107 L186,107.6 L178,108.3 L170,109.1 L162,109.9 L154,110.8 L146,111.8 L138,112.8 L130,114 L129,114.1 L126,114.6 L123,115 L120,115.5 L117,116 L114,116.5 L111,117.1 L108,117.6 L105,117.4 L102,116.5 L99,115.3 L96,113.8 L93,112.2 L90,110.3 L87,108.3 L84,106.2 L81,104 Z" fill="#f6be3a"/>
<path d="M81,101 L84,100.1 L87,99.3 L90,98.5 L93,97.7 L96,96.8 L99,96 L102,95.2 L105,94.3 L108,93.3 L111,92.2 L114,91.1 L117,90.1 L120,89.1 L123,88.1 L126,87.2 L129,86.4 L130,86.1 L138,84.1 L146,82.3 L154,80.8 L162,79.6 L170,78.6 L178,77.7 L186,77.1 L194,76.6 L202,76.3 L210,76.2 L218,76.2 L226,76.3 L234,76.6 L242,77 L250,77.5 L258,78.1 L266,78.9 L274,79.7 L282,80.7 L290,81.8 L298,83.1 L306,84.6 L314,86.3 L318,87.2 L321.5,88.1 L322.8,88.7 L323.4,89.7 L323.6,92 L323.6,95 L323.4,98 L322.8,99.8 L321.5,100.2 L318,100.7 L314,100.8 L306,101 L298,101.3 L290,101.6 L282,101.9 L274,102.3 L266,102.6 L258,103 L250,103.4 L242,103.9 L234,104.3 L226,104.8 L218,105.3 L210,105.8 L202,106.4 L194,107 L186,107.6 L178,108.3 L170,109.1 L162,109.9 L154,110.8 L146,111.8 L138,112.8 L130,114 L129,114.1 L126,114.6 L123,115 L120,115.5 L117,116 L114,116.5 L111,117.1 L108,117.6 L105,117.4 L102,116.5 L99,115.3 L96,113.8 L93,112.2 L90,110.3 L87,108.3 L84,106.2 L81,104 Z" fill="#f2c738"/>
<path d="M81,101 L84,100.2 L87,99.5 L90,98.8 L93,98 L96,97.3 L99,96.5 L102,95.8 L105,94.9 L108,94 L111,92.9 L114,91.8 L117,90.8 L120,89.8 L123,88.9 L126,88 L129,87.2 L130,86.9 L138,84.9 L146,83.2 L154,81.7 L162,80.5 L170,79.5 L178,78.6 L186,78 L194,77.5 L202,77.2 L210,77.1 L218,77.1 L226,77.2 L234,77.4 L242,77.8 L250,78.2 L258,78.8 L266,79.5 L274,80.4 L282,81.3 L290,82.4 L298,83.6 L306,85 L314,86.6 L318,87.6 L321.5,88.4 L322.8,89 L323.4,89.9 L323.6,92 L323.6,95 L323.4,98 L322.8,99.8 L321.5,100.2 L318,100.7 L314,100.8 L306,101 L298,101.3 L290,101.6 L282,101.9 L274,102.3 L266,102.6 L258,103 L250,103.4 L242,103.9 L234,104.3 L226,104.8 L218,105.3 L210,105.8 L202,106.4 L194,107 L186,107.6 L178,108.3 L170,109.1 L162,109.9 L154,110.8 L146,111.8 L138,112.8 L130,114 L129,114.1 L126,114.6 L123,115 L120,115.5 L117,116 L114,116.5 L111,117.1 L108,117.6 L105,117.4 L102,116.5 L99,115.3 L96,113.8 L93,112.2 L90,110.3 L87,108.3 L84,106.2 L81,104 Z" fill="#eccd32"/>
<path d="M81,101 L84,100.3 L87,99.7 L90,99.1 L93,98.4 L96,97.8 L99,97.1 L102,96.4 L105,95.6 L108,94.7 L111,93.6 L114,92.6 L117,91.6 L120,90.6 L123,89.7 L126,88.8 L129,88 L130,87.8 L138,85.8 L146,84.1 L154,82.6 L162,81.4 L170,80.4 L178,79.5 L186,78.9 L194,78.4 L202,78.1 L210,77.9 L218,77.9 L226,78 L234,78.2 L242,78.6 L250,79 L258,79.6 L266,80.2 L274,81 L282,81.9 L290,82.9 L298,84.1 L306,85.5 L314,87 L318,87.9 L321.5,88.7 L322.8,89.3 L323.4,90 L323.6,92 L323.6,95 L323.4,98 L322.8,99.8 L321.5,100.2 L318,100.7 L314,100.8 L306,101 L298,101.3 L290,101.6 L282,101.9 L274,102.3 L266,102.6 L258,103 L250,103.4 L242,103.9 L234,104.3 L226,104.8 L218,105.3 L210,105.8 L202,106.4 L194,107 L186,107.6 L178,108.3 L170,109.1 L162,109.9 L154,110.8 L146,111.8 L138,112.8 L130,114 L129,114.1 L126,114.6 L123,115 L120,115.5 L117,116 L114,116.5 L111,117.1 L108,117.6 L105,117.4 L102,116.5 L99,115.3 L96,113.8 L93,112.2 L90,110.3 L87,108.3 L84,106.2 L81,104 Z" fill="#a8c02e"/>
<polygon points="113,92.6 115.6,91.7 116.6,99.5 115.6,115.3 113,115.7 114,100.2" fill="#4e9e2a"/>
<polygon points="118.2,95.8 121.8,93.5 119.6,105.8 116,107.8" fill="#e2da28"/>
<polygon points="116,107.8 119.6,105.8 120.8,109.9 117.6,111.7" fill="#b8d63e"/>
<polygon points="116,92.2 120,90.9 121,95 117,96.1" fill="#a8cc30"/>
<polygon points="116,92.2 118.5,91.4 118.5,92.9 116,93.7" fill="#30a060" fill-opacity="0.5"/>
<polygon points="120.8,90.1 123.4,89.3 124.4,97.6 123.4,114 120.8,114.4 121.8,98.2" fill="#4e9e2a"/>
<polygon points="126,93.6 129.6,91.5 127.4,104.3 123.8,106.2" fill="#e2da28"/>
<polygon points="123.8,106.2 127.4,104.3 128.6,108.6 125.4,110.4" fill="#b8d63e"/>
<polygon points="123.8,89.8 127.8,88.7 128.8,93 124.8,94" fill="#a8cc30"/>
<polygon points="123.8,89.8 126.3,89.1 126.3,90.7 123.8,91.4" fill="#30a060" fill-opacity="0.5"/>
<polygon points="128.6,87.8 131.2,87.1 132.2,95.8 131.2,112.8 128.6,113.2 129.6,96.3" fill="#4e9e2a"/>
<polygon points="133.8,91.8 137.4,89.6 135.2,102.9 131.6,104.8" fill="#e2da28"/>
<polygon points="131.6,104.8 135.2,102.9 136.4,107.4 133.2,109.2" fill="#b8d63e"/>
<polygon points="131.6,87.7 135.6,86.7 136.6,91.2 132.6,92.1" fill="#a8cc30"/>
<polygon points="131.6,87.7 134.1,87 134.1,88.7 131.6,89.3" fill="#30a060" fill-opacity="0.5"/>
<polygon points="136.4,85.8 139,85.2 140,94.2 139,111.7 136.4,112.1 137.4,94.7" fill="#4e9e2a"/>
<polygon points="141.6,90.1 145.2,88.1 143,101.6 139.4,103.5" fill="#e2da28"/>
<polygon points="139.4,103.5 143,101.6 144.2,106.3 141,108.1" fill="#b8d63e"/>
<polygon points="139.4,85.8 143.4,85 144.4,89.6 140.4,90.4" fill="#a8cc30"/>
<polygon points="139.4,85.8 141.9,85.3 141.9,87 139.4,87.5" fill="#30a060" fill-opacity="0.5"/>
<polygon points="144.2,84.1 146.8,83.6 147.8,92.8 146.8,110.7 144.2,111 145.2,93.3" fill="#4e9e2a"/>
<polygon points="149.4,88.7 153,86.7 150.8,100.5 147.2,102.4" fill="#e2da28"/>
<polygon points="147.2,102.4 150.8,100.5 152,105.2 148.8,107.1" fill="#b8d63e"/>
<polygon points="147.2,84.2 151.2,83.5 152.2,88.2 148.2,88.9" fill="#a8cc30"/>
<polygon points="147.2,84.2 149.7,83.7 149.7,85.5 147.2,85.9" fill="#30a060" fill-opacity="0.5"/>
<polygon points="152,82.6 154.6,82.2 155.6,91.6 154.6,109.8 152,110.1 153,92" fill="#4e9e2a"/>
<polygon points="157.2,87.5 160.8,85.5 158.6,99.4 155,101.3" fill="#e2da28"/>
<polygon points="155,101.3 158.6,99.4 159.8,104.3 156.6,106.1" fill="#b8d63e"/>
<polygon points="155,82.8 159,82.2 160,87.1 156,87.6" fill="#a8cc30"/>
<polygon points="155,82.8 157.5,82.4 157.5,84.2 155,84.6" fill="#30a060" fill-opacity="0.5"/>
<polygon points="159.8,81.4 162.4,81 163.4,90.6 162.4,108.9 159.8,109.2 160.8,90.9" fill="#4e9e2a"/>
<polygon points="165,86.4 168.6,84.5 166.4,98.5 162.8,100.4" fill="#e2da28"/>
<polygon points="162.8,100.4 166.4,98.5 167.6,103.5 164.4,105.2" fill="#b8d63e"/>
<polygon points="162.8,81.6 166.8,81.1 167.8,86.1 163.8,86.6" fill="#a8cc30"/>
<polygon points="162.8,81.6 165.3,81.3 165.3,83.1 162.8,83.4" fill="#30a060" fill-opacity="0.5"/>
<polygon points="167.6,80.3 170.2,80 171.2,89.7 170.2,108.1 167.6,108.4 168.6,89.9" fill="#4e9e2a"/>
<polygon points="172.8,85.5 176.4,83.7 174.2,97.7 170.6,99.5" fill="#e2da28"/>
<polygon points="170.6,99.5 174.2,97.7 175.4,102.7 172.2,104.4" fill="#b8d63e"/>
<polygon points="170.6,80.7 174.6,80.2 175.6,85.2 171.6,85.6" fill="#a8cc30"/>
<polygon points="170.6,80.7 173.1,80.4 173.1,82.2 170.6,82.5" fill="#30a060" fill-opacity="0.5"/>
<polygon points="175.4,79.4 178,79.2 179,88.9 178,107.3 175.4,107.6 176.4,89.1" fill="#4e9e2a"/>
<polygon points="180.6,84.8 184.2,83 182,97 178.4,98.8" fill="#e2da28"/>
<polygon points="178.4,98.8 182,97 183.2,102 180,103.7" fill="#b8d63e"/>
<polygon points="178.4,79.9 182.4,79.5 183.4,84.5 179.4,84.9" fill="#a8cc30"/>
<polygon points="178.4,79.9 180.9,79.6 180.9,81.5 178.4,81.7" fill="#30a060" fill-opacity="0.5"/>
<polygon points="183.2,78.7 185.8,78.5 186.8,88.3 185.8,106.6 183.2,106.9 184.2,88.5" fill="#4e9e2a"/>
<polygon points="188.4,84.2 192,82.5 189.8,96.4 186.2,98.1" fill="#e2da28"/>
<polygon points="186.2,98.1 189.8,96.4 191,101.3 187.8,103" fill="#b8d63e"/>
<polygon points="186.2,79.2 190.2,79 191.2,84 187.2,84.2" fill="#a8cc30"/>
<polygon points="186.2,79.2 188.7,79.1 188.7,80.9 186.2,81" fill="#30a060" fill-opacity="0.5"/>
<polygon points="191,78.2 193.6,78.1 194.6,87.7 193.6,106 191,106.2 192,87.9" fill="#4e9e2a"/>
<polygon points="196.2,83.7 199.8,82.1 197.6,95.8 194,97.5" fill="#e2da28"/>
<polygon points="194,97.5 197.6,95.8 198.8,100.7 195.6,102.4" fill="#b8d63e"/>
<polygon points="194,78.8 198,78.6 199,83.6 195,83.8" fill="#a8cc30"/>
<polygon points="194,78.8 196.5,78.7 196.5,80.4 194,80.6" fill="#30a060" fill-opacity="0.5"/>
<polygon points="198.8,77.8 201.4,77.8 202.4,87.3 201.4,105.4 198.8,105.6 199.8,87.4" fill="#4e9e2a"/>
<polygon points="204,83.4 207.6,81.8 205.4,95.3 201.8,97" fill="#e2da28"/>
<polygon points="201.8,97 205.4,95.3 206.6,100.2 203.4,101.8" fill="#b8d63e"/>
<polygon points="201.8,78.5 205.8,78.4 206.8,83.3 202.8,83.4" fill="#a8cc30"/>
<polygon points="201.8,78.5 204.3,78.4 204.3,80.2 201.8,80.2" fill="#30a060" fill-opacity="0.5"/>
<polygon points="206.6,77.6 209.2,77.6 210.2,87 209.2,104.9 206.6,105 207.6,87.1" fill="#4e9e2a"/>
<polygon points="211.8,83.2 215.4,81.7 213.2,95 209.6,96.5" fill="#e2da28"/>
<polygon points="209.6,96.5 213.2,95 214.4,99.8 211.2,101.3" fill="#b8d63e"/>
<polygon points="209.6,78.3 213.6,78.3 214.6,83.1 210.6,83.2" fill="#a8cc30"/>
<polygon points="209.6,78.3 212.1,78.3 212.1,80 209.6,80" fill="#30a060" fill-opacity="0.5"/>
<polygon points="214.4,77.6 217,77.6 218,86.8 217,104.4 214.4,104.5 215.4,86.9" fill="#4e9e2a"/>
<polygon points="219.6,83.1 223.2,81.7 221,94.6 217.4,96.1" fill="#e2da28"/>
<polygon points="217.4,96.1 221,94.6 222.2,99.3 219,100.9" fill="#b8d63e"/>
<polygon points="217.4,78.3 221.4,78.3 222.4,83 218.4,83.1" fill="#a8cc30"/>
<polygon points="217.4,78.3 219.9,78.3 219.9,80 217.4,80" fill="#30a060" fill-opacity="0.5"/>
<polygon points="222.2,77.6 224.8,77.7 225.8,86.7 224.8,103.9 222.2,104 223.2,86.8" fill="#4e9e2a"/>
<polygon points="227.4,83 231,81.8 228.8,94.3 225.2,95.8" fill="#e2da28"/>
<polygon points="225.2,95.8 228.8,94.3 230,98.9 226.8,100.4" fill="#b8d63e"/>
<polygon points="225.2,78.3 229.2,78.4 230.2,83.1 226.2,83" fill="#a8cc30"/>
<polygon points="225.2,78.3 227.7,78.4 227.7,80 225.2,80" fill="#30a060" fill-opacity="0.5"/>
<polygon points="230,77.8 232.6,77.9 233.6,86.7 232.6,103.4 230,103.6 231,86.7" fill="#4e9e2a"/>
<polygon points="235.2,83.1 238.8,81.9 236.6,94.1 233,95.5" fill="#e2da28"/>
<polygon points="233,95.5 236.6,94.1 237.8,98.5 234.6,100" fill="#b8d63e"/>
<polygon points="233,78.5 237,78.7 238,83.2 234,83.1" fill="#a8cc30"/>
<polygon points="233,78.5 235.5,78.6 235.5,80.2 233,80.2" fill="#30a060" fill-opacity="0.5"/>
<polygon points="237.8,78.1 240.4,78.2 241.4,86.7 240.4,103 237.8,103.1 238.8,86.7" fill="#4e9e2a"/>
<polygon points="243,83.3 246.6,82.2 244.4,93.9 240.8,95.2" fill="#e2da28"/>
<polygon points="240.8,95.2 244.4,93.9 245.6,98.2 242.4,99.6" fill="#b8d63e"/>
<polygon points="240.8,78.8 244.8,79 245.8,83.4 241.8,83.3" fill="#a8cc30"/>
<polygon points="240.8,78.8 243.3,78.9 243.3,80.5 240.8,80.4" fill="#30a060" fill-opacity="0.5"/>
<polygon points="245.6,78.4 248.2,78.6 249.2,86.8 248.2,102.5 245.6,102.7 246.6,86.8" fill="#4e9e2a"/>
<polygon points="250.8,83.6 254.4,82.5 252.2,93.8 248.6,95" fill="#e2da28"/>
<polygon points="248.6,95 252.2,93.8 253.4,97.9 250.2,99.2" fill="#b8d63e"/>
<polygon points="248.6,79.2 252.6,79.5 253.6,83.7 249.6,83.5" fill="#a8cc30"/>
<polygon points="248.6,79.2 251.1,79.4 251.1,80.9 248.6,80.7" fill="#30a060" fill-opacity="0.5"/>
<polygon points="253.4,78.9 256,79.1 257,87 256,102.1 253.4,102.3 254.4,87" fill="#4e9e2a"/>
<polygon points="258.6,83.9 262.2,83 260,93.7 256.4,94.9" fill="#e2da28"/>
<polygon points="256.4,94.9 260,93.7 261.2,97.6 258,98.9" fill="#b8d63e"/>
<polygon points="256.4,79.7 260.4,80 261.4,84.1 257.4,83.9" fill="#a8cc30"/>
<polygon points="256.4,79.7 258.9,79.9 258.9,81.3 256.4,81.2" fill="#30a060" fill-opacity="0.5"/>
<polygon points="261.2,79.5 263.8,79.8 264.8,87.3 263.8,101.7 261.2,101.9 262.2,87.2" fill="#4e9e2a"/>
<polygon points="266.4,84.4 270,83.5 267.8,93.6 264.2,94.7" fill="#e2da28"/>
<polygon points="264.2,94.7 267.8,93.6 269,97.4 265.8,98.6" fill="#b8d63e"/>
<polygon points="264.2,80.3 268.2,80.7 269.2,84.5 265.2,84.3" fill="#a8cc30"/>
<polygon points="264.2,80.3 266.7,80.6 266.7,81.9 264.2,81.7" fill="#30a060" fill-opacity="0.5"/>
<polygon points="269,80.2 271.6,80.5 272.6,87.6 271.6,101.4 269,101.5 270,87.5" fill="#4e9e2a"/>
<polygon points="274.2,84.9 277.8,84.2 275.6,93.6 272,94.7" fill="#e2da28"/>
<polygon points="272,94.7 275.6,93.6 276.8,97.1 273.6,98.3" fill="#b8d63e"/>
<polygon points="272,81.1 276,81.5 277,85.1 273,84.8" fill="#a8cc30"/>
<polygon points="272,81.1 274.5,81.3 274.5,82.6 272,82.4" fill="#30a060" fill-opacity="0.5"/>
<polygon points="276.8,81.1 279.4,81.4 280.4,88.1 279.4,101 276.8,101.2 277.8,87.9" fill="#4e9e2a"/>
<polygon points="282,85.5 285.6,84.9 283.4,93.7 279.8,94.6" fill="#e2da28"/>
<polygon points="279.8,94.6 283.4,93.7 284.6,97 281.4,98" fill="#b8d63e"/>
<polygon points="279.8,81.9 283.8,82.4 284.8,85.8 280.8,85.4" fill="#a8cc30"/>
<polygon points="279.8,81.9 282.3,82.2 282.3,83.4 279.8,83.1" fill="#30a060" fill-opacity="0.5"/>
<polygon points="284.6,82 287.2,82.3 288.2,88.6 287.2,100.7 284.6,100.8 285.6,88.4" fill="#4e9e2a"/>
<polygon points="289.8,86.2 293.4,85.8 291.2,93.8 287.6,94.6" fill="#e2da28"/>
<polygon points="287.6,94.6 291.2,93.8 292.4,96.8 289.2,97.8" fill="#b8d63e"/>
<polygon points="287.6,82.8 291.6,83.4 292.6,86.5 288.6,86.1" fill="#a8cc30"/>
<polygon points="287.6,82.8 290.1,83.2 290.1,84.3 287.6,84" fill="#30a060" fill-opacity="0.5"/>
<polygon points="292.4,83.1 295,83.5 296,89.2 295,100.4 292.4,100.5 293.4,88.9" fill="#4e9e2a"/>
<polygon points="297.6,87.1 301.2,86.7 299,93.9 295.4,94.7" fill="#e2da28"/>
<polygon points="295.4,94.7 299,93.9 300.2,96.7 297,97.5" fill="#b8d63e"/>
<polygon points="295.4,83.9 299.4,84.5 300.4,87.4 296.4,86.9" fill="#a8cc30"/>
<polygon points="295.4,83.9 297.9,84.3 297.9,85.3 295.4,85" fill="#30a060" fill-opacity="0.5"/>
<polygon points="300.2,84.3 302.8,84.7 303.8,89.9 302.8,100.2 300.2,100.2 301.2,89.6" fill="#4e9e2a"/>
<polygon points="305.4,88 309,87.9 306.8,94.2 303.2,94.8" fill="#e2da28"/>
<polygon points="303.2,94.8 306.8,94.2 308,96.6 304.8,97.4" fill="#b8d63e"/>
<polygon points="303.2,85.2 307.2,85.9 308.2,88.4 304.2,87.9" fill="#a8cc30"/>
<polygon points="303.2,85.2 305.7,85.6 305.7,86.5 303.2,86.1" fill="#30a060" fill-opacity="0.5"/>
<polygon points="308,85.7 310.6,86.2 311.6,90.7 310.6,99.9 308,100 309,90.4" fill="#4e9e2a"/>
<polygon points="313.2,89.2 316.8,89.2 314.6,94.5 311,95" fill="#e2da28"/>
<polygon points="311,95 314.6,94.5 315.8,96.6 312.6,97.2" fill="#b8d63e"/>
<polygon points="311,86.6 315,87.4 316,89.6 312,89" fill="#a8cc30"/>
<polygon points="311,86.6 313.5,87.1 313.5,87.8 311,87.4" fill="#30a060" fill-opacity="0.5"/>
<polygon points="315.8,87.3 318.4,87.9 319.4,91.7 318.4,99.6 315.8,99.7 316.8,91.3" fill="#4e9e2a"/>
<polygon points="321,90.4 324.6,92 322.4,94.5 318.8,95.2" fill="#e2da28"/>
<polygon points="318.8,95.2 322.4,94.5 323.6,92 320.4,97" fill="#b8d63e"/>
<polygon points="318.8,88.2 322.8,89.4 323.8,92 319.8,90.3" fill="#a8cc30"/>
<polygon points="318.8,88.2 321.3,88.8 321.3,89.4 318.8,88.9" fill="#30a060" fill-opacity="0.5"/>
<polygon points="323.6,92 326.2,92 327.2,92 326.2,94 323.6,94 324.6,92" fill="#4e9e2a"/>
<polygon points="328.8,92 332.4,92 330.2,92 326.6,92" fill="#e2da28"/>
<polygon points="326.6,92 330.2,92 331.4,92 328.2,92" fill="#b8d63e"/>
<polygon points="326.6,92 330.6,92 331.6,92 327.6,92" fill="#a8cc30"/>
<polygon points="326.6,92 329.1,92 329.1,92 326.6,92" fill="#30a060" fill-opacity="0.5"/>
<path d="M81,101 L84,103 L87,104.9 L90,106.7 L93,108.4 L96,109.9 L99,111.2 L102,112.3 L105,113 L108,113.2 L111,112.6 L114,112.1 L117,111.5 L120,111 L123,110.5 L126,110 L129,109.5 L130,109.3 L138,108.2 L146,107.1 L154,106.1 L162,105.1 L170,104.3 L178,103.5 L186,102.8 L194,102.2 L202,101.6 L210,101.1 L218,100.6 L226,100.1 L234,99.7 L242,99.3 L250,98.9 L258,98.6 L266,98.3 L274,98 L282,97.7 L290,97.5 L298,97.3 L306,97.2 L314,97 L318,97 L321.5,96.6 L322.8,96.3 L323.4,94.7 L323.6,92 L323.6,95 L323.4,98 L322.8,99.8 L321.5,100.2 L318,100.7 L314,100.8 L306,101 L298,101.3 L290,101.6 L282,101.9 L274,102.3 L266,102.6 L258,103 L250,103.4 L242,103.9 L234,104.3 L226,104.8 L218,105.3 L210,105.8 L202,106.4 L194,107 L186,107.6 L178,108.3 L170,109.1 L162,109.9 L154,110.8 L146,111.8 L138,112.8 L130,114 L129,114.1 L126,114.6 L123,115 L120,115.5 L117,116 L114,116.5 L111,117.1 L108,117.6 L105,117.4 L102,116.5 L99,115.3 L96,113.8 L93,112.2 L90,110.3 L87,108.3 L84,106.2 L81,104 Z" fill="#e4ecc0"/>
<path d="M90,92 Q126,94 118,116 L96,116 Z" fill="#a8b828" filter="url(#blur2)"/>
<circle cx="103" cy="102" r="10.5" fill="#5a6a20" opacity="0.7" filter="url(#blur1)"/>
<path d="M80,101 L97,91 L100,100 L96,108 Z" fill="#f08828" filter="url(#blur1)"/>
<ellipse cx="96" cy="107" rx="8" ry="5" fill="#f0b040" opacity="0.85" filter="url(#blur1)"/>
<path d="M79,101.5 L100,89 L114,84.5 L112,89 L101,93.5 L89,99 Z" fill="#ee6018" filter="url(#blur05)"/>
  </g></g>
  
  <circle cx="102.3" cy="101.9" r="8.2" fill="#b8682a"/>
  <circle cx="102.3" cy="101.9" r="6.5" fill="#b8b4a8"/>
  <path d="M96.7,102.9 A5.7,5.7 0 0 1 103.3,96.3" stroke="#d8a060" stroke-width="1.2" fill="none"/>
  <circle cx="102.3" cy="101.9" r="5.2" fill="#1a1a1a"/>
  </g>
</svg>
</body></html>
